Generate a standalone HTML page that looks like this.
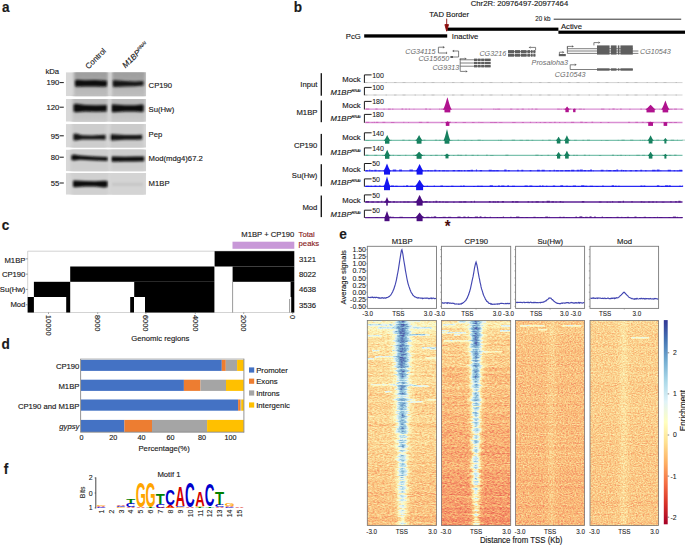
<!DOCTYPE html>
<html><head><meta charset="utf-8"><style>
html,body{margin:0;padding:0;background:#fff;width:685px;height:545px;overflow:hidden}
svg{display:block;font-family:"Liberation Sans",sans-serif;font-size:7.7px;fill:#1a1a1a}
text{stroke:#1a1a1a;stroke-width:0.14px}
text[fill]{stroke:none}
</style></head><body>
<svg width="685" height="545" viewBox="0 0 685 545">
<defs><filter id="bl1" x="-20%" y="-50%" width="140%" height="200%"><feGaussianBlur stdDeviation="1.2"/></filter>
<filter id="bl2" x="-20%" y="-50%" width="140%" height="200%"><feGaussianBlur stdDeviation="1.6"/></filter>
<clipPath id="cpa"><rect x="65.8" y="72.2" width="80.3" height="24"/><rect x="65.8" y="98.9" width="80.3" height="22.8"/><rect x="65.8" y="124.1" width="80.3" height="23.5"/><rect x="65.8" y="149.6" width="80.3" height="21.6"/><rect x="65.8" y="173.1" width="80.3" height="21.6"/></clipPath>
<linearGradient id="lg0" x1="0" y1="0" x2="0" y2="1"><stop offset="0" stop-color="#9c9c9c"/><stop offset="0.35" stop-color="#a2a2a2"/><stop offset="0.6" stop-color="#b6b6b6"/><stop offset="1" stop-color="#c0c0c0"/></linearGradient>
<linearGradient id="lg1" x1="0" y1="0" x2="0" y2="1"><stop offset="0" stop-color="#bcbcbc"/><stop offset="0.4" stop-color="#b4b4b4"/><stop offset="0.65" stop-color="#c4c4c4"/><stop offset="1" stop-color="#cacaca"/></linearGradient>
<linearGradient id="bandg"><stop offset="0" stop-color="#fff" stop-opacity="0"/><stop offset="0.2" stop-color="#fff" stop-opacity="0.15"/><stop offset="0.35" stop-color="#fff" stop-opacity="0.65"/><stop offset="0.5" stop-color="#fff" stop-opacity="1"/><stop offset="0.65" stop-color="#fff" stop-opacity="0.65"/><stop offset="0.8" stop-color="#fff" stop-opacity="0.15"/><stop offset="1" stop-color="#fff" stop-opacity="0"/></linearGradient>
<filter id="hmf0" filterUnits="userSpaceOnUse" x="367.3" y="320.5" width="69.2" height="205.1" color-interpolation-filters="sRGB"><feTurbulence type="fractalNoise" baseFrequency="0.4 1.1" numOctaves="2" seed="11" result="n"/><feColorMatrix in="n" type="matrix" values="1 0 0 0 0  1 0 0 0 0  1 0 0 0 0  0 0 0 0 1" result="ng"/><feComposite in="SourceGraphic" in2="ng" operator="arithmetic" k1="0" k2="1" k3="0.3" k4="-0.15" result="v"/><feComponentTransfer in="v"><feFuncR type="table" tableValues="0.69 0.86 0.95 0.98 0.99 0.99 0.89 0.71 0.53 0.38 0.31"/><feFuncG type="table" tableValues="0.15 0.31 0.51 0.73 0.89 0.99 0.95 0.87 0.72 0.54 0.33"/><feFuncB type="table" tableValues="0.28 0.28 0.38 0.47 0.63 0.78 0.97 0.92 0.84 0.75 0.65"/><feFuncA type="identity"/></feComponentTransfer></filter>
<filter id="hmf1" filterUnits="userSpaceOnUse" x="441.4" y="320.5" width="69.3" height="205.1" color-interpolation-filters="sRGB"><feTurbulence type="fractalNoise" baseFrequency="0.4 1.1" numOctaves="2" seed="12" result="n"/><feColorMatrix in="n" type="matrix" values="1 0 0 0 0  1 0 0 0 0  1 0 0 0 0  0 0 0 0 1" result="ng"/><feComposite in="SourceGraphic" in2="ng" operator="arithmetic" k1="0" k2="1" k3="0.3" k4="-0.15" result="v"/><feComponentTransfer in="v"><feFuncR type="table" tableValues="0.69 0.86 0.95 0.98 0.99 0.99 0.89 0.71 0.53 0.38 0.31"/><feFuncG type="table" tableValues="0.15 0.31 0.51 0.73 0.89 0.99 0.95 0.87 0.72 0.54 0.33"/><feFuncB type="table" tableValues="0.28 0.28 0.38 0.47 0.63 0.78 0.97 0.92 0.84 0.75 0.65"/><feFuncA type="identity"/></feComponentTransfer></filter>
<filter id="hmf2" filterUnits="userSpaceOnUse" x="515.6" y="320.5" width="69" height="205.1" color-interpolation-filters="sRGB"><feTurbulence type="fractalNoise" baseFrequency="0.6 0.9" numOctaves="2" seed="13" result="n"/><feColorMatrix in="n" type="matrix" values="1 0 0 0 0  1 0 0 0 0  1 0 0 0 0  0 0 0 0 1" result="ng"/><feComposite in="SourceGraphic" in2="ng" operator="arithmetic" k1="0" k2="1" k3="0.3" k4="-0.15" result="v"/><feComponentTransfer in="v"><feFuncR type="table" tableValues="0.69 0.86 0.95 0.98 0.99 0.99 0.89 0.71 0.53 0.38 0.31"/><feFuncG type="table" tableValues="0.15 0.31 0.51 0.73 0.89 0.99 0.95 0.87 0.72 0.54 0.33"/><feFuncB type="table" tableValues="0.28 0.28 0.38 0.47 0.63 0.78 0.97 0.92 0.84 0.75 0.65"/><feFuncA type="identity"/></feComponentTransfer></filter>
<filter id="hmf3" filterUnits="userSpaceOnUse" x="590" y="320.5" width="68.6" height="205.1" color-interpolation-filters="sRGB"><feTurbulence type="fractalNoise" baseFrequency="0.6 0.9" numOctaves="2" seed="14" result="n"/><feColorMatrix in="n" type="matrix" values="1 0 0 0 0  1 0 0 0 0  1 0 0 0 0  0 0 0 0 1" result="ng"/><feComposite in="SourceGraphic" in2="ng" operator="arithmetic" k1="0" k2="1" k3="0.3" k4="-0.15" result="v"/><feComponentTransfer in="v"><feFuncR type="table" tableValues="0.69 0.86 0.95 0.98 0.99 0.99 0.89 0.71 0.53 0.38 0.31"/><feFuncG type="table" tableValues="0.15 0.31 0.51 0.73 0.89 0.99 0.95 0.87 0.72 0.54 0.33"/><feFuncB type="table" tableValues="0.28 0.28 0.38 0.47 0.63 0.78 0.97 0.92 0.84 0.75 0.65"/><feFuncA type="identity"/></feComponentTransfer></filter>
<linearGradient id="cbar" x1="0" y1="1" x2="0" y2="0"><stop offset="0" stop-color="#a50026"/><stop offset="0.1" stop-color="#d73027"/><stop offset="0.2" stop-color="#f46d43"/><stop offset="0.3" stop-color="#fdae61"/><stop offset="0.4" stop-color="#fee090"/><stop offset="0.5" stop-color="#ffffbf"/><stop offset="0.6" stop-color="#e0f3f8"/><stop offset="0.7" stop-color="#abd9e9"/><stop offset="0.8" stop-color="#74add1"/><stop offset="0.9" stop-color="#4575b4"/><stop offset="1" stop-color="#313695"/></linearGradient></defs>
<text transform="matrix(1 0 0 1.03 2 11.6)" font-weight="bold" font-size="13.6">a</text>
<text x="88.5" y="69.5" font-size="7.9" transform="rotate(-45 88.5 69.5)">Control</text>
<text x="125.6" y="68.6" font-size="8.1" transform="rotate(-45 125.6 68.6)" font-style="italic">M1BP<tspan font-size="4.6" dy="-3.2">RNAi</tspan></text>
<text transform="matrix(1 0 0 1.05 45.4 74)">kDa</text>
<text transform="matrix(1 0 0 1.05 59.2 85)" text-anchor="end">190</text>
<line x1="59.6" y1="82.6" x2="63.8" y2="82.6" stroke="#1a1a1a" stroke-width="1"/>
<text transform="matrix(1 0 0 1.05 59.2 110)" text-anchor="end">120</text>
<line x1="59.6" y1="107.2" x2="63.8" y2="107.2" stroke="#1a1a1a" stroke-width="1"/>
<text transform="matrix(1 0 0 1.05 59.2 139)" text-anchor="end">95</text>
<line x1="59.6" y1="135.8" x2="63.8" y2="135.8" stroke="#1a1a1a" stroke-width="1"/>
<text transform="matrix(1 0 0 1.05 59.2 160)" text-anchor="end">80</text>
<line x1="59.6" y1="157.2" x2="63.8" y2="157.2" stroke="#1a1a1a" stroke-width="1"/>
<text transform="matrix(1 0 0 1.05 59.2 186)" text-anchor="end">55</text>
<line x1="59.6" y1="183" x2="63.8" y2="183" stroke="#1a1a1a" stroke-width="1"/>
<text transform="matrix(1 0 0 1.05 148.6 88)">CP190</text>
<text transform="matrix(1 0 0 1.05 148.6 112)">Su(Hw)</text>
<text transform="matrix(1 0 0 1.05 148.6 137)">Pep</text>
<text transform="matrix(1 0 0 1.05 148.6 161)">Mod(mdg4)67.2</text>
<text transform="matrix(1 0 0 1.05 148.6 186)">M1BP</text>
<g clip-path="url(#cpa)"><rect x="65.8" y="72.2" width="80.3" height="24" fill="#d8d8d8"/><rect x="65.8" y="98.9" width="80.3" height="22.8" fill="#d8d8d8"/><rect x="65.8" y="124.1" width="80.3" height="23.5" fill="#d8d8d8"/><rect x="65.8" y="149.6" width="80.3" height="21.6" fill="#d8d8d8"/><rect x="65.8" y="173.1" width="80.3" height="21.6" fill="#d8d8d8"/><rect x="74" y="69.2" width="34" height="30" fill="url(#lg0)" filter="url(#bl2)"/><rect x="112" y="69.2" width="33.5" height="30" fill="url(#lg0)" filter="url(#bl2)"/><rect x="72.5" y="95.9" width="35" height="28.8" fill="url(#lg1)" filter="url(#bl2)"/><rect x="111" y="95.9" width="34" height="28.8" fill="url(#lg1)" filter="url(#bl2)"/><rect x="72" y="121.1" width="34.5" height="29.5" fill="#cdcdcd" filter="url(#bl2)"/><rect x="109.5" y="121.1" width="34" height="29.5" fill="#cbcbcb" filter="url(#bl2)"/><rect x="70.5" y="146.6" width="38" height="27.6" fill="#cecece" filter="url(#bl2)"/><rect x="110.5" y="146.6" width="35" height="27.6" fill="#cdcdcd" filter="url(#bl2)"/><rect x="71.5" y="170.1" width="37" height="27.6" fill="#d0d0d0" filter="url(#bl2)"/><rect x="110.5" y="170.1" width="34.5" height="27.6" fill="#d4d4d4" filter="url(#bl2)"/><polygon points="75,80.6 77,79.8 85,80.2 95,80 104,80.4 107,80.8 107,86.2 104,86.8 95,86.4 85,86.6 77,86.8 75,86.2" fill="#0b0b0b" filter="url(#bl1)"/><polygon points="112.8,80.6 115,80.2 125,81 135,81.4 143.5,81 143.5,85.6 135,86.2 125,86.6 115,87 112.8,86.6" fill="#151515" filter="url(#bl1)"/><polygon points="73.6,104.4 76,103.8 85,105 96,105.2 106.8,105 106.8,111.6 96,111.8 85,111.6 76,112.2 73.6,111.6" fill="#0b0b0b" filter="url(#bl1)"/><polygon points="111.6,104.6 114,104.4 125,105.2 135,105.2 142,104.6 143.6,105 143.6,111.4 142,112 135,111.6 125,111.6 114,112.2 111.6,112" fill="#0b0b0b" filter="url(#bl1)"/><polygon points="73.4,134 76,133.6 82,135.2 92,135.6 100,135 105.6,134.8 105.6,139.8 100,139.6 92,139.4 82,139.6 76,140.6 73.4,140.2" fill="#141414" filter="url(#bl1)"/><polygon points="109.8,134.6 112,134.2 125,135 136,135 142.2,134.8 142.2,139.6 136,139.8 125,139.8 112,140.4 109.8,140" fill="#171717" filter="url(#bl1)"/><polygon points="71.4,155.2 74,154.6 80,155.6 95,156.4 107.6,157 107.6,161 95,160.6 80,159.8 74,160.4 71.4,160" fill="#0b0b0b" filter="url(#bl1)"/><polygon points="111.4,156.6 114,156.4 125,156.8 135,156.6 144.2,156.6 144.2,161.2 135,161.4 125,161.6 114,161.8 111.4,161.6" fill="#0b0b0b" filter="url(#bl1)"/><polygon points="73,180.8 75,180.4 85,181 95,181.2 104,180.8 107.6,181 107.6,187 104,187.4 95,186.6 85,186.4 75,187.2 73,186.8" fill="#0b0b0b" filter="url(#bl1)"/><rect x="112" y="182.8" width="31" height="3" fill="#c6c6c6" filter="url(#bl1)"/><rect x="108.6" y="72.2" width="2.4" height="24" fill="#d6d6d6" filter="url(#bl1)" opacity="0.7"/><rect x="108.6" y="98.9" width="2.4" height="22.8" fill="#d6d6d6" filter="url(#bl1)" opacity="0.7"/><rect x="108.6" y="124.1" width="2.4" height="23.5" fill="#d6d6d6" filter="url(#bl1)" opacity="0.7"/><rect x="108.6" y="149.6" width="2.4" height="21.6" fill="#d6d6d6" filter="url(#bl1)" opacity="0.7"/><rect x="108.6" y="173.1" width="2.4" height="21.6" fill="#d6d6d6" filter="url(#bl1)" opacity="0.7"/></g>
<text transform="matrix(1 0 0 1.03 293.8 12)" font-weight="bold" font-size="13.6">b</text>
<text transform="matrix(1 0 0 1.05 470.8 6)">Chr2R: 20976497-20977464</text>
<text transform="matrix(1 0 0 1.05 429.2 17)">TAD Border</text>
<text transform="matrix(1 0 0 1.05 360.8 39)" text-anchor="end">PcG</text>
<text transform="matrix(1 0 0 1.05 451.8 39)">Inactive</text>
<text transform="matrix(1 0 0 1.05 561 29)">Active</text>
<text transform="matrix(1 0 0 1.05 550.6 21)" text-anchor="end" font-size="6.3" style="stroke-width:0.08px">20 kb</text>
<line x1="553.7" y1="19.2" x2="681.2" y2="19.2" stroke="#1a1a1a" stroke-width="0.9"/>
<rect x="364.2" y="34.3" width="83" height="3.3" fill="#000"/>
<rect x="447.2" y="27.6" width="111.2" height="3.2" fill="#000"/>
<rect x="558.4" y="30.6" width="126.6" height="3.2" fill="#000"/>
<path d="M446.7 18.6 L446.7 27 M444.9 24.6 L446.7 31.2 L448.5 24.6 Z" fill="#8b0b0b" stroke="#8b0b0b" stroke-width="0.9"/>
<text transform="matrix(1 0 0 1.05 435.6 54)" text-anchor="end" font-style="italic" fill="#6a6a6a" font-size="7.2">CG34115</text>
<text transform="matrix(1 0 0 1.05 449.2 61)" text-anchor="end" font-style="italic" fill="#6a6a6a" font-size="7.2">CG15650</text>
<text transform="matrix(1 0 0 1.05 459.2 70)" text-anchor="end" font-style="italic" fill="#6a6a6a" font-size="7.2">CG9313</text>
<text transform="matrix(1 0 0 1.05 506.2 56)" text-anchor="end" font-style="italic" fill="#6a6a6a" font-size="7.2">CG3216</text>
<text transform="matrix(1 0 0 1.05 531.6 65)" font-style="italic" fill="#6a6a6a" font-size="7.2">Prosaloha3</text>
<text transform="matrix(1 0 0 1.05 640 54)" font-style="italic" fill="#6a6a6a" font-size="7.2">CG10543</text>
<text transform="matrix(1 0 0 1.05 554.8 77)" font-style="italic" fill="#6a6a6a" font-size="7.2">CG10543</text>
<path d="M438.4 53 V47.2 H442.9" fill="none" stroke="#5e5e5e" stroke-width="0.8"/>
<path d="M442.9 46 L444.9 47.2 L442.9 48.4 Z" fill="#5e5e5e"/>
<line x1="438.4" y1="53" x2="446.6" y2="53" stroke="#5e5e5e" stroke-width="0.8"/>
<line x1="446.6" y1="51.8" x2="446.6" y2="54" stroke="#5e5e5e" stroke-width="0.8"/>
<path d="M458.6 57 V51 H454.1" fill="none" stroke="#5e5e5e" stroke-width="0.8"/>
<path d="M454.1 49.8 L452.1 51 L454.1 52.2 Z" fill="#5e5e5e"/>
<line x1="451.6" y1="57" x2="458.6" y2="57" stroke="#5e5e5e" stroke-width="0.8"/>
<rect x="450.4" y="56" width="2.6" height="2" fill="#5e5e5e"/>
<line x1="460.2" y1="58.6" x2="460.2" y2="71.2" stroke="#5e5e5e" stroke-width="0.8"/>
<path d="M460.2 60 V58.8 H464.7" fill="none" stroke="#5e5e5e" stroke-width="0.8"/>
<path d="M464.7 57.6 L466.7 58.8 L464.7 60 Z" fill="#5e5e5e"/>
<path d="M460.2 71.4 V71.4 H465.7" fill="none" stroke="#5e5e5e" stroke-width="0.8"/>
<path d="M465.7 70.2 L467.7 71.4 L465.7 72.6 Z" fill="#5e5e5e"/>
<line x1="460.2" y1="59.8" x2="490.6" y2="59.8" stroke="#5e5e5e" stroke-width="0.8"/>
<rect x="474" y="58.6" width="3" height="2.4" fill="#5e5e5e"/>
<rect x="477.6" y="58.6" width="3" height="2.4" fill="#5e5e5e"/>
<rect x="481.2" y="58.6" width="2.8" height="2.4" fill="#5e5e5e"/>
<rect x="484.6" y="58.6" width="6" height="2.4" fill="#5e5e5e"/>
<line x1="460.2" y1="63" x2="490.6" y2="63" stroke="#5e5e5e" stroke-width="0.8"/>
<rect x="474" y="61.8" width="3" height="2.4" fill="#5e5e5e"/>
<rect x="477.6" y="61.8" width="3" height="2.4" fill="#5e5e5e"/>
<rect x="481.2" y="61.8" width="2.8" height="2.4" fill="#5e5e5e"/>
<rect x="484.6" y="61.8" width="6" height="2.4" fill="#5e5e5e"/>
<line x1="460.2" y1="66.2" x2="490.6" y2="66.2" stroke="#5e5e5e" stroke-width="0.8"/>
<rect x="474" y="65" width="3" height="2.4" fill="#5e5e5e"/>
<rect x="477.6" y="65" width="3" height="2.4" fill="#5e5e5e"/>
<rect x="481.2" y="65" width="2.8" height="2.4" fill="#5e5e5e"/>
<rect x="484.6" y="65" width="6" height="2.4" fill="#5e5e5e"/>
<line x1="508" y1="51.6" x2="535.4" y2="51.6" stroke="#5e5e5e" stroke-width="0.8"/>
<rect x="508" y="50.1" width="6.2" height="3" fill="#5e5e5e"/>
<rect x="515" y="50.1" width="5.2" height="3" fill="#5e5e5e"/>
<rect x="521" y="50.1" width="5.6" height="3" fill="#5e5e5e"/>
<rect x="527.4" y="50.1" width="2.8" height="3" fill="#5e5e5e"/>
<rect x="531" y="50.1" width="1.6" height="3" fill="#5e5e5e"/>
<rect x="533.4" y="50.1" width="2" height="3" fill="#5e5e5e"/>
<line x1="508" y1="55.2" x2="535.4" y2="55.2" stroke="#5e5e5e" stroke-width="0.8"/>
<rect x="508" y="53.7" width="6.2" height="3" fill="#5e5e5e"/>
<rect x="515" y="53.7" width="5.2" height="3" fill="#5e5e5e"/>
<rect x="521" y="53.7" width="5.6" height="3" fill="#5e5e5e"/>
<rect x="527.4" y="53.7" width="2.8" height="3" fill="#5e5e5e"/>
<rect x="531" y="53.7" width="1.6" height="3" fill="#5e5e5e"/>
<rect x="533.4" y="53.7" width="2" height="3" fill="#5e5e5e"/>
<path d="M535.6 50.2 V47.4 H530.6" fill="none" stroke="#5e5e5e" stroke-width="0.8"/>
<path d="M530.6 46.2 L528.6 47.4 L530.6 48.6 Z" fill="#5e5e5e"/>
<rect x="558.8" y="54" width="7" height="2.2" fill="#5e5e5e"/>
<path d="M559.4 54 V52.2 H562.4" fill="none" stroke="#5e5e5e" stroke-width="0.8"/>
<path d="M562.4 51 L564.4 52.2 L562.4 53.4 Z" fill="#5e5e5e"/>
<line x1="567.4" y1="48.7" x2="632.8" y2="48.7" stroke="#5e5e5e" stroke-width="0.8"/>
<line x1="567.4" y1="51" x2="638.4" y2="51" stroke="#5e5e5e" stroke-width="0.8"/>
<line x1="567.4" y1="53.4" x2="638.4" y2="53.4" stroke="#5e5e5e" stroke-width="0.8"/>
<line x1="567.4" y1="46.4" x2="567.4" y2="53.4" stroke="#5e5e5e" stroke-width="0.8"/>
<path d="M567.4 48.7 V46.4 H571.9" fill="none" stroke="#5e5e5e" stroke-width="0.8"/>
<path d="M571.9 45.2 L573.9 46.4 L571.9 47.6 Z" fill="#5e5e5e"/>
<path d="M593.9 45.4 V42.6 H598.4" fill="none" stroke="#5e5e5e" stroke-width="0.8"/>
<path d="M598.4 41.4 L600.4 42.6 L598.4 43.8 Z" fill="#5e5e5e"/>
<rect x="597" y="45.4" width="12.6" height="9.2" fill="#5e5e5e"/>
<rect x="610.8" y="45.4" width="5.8" height="9.2" fill="#5e5e5e"/>
<rect x="617.8" y="45.4" width="1.6" height="9.2" fill="#5e5e5e"/>
<rect x="620.4" y="45.4" width="12.4" height="9.2" fill="#5e5e5e"/>
<path d="M570.2 69.5 V64.8 H574.7" fill="none" stroke="#5e5e5e" stroke-width="0.8"/>
<path d="M574.7 63.6 L576.7 64.8 L574.7 66 Z" fill="#5e5e5e"/>
<line x1="570.2" y1="69.5" x2="632.8" y2="69.5" stroke="#5e5e5e" stroke-width="0.8"/>
<rect x="597" y="68.3" width="12.6" height="2.4" fill="#5e5e5e"/>
<rect x="610.8" y="68.3" width="5.8" height="2.4" fill="#5e5e5e"/>
<rect x="617.8" y="68.3" width="1.6" height="2.4" fill="#5e5e5e"/>
<rect x="620.4" y="68.3" width="12.4" height="2.4" fill="#5e5e5e"/>
<text transform="matrix(1 0 0 1.05 317.4 87)" text-anchor="end">Input</text>
<rect x="320.6" y="73.2" width="1.4" height="22.5" fill="#1a1a1a"/>
<text transform="matrix(1 0 0 1.05 317.4 115)" text-anchor="end">M1BP</text>
<rect x="320.6" y="100.4" width="1.4" height="21.8" fill="#1a1a1a"/>
<text transform="matrix(1 0 0 1.05 317.4 148)" text-anchor="end">CP190</text>
<rect x="320.6" y="133.9" width="1.4" height="21.5" fill="#1a1a1a"/>
<text transform="matrix(1 0 0 1.05 317.4 178)" text-anchor="end">Su(Hw)</text>
<rect x="320.6" y="164.2" width="1.4" height="22.1" fill="#1a1a1a"/>
<text transform="matrix(1 0 0 1.05 317.4 210)" text-anchor="end">Mod</text>
<rect x="320.6" y="195.5" width="1.4" height="21.6" fill="#1a1a1a"/>
<text transform="matrix(1 0 0 1.05 360.6 82)" text-anchor="end">Mock</text>
<path d="M364.4 82.9 V74.9 H371.6" fill="none" stroke="#1a1a1a" stroke-width="1"/>
<text transform="matrix(1 0 0 1.05 372.2 78)" font-size="7" style="stroke-width:0.08px">100</text>
<line x1="365" y1="82.6" x2="682.5" y2="82.6" stroke="#d2d2d2" stroke-width="1"/>
<line x1="365" y1="82.6" x2="682.5" y2="82.6" stroke="#a0a0a0" stroke-width="0.8" stroke-dasharray="2.5 6 3 9 1.5 7" opacity="0.6"/>
<text transform="matrix(1 0 0 1.05 360.6 95)" text-anchor="end" font-style="italic">M1BP<tspan font-size="3.9" dy="-2.9">RNAi</tspan></text>
<path d="M364.4 95.3 V87.4 H371.6" fill="none" stroke="#1a1a1a" stroke-width="1"/>
<text transform="matrix(1 0 0 1.05 372.2 90)" font-size="7" style="stroke-width:0.08px">100</text>
<line x1="365" y1="95" x2="682.5" y2="95" stroke="#d2d2d2" stroke-width="1"/>
<line x1="365" y1="95" x2="682.5" y2="95" stroke="#a0a0a0" stroke-width="0.8" stroke-dasharray="2.5 6 3 9 1.5 7" opacity="0.6"/>
<text transform="matrix(1 0 0 1.05 360.6 108)" text-anchor="end">Mock</text>
<path d="M364.4 109.5 V101.4 H371.6" fill="none" stroke="#1a1a1a" stroke-width="1"/>
<text transform="matrix(1 0 0 1.05 372.2 104)" font-size="7" style="stroke-width:0.08px">180</text>
<line x1="365" y1="109.2" x2="682.5" y2="109.2" stroke="#d98fd3" stroke-width="1.3"/>
<path d="M366 109.7 h3.31 v-1.38 h-3.31 ZM375.35 109.7 h2.17 v-1.38 h-2.17 ZM383.43 109.7 h1.26 v-1.08 h-1.26 ZM387.95 109.7 h2.89 v-1.15 h-2.89 ZM392.06 109.7 h1.37 v-1.13 h-1.37 ZM401.46 109.7 h1.73 v-1.37 h-1.73 ZM405.23 109.7 h1.58 v-1.21 h-1.58 ZM408.71 109.7 h1.27 v-1.15 h-1.27 ZM413.58 109.7 h0.84 v-0.86 h-0.84 ZM425.17 109.7 h1.8 v-1.34 h-1.8 ZM429.22 109.7 h1.88 v-1.01 h-1.88 ZM439.13 109.7 h1.06 v-1.19 h-1.06 ZM441.16 109.7 h2.61 v-1.12 h-2.61 ZM446.02 109.7 h2.57 v-1.05 h-2.57 ZM480.64 109.7 h1.5 v-0.94 h-1.5 ZM493.23 109.7 h1.17 v-1.21 h-1.17 ZM495.13 109.7 h1.56 v-0.99 h-1.56 ZM497.2 109.7 h2.95 v-1.17 h-2.95 ZM510.11 109.7 h2.21 v-1.32 h-2.21 ZM516.51 109.7 h2.23 v-1 h-2.23 ZM521.67 109.7 h2.18 v-1.23 h-2.18 ZM528.45 109.7 h0.88 v-1.23 h-0.88 ZM531.6 109.7 h1.18 v-1.39 h-1.18 ZM535.09 109.7 h2.4 v-1.13 h-2.4 ZM557.09 109.7 h2.8 v-1.26 h-2.8 ZM560.52 109.7 h1.26 v-1.05 h-1.26 ZM563.39 109.7 h2.54 v-1.25 h-2.54 ZM568.05 109.7 h3.27 v-1.38 h-3.27 ZM573.49 109.7 h2.91 v-1.1 h-2.91 ZM578.74 109.7 h3.13 v-1.14 h-3.13 ZM582.81 109.7 h2.21 v-0.86 h-2.21 ZM600.95 109.7 h3.48 v-1.08 h-3.48 ZM608.68 109.7 h1.49 v-1 h-1.49 ZM612.41 109.7 h2.26 v-1.33 h-2.26 ZM616.38 109.7 h1.45 v-0.8 h-1.45 ZM620 109.7 h1.74 v-1.11 h-1.74 ZM629.26 109.7 h1.34 v-0.84 h-1.34 ZM640.25 109.7 h1.79 v-1.23 h-1.79 ZM646.1 109.7 h2.55 v-1.4 h-2.55 ZM652.24 109.7 h1.56 v-1.26 h-1.56 ZM659.37 109.7 h0.9 v-0.83 h-0.9 ZM664.26 109.7 h2.43 v-0.91 h-2.43 ZM669.36 109.7 h3.17 v-0.92 h-3.17 ZM674.05 109.7 h2.96 v-1.22 h-2.96 ZM680.8 109.7 h3.01 v-0.98 h-3.01 Z" fill="#b0128e" opacity="0.3"/>
<path d="M442.9 109.7 C445 106.8 446.35 100.2 447.4 97.2 C448.45 100.2 449.8 106.8 451.9 109.7 Z" fill="#b0128e"/>
<rect x="444.5" y="109.2" width="5.8" height="3.2" fill="#b0128e"/>
<path d="M564.4 109.7 C565.66 108.68 566.47 107.25 567.1 106.6 C567.73 107.25 568.54 108.68 569.8 109.7 Z" fill="#b0128e"/>
<rect x="565.4" y="109.2" width="3.4" height="3" fill="#b0128e"/>
<path d="M572.8 109.7 C573.5 109.08 573.95 108.75 574.3 108.6 C574.65 108.75 575.1 109.08 575.8 109.7 Z" fill="#b0128e"/>
<rect x="573.1" y="109.2" width="2.4" height="3" fill="#b0128e"/>
<path d="M645.2 109.7 C647.72 108.32 649.34 105.9 650.6 104.8 C651.86 105.9 653.48 108.32 656 109.7 Z" fill="#b0128e"/>
<rect x="646.5" y="109.2" width="8.2" height="3.2" fill="#b0128e"/>
<path d="M661.2 109.7 C663.16 107.48 664.42 102.75 665.4 100.6 C666.38 102.75 667.64 107.48 669.6 109.7 Z" fill="#b0128e"/>
<rect x="662.6" y="109.2" width="5.6" height="3.2" fill="#b0128e"/>
<text transform="matrix(1 0 0 1.05 360.6 121)" text-anchor="end" font-style="italic">M1BP<tspan font-size="3.9" dy="-2.9">RNAi</tspan></text>
<path d="M364.4 122.8 V114.4 H371.6" fill="none" stroke="#1a1a1a" stroke-width="1"/>
<text transform="matrix(1 0 0 1.05 372.2 117)" font-size="7" style="stroke-width:0.08px">180</text>
<line x1="365" y1="122.5" x2="682.5" y2="122.5" stroke="#d98fd3" stroke-width="1.3"/>
<path d="M366 123 h3.26 v-1.14 h-3.26 ZM371.58 123 h1.11 v-0.9 h-1.11 ZM373.68 123 h1.23 v-1.13 h-1.23 ZM375.89 123 h2.48 v-1.34 h-2.48 ZM382.41 123 h2.88 v-1.25 h-2.88 ZM390.96 123 h3.49 v-0.98 h-3.49 ZM403.34 123 h0.97 v-1.35 h-0.97 ZM408.14 123 h0.84 v-0.91 h-0.84 ZM418.84 123 h3.4 v-1.36 h-3.4 ZM426.46 123 h2.28 v-1.19 h-2.28 ZM440.86 123 h2.45 v-0.98 h-2.45 ZM449.09 123 h1.94 v-1.39 h-1.94 ZM454.85 123 h2.01 v-1.05 h-2.01 ZM462.59 123 h3.35 v-0.98 h-3.35 ZM471.88 123 h2.69 v-0.88 h-2.69 ZM478.46 123 h0.91 v-1.23 h-0.91 ZM480.11 123 h3.48 v-0.83 h-3.48 ZM490.14 123 h1.71 v-0.97 h-1.71 ZM492.23 123 h0.9 v-1.12 h-0.9 ZM493.47 123 h3.48 v-1.09 h-3.48 ZM499.12 123 h3.38 v-0.8 h-3.38 ZM512.17 123 h3.46 v-0.97 h-3.46 ZM521.84 123 h2.12 v-0.91 h-2.12 ZM529.88 123 h1.19 v-1.24 h-1.19 ZM535.82 123 h1.19 v-1.09 h-1.19 ZM539.7 123 h1.29 v-1.09 h-1.29 ZM543.55 123 h2.67 v-1.09 h-2.67 ZM548.85 123 h2.88 v-0.8 h-2.88 ZM553.98 123 h1.74 v-1.16 h-1.74 ZM559.01 123 h1.35 v-0.91 h-1.35 ZM564.37 123 h1.4 v-0.95 h-1.4 ZM570.97 123 h3.23 v-1.36 h-3.23 ZM580.22 123 h2.58 v-1.39 h-2.58 ZM584.67 123 h2.6 v-0.95 h-2.6 ZM591.48 123 h1.65 v-1.39 h-1.65 ZM600.02 123 h1.74 v-1.02 h-1.74 ZM607.59 123 h1.75 v-0.94 h-1.75 ZM628.05 123 h2.08 v-1.24 h-2.08 ZM635.29 123 h2.79 v-1.32 h-2.79 ZM641.8 123 h1.96 v-1.18 h-1.96 ZM646.22 123 h1.73 v-0.81 h-1.73 ZM648.52 123 h2.4 v-1.15 h-2.4 ZM660.93 123 h1.41 v-0.85 h-1.41 ZM666.3 123 h1.5 v-0.84 h-1.5 ZM668.82 123 h3.5 v-1.03 h-3.5 ZM673.8 123 h3.18 v-1.01 h-3.18 Z" fill="#b0128e" opacity="0.3"/>
<path d="M444.6 123 C446 122.26 446.9 121.6 447.6 121.3 C448.3 121.6 449.2 122.26 450.6 123 Z" fill="#b0128e"/>
<rect x="445.8" y="122.5" width="3.6" height="3.4" fill="#b0128e"/>
<path d="M646.85 123 C648.6 122.34 649.73 121.9 650.6 121.7 C651.48 121.9 652.6 122.34 654.35 123 Z" fill="#b0128e"/>
<rect x="648.2" y="122.5" width="4.8" height="3.4" fill="#b0128e"/>
<path d="M662.4 123 C663.8 122.38 664.7 122.05 665.4 121.9 C666.1 122.05 667 122.38 668.4 123 Z" fill="#b0128e"/>
<rect x="663.6" y="122.5" width="3.6" height="3.4" fill="#b0128e"/>
<text transform="matrix(1 0 0 1.05 360.6 140)" text-anchor="end">Mock</text>
<path d="M364.4 140.6 V132.8 H371.6" fill="none" stroke="#1a1a1a" stroke-width="1"/>
<text transform="matrix(1 0 0 1.05 372.2 136)" font-size="7" style="stroke-width:0.08px">140</text>
<line x1="365" y1="140.3" x2="682.5" y2="140.3" stroke="#7cc2ae" stroke-width="1.3"/>
<path d="M366 140.8 h3.39 v-0.91 h-3.39 ZM383.8 140.8 h0.86 v-1.06 h-0.86 ZM386.26 140.8 h1.07 v-0.89 h-1.07 ZM388.73 140.8 h3.13 v-0.98 h-3.13 ZM402.27 140.8 h2.33 v-1.26 h-2.33 ZM408.36 140.8 h2 v-1.12 h-2 ZM415.17 140.8 h3.36 v-1.11 h-3.36 ZM423.4 140.8 h2.01 v-1.24 h-2.01 ZM434.9 140.8 h2.23 v-1.36 h-2.23 ZM438.78 140.8 h2.22 v-1.08 h-2.22 ZM443.99 140.8 h2.08 v-1.18 h-2.08 ZM450.51 140.8 h2.07 v-0.9 h-2.07 ZM457.63 140.8 h1.22 v-1.24 h-1.22 ZM463.87 140.8 h1.79 v-0.83 h-1.79 ZM470.74 140.8 h1.86 v-0.92 h-1.86 ZM477.54 140.8 h3.2 v-1.38 h-3.2 ZM482.32 140.8 h0.99 v-0.9 h-0.99 ZM498.19 140.8 h0.94 v-1.01 h-0.94 ZM499.96 140.8 h2.24 v-1.02 h-2.24 ZM511.68 140.8 h3.44 v-1.18 h-3.44 ZM519.64 140.8 h3.31 v-0.94 h-3.31 ZM525.76 140.8 h3.36 v-1.11 h-3.36 ZM531.52 140.8 h1.68 v-1.07 h-1.68 ZM541.89 140.8 h1.58 v-1.11 h-1.58 ZM548.24 140.8 h2.57 v-1.37 h-2.57 ZM556.54 140.8 h3.24 v-1.22 h-3.24 ZM560.33 140.8 h2.5 v-1.11 h-2.5 ZM568.81 140.8 h1.59 v-1.2 h-1.59 ZM573.95 140.8 h2.89 v-1.05 h-2.89 ZM582.3 140.8 h1.94 v-1.15 h-1.94 ZM586.96 140.8 h2.95 v-1.27 h-2.95 ZM601.05 140.8 h1.06 v-0.85 h-1.06 ZM605.29 140.8 h3.36 v-0.86 h-3.36 ZM617.71 140.8 h1.01 v-1.08 h-1.01 ZM621.48 140.8 h3.21 v-1.31 h-3.21 ZM630.07 140.8 h3.19 v-1.2 h-3.19 ZM639.78 140.8 h1.11 v-1.12 h-1.11 ZM642.03 140.8 h0.88 v-0.98 h-0.88 ZM643.7 140.8 h1.94 v-1.03 h-1.94 ZM649.48 140.8 h1.78 v-1.08 h-1.78 ZM656.24 140.8 h2.9 v-1.27 h-2.9 ZM665.03 140.8 h1.39 v-1.09 h-1.39 ZM670.76 140.8 h3.39 v-1.38 h-3.39 ZM676.93 140.8 h0.83 v-1.18 h-0.83 ZM681.92 140.8 h3.48 v-1.26 h-3.48 Z" fill="#16805f" opacity="0.3"/>
<path d="M383.9 140.8 C385.44 139.26 386.43 136.4 387.2 135.1 C387.97 136.4 388.96 139.26 390.5 140.8 Z" fill="#16805f"/>
<rect x="385" y="140.3" width="4.4" height="3.4" fill="#16805f"/>
<path d="M415.5 140.8 C417.18 139.26 418.26 136.4 419.1 135.1 C419.94 136.4 421.02 139.26 422.7 140.8 Z" fill="#16805f"/>
<rect x="416.7" y="140.3" width="4.8" height="3.4" fill="#16805f"/>
<path d="M443.4 140.8 C445.08 138.06 446.16 131.9 447 129.1 C447.84 131.9 448.92 138.06 450.6 140.8 Z" fill="#16805f"/>
<rect x="444.6" y="140.3" width="4.8" height="3.4" fill="#16805f"/>
<path d="M555.6 140.8 C557 139.58 557.9 137.6 558.6 136.7 C559.3 137.6 560.2 139.58 561.6 140.8 Z" fill="#16805f"/>
<rect x="556.8" y="140.3" width="3.6" height="3.2" fill="#16805f"/>
<path d="M563.9 140.8 C565.3 139.3 566.2 136.55 566.9 135.3 C567.6 136.55 568.5 139.3 569.9 140.8 Z" fill="#16805f"/>
<rect x="565.1" y="140.3" width="3.6" height="3.2" fill="#16805f"/>
<path d="M647.3 140.8 C648.84 139.3 649.83 136.55 650.6 135.3 C651.37 136.55 652.36 139.3 653.9 140.8 Z" fill="#16805f"/>
<rect x="648.7" y="140.3" width="3.8" height="3.2" fill="#16805f"/>
<path d="M663 140.8 C664.12 139.82 664.84 138.5 665.4 137.9 C665.96 138.5 666.68 139.82 667.8 140.8 Z" fill="#16805f"/>
<rect x="664.4" y="140.3" width="2" height="3.2" fill="#16805f"/>
<text transform="matrix(1 0 0 1.05 360.6 155)" text-anchor="end" font-style="italic">M1BP<tspan font-size="3.9" dy="-2.9">RNAi</tspan></text>
<path d="M364.4 155.7 V147.9 H371.6" fill="none" stroke="#1a1a1a" stroke-width="1"/>
<text transform="matrix(1 0 0 1.05 372.2 151)" font-size="7" style="stroke-width:0.08px">140</text>
<line x1="365" y1="155.4" x2="682.5" y2="155.4" stroke="#7cc2ae" stroke-width="1.3"/>
<path d="M366 155.9 h2.37 v-1.34 h-2.37 ZM374.27 155.9 h2.89 v-1.12 h-2.89 ZM382.08 155.9 h2.36 v-0.92 h-2.36 ZM390.25 155.9 h0.97 v-1.12 h-0.97 ZM392.54 155.9 h1.44 v-1.26 h-1.44 ZM397.26 155.9 h3.4 v-1 h-3.4 ZM405.08 155.9 h1.36 v-1.18 h-1.36 ZM412.98 155.9 h3.28 v-1.18 h-3.28 ZM419.09 155.9 h0.94 v-1.09 h-0.94 ZM420.51 155.9 h1.18 v-1.34 h-1.18 ZM423.28 155.9 h1.69 v-1.03 h-1.69 ZM430.16 155.9 h2.04 v-0.92 h-2.04 ZM434.94 155.9 h2.71 v-1.18 h-2.71 ZM441.36 155.9 h0.97 v-1.2 h-0.97 ZM443.96 155.9 h0.86 v-0.84 h-0.86 ZM447.37 155.9 h2.41 v-0.81 h-2.41 ZM452.91 155.9 h1.5 v-0.93 h-1.5 ZM457.26 155.9 h2.02 v-1.33 h-2.02 ZM459.59 155.9 h2.58 v-1.23 h-2.58 ZM465.11 155.9 h1.62 v-1.37 h-1.62 ZM471.53 155.9 h2.24 v-1.26 h-2.24 ZM477.13 155.9 h1.35 v-1.1 h-1.35 ZM486.03 155.9 h1.65 v-1.38 h-1.65 ZM490.16 155.9 h3.35 v-0.9 h-3.35 ZM505.41 155.9 h3.04 v-1.3 h-3.04 ZM535.35 155.9 h3.23 v-1.3 h-3.23 ZM540.55 155.9 h2.11 v-0.98 h-2.11 ZM547.38 155.9 h1.79 v-1.17 h-1.79 ZM558.8 155.9 h2.74 v-1.36 h-2.74 ZM565.89 155.9 h1.45 v-0.81 h-1.45 ZM567.73 155.9 h2.39 v-1.29 h-2.39 ZM572.95 155.9 h2.35 v-1.23 h-2.35 ZM576.07 155.9 h1.84 v-1.04 h-1.84 ZM583.82 155.9 h1.91 v-1.37 h-1.91 ZM588.71 155.9 h1.07 v-1.21 h-1.07 ZM598.88 155.9 h2.41 v-0.8 h-2.41 ZM611.93 155.9 h2.07 v-1.32 h-2.07 ZM616.88 155.9 h1.67 v-0.99 h-1.67 ZM619.78 155.9 h2.32 v-1.13 h-2.32 ZM625.02 155.9 h0.87 v-0.99 h-0.87 ZM629.26 155.9 h0.8 v-0.96 h-0.8 ZM636.32 155.9 h3.47 v-1.21 h-3.47 ZM642.03 155.9 h3.03 v-1.04 h-3.03 ZM650.29 155.9 h1.05 v-1.29 h-1.05 ZM662.43 155.9 h0.95 v-1.18 h-0.95 ZM668.7 155.9 h2.66 v-1.24 h-2.66 ZM674.09 155.9 h2.44 v-1.36 h-2.44 Z" fill="#16805f" opacity="0.3"/>
<path d="M383.9 155.9 C385.44 154.28 386.43 151.2 387.2 149.8 C387.97 151.2 388.96 154.28 390.5 155.9 Z" fill="#16805f"/>
<rect x="385" y="155.4" width="4.4" height="3.4" fill="#16805f"/>
<path d="M414.6 155.9 C416.7 154.68 418.05 152.7 419.1 151.8 C420.15 152.7 421.5 154.68 423.6 155.9 Z" fill="#16805f"/>
<rect x="416.6" y="155.4" width="5" height="3.4" fill="#16805f"/>
<path d="M444 155.9 C445.4 155 446.3 153.9 447 153.4 C447.7 153.9 448.6 155 450 155.9 Z" fill="#16805f"/>
<rect x="445.5" y="155.4" width="3" height="3" fill="#16805f"/>
<path d="M555.6 155.9 C557 154.72 557.9 152.85 558.6 152 C559.3 152.85 560.2 154.72 561.6 155.9 Z" fill="#16805f"/>
<rect x="557" y="155.4" width="3.2" height="3.2" fill="#16805f"/>
<path d="M563.9 155.9 C565.3 154.48 566.2 151.95 566.9 150.8 C567.6 151.95 568.5 154.48 569.9 155.9 Z" fill="#16805f"/>
<rect x="565.1" y="155.4" width="3.6" height="3.2" fill="#16805f"/>
<path d="M647.6 155.9 C649 154.68 649.9 152.7 650.6 151.8 C651.3 152.7 652.2 154.68 653.6 155.9 Z" fill="#16805f"/>
<rect x="648.8" y="155.4" width="3.6" height="3.2" fill="#16805f"/>
<path d="M663 155.9 C664.12 155.08 664.84 154.2 665.4 153.8 C665.96 154.2 666.68 155.08 667.8 155.9 Z" fill="#16805f"/>
<rect x="664.4" y="155.4" width="2" height="3.2" fill="#16805f"/>
<text transform="matrix(1 0 0 1.05 360.6 172)" text-anchor="end">Mock</text>
<path d="M364.4 171.1 V163.5 H371.6" fill="none" stroke="#1a1a1a" stroke-width="1"/>
<text transform="matrix(1 0 0 1.05 372.2 166)" font-size="7" style="stroke-width:0.08px">50</text>
<line x1="365" y1="170.8" x2="682.5" y2="170.8" stroke="#2a2af4" stroke-width="1.3"/>
<path d="M366 171.3 h1.72 v-1.35 h-1.72 ZM369.24 171.3 h1.09 v-1.77 h-1.09 ZM371.16 171.3 h1.71 v-1.15 h-1.71 ZM374.4 171.3 h2.07 v-1.57 h-2.07 ZM378.32 171.3 h2.19 v-0.88 h-2.19 ZM387.82 171.3 h2.53 v-0.84 h-2.53 ZM392.74 171.3 h3.47 v-1.77 h-3.47 ZM399.13 171.3 h2.85 v-1.78 h-2.85 ZM409.42 171.3 h3.47 v-1.8 h-3.47 ZM419.12 171.3 h2.89 v-1.35 h-2.89 ZM424.63 171.3 h1.67 v-0.91 h-1.67 ZM427.35 171.3 h1.58 v-1.32 h-1.58 ZM429.71 171.3 h3.09 v-0.91 h-3.09 ZM434.23 171.3 h2.08 v-1.45 h-2.08 ZM438.71 171.3 h1.58 v-1.29 h-1.58 ZM442.1 171.3 h3.14 v-0.94 h-3.14 ZM446.03 171.3 h2.91 v-0.82 h-2.91 ZM452.63 171.3 h2.47 v-1.2 h-2.47 ZM457.47 171.3 h2.9 v-1.32 h-2.9 ZM460.92 171.3 h1.42 v-1.06 h-1.42 ZM464.05 171.3 h1.29 v-1.19 h-1.29 ZM467.18 171.3 h3.03 v-1.25 h-3.03 ZM470.62 171.3 h2.35 v-1.56 h-2.35 ZM475.92 171.3 h1.15 v-1.68 h-1.15 ZM479.74 171.3 h2.36 v-1.19 h-2.36 ZM488.74 171.3 h3.09 v-1.5 h-3.09 ZM492.15 171.3 h3.46 v-1.06 h-3.46 ZM496.19 171.3 h2.49 v-1.27 h-2.49 ZM504.23 171.3 h2.3 v-1.79 h-2.3 ZM508.15 171.3 h1.42 v-1.4 h-1.42 ZM517.16 171.3 h1.58 v-1.47 h-1.58 ZM521.32 171.3 h1.96 v-1.6 h-1.96 ZM529.7 171.3 h1.71 v-1.37 h-1.71 ZM536.97 171.3 h2.8 v-1.47 h-2.8 ZM541.65 171.3 h3.08 v-1.66 h-3.08 ZM549.17 171.3 h1.68 v-1.03 h-1.68 ZM553.61 171.3 h1.25 v-1.45 h-1.25 ZM555.92 171.3 h2.99 v-0.97 h-2.99 ZM560.16 171.3 h2.9 v-0.97 h-2.9 ZM564.98 171.3 h1.93 v-1.22 h-1.93 ZM567.22 171.3 h2.66 v-1.3 h-2.66 ZM571.12 171.3 h3.18 v-1.56 h-3.18 ZM576.73 171.3 h2.42 v-1.65 h-2.42 ZM579.76 171.3 h3.03 v-1.75 h-3.03 ZM583.62 171.3 h2.54 v-1.29 h-2.54 ZM587.72 171.3 h2.04 v-1.04 h-2.04 ZM590.08 171.3 h1.96 v-1.69 h-1.96 ZM592.89 171.3 h0.9 v-0.91 h-0.9 ZM600.75 171.3 h2.75 v-1.54 h-2.75 ZM606.55 171.3 h0.84 v-1.62 h-0.84 ZM608.19 171.3 h3.1 v-1.42 h-3.1 ZM613.22 171.3 h2.75 v-1.18 h-2.75 ZM616.31 171.3 h1.86 v-1.74 h-1.86 ZM620.8 171.3 h1.6 v-1.64 h-1.6 ZM623.02 171.3 h1.1 v-1.18 h-1.1 ZM624.76 171.3 h1.93 v-1.01 h-1.93 ZM629.67 171.3 h2.4 v-1.03 h-2.4 ZM634.99 171.3 h2.39 v-1.33 h-2.39 ZM640.3 171.3 h1.84 v-1.5 h-1.84 ZM645 171.3 h1.64 v-1.14 h-1.64 ZM652.11 171.3 h3.4 v-1.51 h-3.4 ZM656.75 171.3 h2.84 v-1.68 h-2.84 ZM660.43 171.3 h0.82 v-1.07 h-0.82 ZM667.71 171.3 h3.24 v-1.44 h-3.24 ZM673.6 171.3 h1.67 v-0.98 h-1.67 ZM676.79 171.3 h1.96 v-0.91 h-1.96 ZM679.13 171.3 h3.07 v-1.63 h-3.07 Z" fill="#1414f0" opacity="0.75"/>
<path d="M383.1 171.3 C384.92 169.32 386.09 165.25 387 163.4 C387.91 165.25 389.08 169.32 390.9 171.3 Z" fill="#1414f0"/>
<rect x="384" y="170.8" width="6" height="3.8" fill="#1414f0"/>
<path d="M415.4 171.3 C417.36 169.44 418.62 165.7 419.6 164 C420.58 165.7 421.84 169.44 423.8 171.3 Z" fill="#1414f0"/>
<rect x="416.6" y="170.8" width="6" height="3.8" fill="#1414f0"/>
<text transform="matrix(1 0 0 1.05 360.6 185)" text-anchor="end" font-style="italic">M1BP<tspan font-size="3.9" dy="-2.9">RNAi</tspan></text>
<path d="M364.4 186.7 V178.9 H371.6" fill="none" stroke="#1a1a1a" stroke-width="1"/>
<text transform="matrix(1 0 0 1.05 372.2 182)" font-size="7" style="stroke-width:0.08px">50</text>
<line x1="365" y1="186.4" x2="682.5" y2="186.4" stroke="#2a2af4" stroke-width="1.3"/>
<path d="M366 186.9 h3.39 v-1.05 h-3.39 ZM370.37 186.9 h1.72 v-1.12 h-1.72 ZM374.47 186.9 h1.94 v-1.51 h-1.94 ZM379.38 186.9 h1.02 v-1.66 h-1.02 ZM383.03 186.9 h0.99 v-1.09 h-0.99 ZM386.68 186.9 h1.24 v-1.35 h-1.24 ZM390.83 186.9 h3.1 v-1.47 h-3.1 ZM395.28 186.9 h2.36 v-1.21 h-2.36 ZM403.34 186.9 h1.17 v-1.12 h-1.17 ZM406.09 186.9 h2.1 v-1.55 h-2.1 ZM410.14 186.9 h3.18 v-1.08 h-3.18 ZM419.58 186.9 h2.43 v-0.93 h-2.43 ZM426.7 186.9 h1.37 v-1.16 h-1.37 ZM433.74 186.9 h1.05 v-1.43 h-1.05 ZM440.41 186.9 h2.6 v-1.4 h-2.6 ZM445.91 186.9 h3.3 v-0.97 h-3.3 ZM451.05 186.9 h2.39 v-1.09 h-2.39 ZM460.13 186.9 h1.93 v-1.21 h-1.93 ZM462.92 186.9 h1.81 v-1.46 h-1.81 ZM473.02 186.9 h2.02 v-1.02 h-2.02 ZM476.99 186.9 h2.64 v-1.24 h-2.64 ZM480.26 186.9 h2.58 v-1.17 h-2.58 ZM489.65 186.9 h3.25 v-1.6 h-3.25 ZM494.95 186.9 h1.01 v-0.83 h-1.01 ZM497.99 186.9 h1.9 v-1.4 h-1.9 ZM501.2 186.9 h3.22 v-1.42 h-3.22 ZM507.36 186.9 h1.54 v-1.55 h-1.54 ZM511.88 186.9 h3.09 v-1.08 h-3.09 ZM524.55 186.9 h3.22 v-1.29 h-3.22 ZM529.35 186.9 h3.04 v-1.41 h-3.04 ZM535.57 186.9 h2.8 v-0.89 h-2.8 ZM539.29 186.9 h1.55 v-1.37 h-1.55 ZM542.26 186.9 h1.12 v-1.63 h-1.12 ZM545.92 186.9 h1.47 v-1.04 h-1.47 ZM552.79 186.9 h2.39 v-1.35 h-2.39 ZM560.33 186.9 h2.81 v-1.73 h-2.81 ZM565.73 186.9 h2.27 v-1.04 h-2.27 ZM568.49 186.9 h2.46 v-0.91 h-2.46 ZM572.8 186.9 h3.24 v-1.47 h-3.24 ZM577.79 186.9 h1.75 v-0.97 h-1.75 ZM581.14 186.9 h3.32 v-1.71 h-3.32 ZM585.1 186.9 h2.15 v-1.11 h-2.15 ZM589.62 186.9 h3.45 v-1.2 h-3.45 ZM595.6 186.9 h2.96 v-0.86 h-2.96 ZM602.18 186.9 h1.5 v-1.37 h-1.5 ZM611.65 186.9 h2.34 v-1.62 h-2.34 ZM614.85 186.9 h1.82 v-1.15 h-1.82 ZM618.23 186.9 h1.42 v-1.1 h-1.42 ZM640.44 186.9 h2.05 v-1.37 h-2.05 ZM643.51 186.9 h1.8 v-1.42 h-1.8 ZM656.85 186.9 h2.44 v-1.62 h-2.44 ZM661 186.9 h2.45 v-0.98 h-2.45 ZM665.06 186.9 h3.04 v-1.58 h-3.04 ZM668.6 186.9 h2.13 v-1.54 h-2.13 ZM679.5 186.9 h1.03 v-1.41 h-1.03 ZM681.99 186.9 h1.15 v-1.35 h-1.15 Z" fill="#1414f0" opacity="0.75"/>
<path d="M383.4 186.9 C385.08 184.36 386.16 178.75 387 176.2 C387.84 178.75 388.92 184.36 390.6 186.9 Z" fill="#1414f0"/>
<rect x="384" y="186.4" width="6" height="3.8" fill="#1414f0"/>
<path d="M414.2 186.9 C416.72 185.08 418.34 181.45 419.6 179.8 C420.86 181.45 422.48 185.08 425 186.9 Z" fill="#1414f0"/>
<rect x="416.1" y="186.4" width="7" height="3.8" fill="#1414f0"/>
<text transform="matrix(1 0 0 1.05 360.6 203)" text-anchor="end">Mock</text>
<path d="M364.4 202.3 V194.9 H371.6" fill="none" stroke="#1a1a1a" stroke-width="1"/>
<text transform="matrix(1 0 0 1.05 372.2 198)" font-size="7" style="stroke-width:0.08px">50</text>
<line x1="365" y1="202" x2="682.5" y2="202" stroke="#5b1f95" stroke-width="1.3"/>
<path d="M366 202.5 h3.06 v-1.6 h-3.06 ZM371.3 202.5 h2.69 v-1.12 h-2.69 ZM376.57 202.5 h2.66 v-0.89 h-2.66 ZM381.19 202.5 h1.09 v-1.75 h-1.09 ZM384.13 202.5 h3.43 v-1.05 h-3.43 ZM388.62 202.5 h2.36 v-1.35 h-2.36 ZM392.94 202.5 h2.04 v-1.37 h-2.04 ZM396.38 202.5 h1.11 v-0.85 h-1.11 ZM400.27 202.5 h0.89 v-0.94 h-0.89 ZM403.16 202.5 h2.53 v-0.88 h-2.53 ZM406.61 202.5 h2.99 v-0.98 h-2.99 ZM413.51 202.5 h3.06 v-0.93 h-3.06 ZM419.29 202.5 h2.28 v-1.16 h-2.28 ZM424.4 202.5 h3.12 v-1.52 h-3.12 ZM429.08 202.5 h1.45 v-1.07 h-1.45 ZM433.34 202.5 h0.9 v-1.51 h-0.9 ZM435.47 202.5 h1.77 v-1.63 h-1.77 ZM439.27 202.5 h1.11 v-1.51 h-1.11 ZM442.47 202.5 h1.1 v-1.25 h-1.1 ZM445.07 202.5 h3.4 v-0.8 h-3.4 ZM453.06 202.5 h1.67 v-0.83 h-1.67 ZM458.81 202.5 h3.32 v-0.97 h-3.32 ZM463.2 202.5 h3.14 v-1.34 h-3.14 ZM470.72 202.5 h1 v-1.39 h-1 ZM473.95 202.5 h0.94 v-1.69 h-0.94 ZM488.86 202.5 h1.78 v-1.58 h-1.78 ZM492.63 202.5 h1.79 v-1.24 h-1.79 ZM494.79 202.5 h1.44 v-1.11 h-1.44 ZM497.06 202.5 h1.85 v-1.29 h-1.85 ZM501.83 202.5 h2.12 v-1.54 h-2.12 ZM511.91 202.5 h1.86 v-1.45 h-1.86 ZM515.15 202.5 h3.29 v-1.13 h-3.29 ZM527.54 202.5 h1.54 v-1.32 h-1.54 ZM531.56 202.5 h1.66 v-0.88 h-1.66 ZM535.59 202.5 h3.21 v-1.28 h-3.21 ZM542.05 202.5 h2.05 v-1.06 h-2.05 ZM546.63 202.5 h3.26 v-1.63 h-3.26 ZM551.55 202.5 h2.39 v-1.23 h-2.39 ZM555.47 202.5 h1.2 v-0.89 h-1.2 ZM559.65 202.5 h1.65 v-1.39 h-1.65 ZM561.77 202.5 h2.27 v-0.8 h-2.27 ZM581.78 202.5 h2.52 v-1.5 h-2.52 ZM598.86 202.5 h2.69 v-1.11 h-2.69 ZM606.52 202.5 h1.72 v-0.86 h-1.72 ZM609.6 202.5 h1.12 v-0.85 h-1.12 ZM612.2 202.5 h0.97 v-1.57 h-0.97 ZM617.88 202.5 h3.18 v-0.89 h-3.18 ZM622.79 202.5 h1.15 v-1.65 h-1.15 ZM631.41 202.5 h1.22 v-1.58 h-1.22 ZM640.69 202.5 h1.78 v-1.13 h-1.78 ZM643.16 202.5 h2 v-0.8 h-2 ZM647.99 202.5 h2.33 v-0.91 h-2.33 ZM651.78 202.5 h2.25 v-1.03 h-2.25 ZM656.06 202.5 h1.17 v-0.97 h-1.17 ZM661.75 202.5 h2.71 v-0.86 h-2.71 ZM670.36 202.5 h1.14 v-1.43 h-1.14 ZM675.26 202.5 h1.44 v-1.4 h-1.44 ZM678.34 202.5 h2.23 v-1.65 h-2.23 Z" fill="#4a0d80" opacity="0.75"/>
<path d="M384.3 202.5 C385.56 201 386.37 198.25 387 197 C387.63 198.25 388.44 201 389.7 202.5 Z" fill="#4a0d80"/>
<rect x="386.2" y="202" width="1.6" height="3.6" fill="#4a0d80"/>
<path d="M415.1 202.5 C417.2 200.62 418.55 196.82 419.6 195.1 C420.65 196.82 422 200.62 424.1 202.5 Z" fill="#4a0d80"/>
<rect x="416.6" y="202" width="6" height="3.6" fill="#4a0d80"/>
<text transform="matrix(1 0 0 1.05 360.6 217)" text-anchor="end" font-style="italic">M1BP<tspan font-size="3.9" dy="-2.9">RNAi</tspan></text>
<path d="M364.4 217.9 V210.2 H371.6" fill="none" stroke="#1a1a1a" stroke-width="1"/>
<text transform="matrix(1 0 0 1.05 372.2 213)" font-size="7" style="stroke-width:0.08px">50</text>
<line x1="365" y1="217.6" x2="682.5" y2="217.6" stroke="#5b1f95" stroke-width="1.3"/>
<path d="M368.35 218.1 h1.31 v-0.89 h-1.31 ZM375.39 218.1 h2.73 v-0.81 h-2.73 ZM384.89 218.1 h2.08 v-1.22 h-2.08 ZM389.2 218.1 h2.24 v-1.5 h-2.24 ZM392.52 218.1 h0.95 v-1.51 h-0.95 ZM399.4 218.1 h3.48 v-1.44 h-3.48 ZM411.18 218.1 h2.51 v-1.22 h-2.51 ZM420.41 218.1 h3.39 v-1.71 h-3.39 ZM426.34 218.1 h3.02 v-1.32 h-3.02 ZM431.34 218.1 h1.07 v-1.57 h-1.07 ZM433.62 218.1 h2.59 v-1.78 h-2.59 ZM439.17 218.1 h2.87 v-0.83 h-2.87 ZM442.56 218.1 h3.19 v-1.47 h-3.19 ZM448.08 218.1 h3.09 v-1.34 h-3.09 ZM457.42 218.1 h3.2 v-1.55 h-3.2 ZM463.33 218.1 h2.21 v-1.57 h-2.21 ZM467.6 218.1 h1.47 v-1.55 h-1.47 ZM469.38 218.1 h2.91 v-1.14 h-2.91 ZM474.82 218.1 h3.21 v-1.49 h-3.21 ZM479.63 218.1 h1.85 v-1.79 h-1.85 ZM484.16 218.1 h1.87 v-1.29 h-1.87 ZM486.38 218.1 h1.07 v-1.08 h-1.07 ZM489.7 218.1 h1.33 v-1.35 h-1.33 ZM496.85 218.1 h1.1 v-1.01 h-1.1 ZM499.8 218.1 h2.56 v-1.01 h-2.56 ZM502.78 218.1 h1.2 v-1.51 h-1.2 ZM510.03 218.1 h1.61 v-1.32 h-1.61 ZM512.82 218.1 h2.66 v-0.92 h-2.66 ZM516.04 218.1 h3.32 v-1.54 h-3.32 ZM520.31 218.1 h2.95 v-0.96 h-2.95 ZM525.46 218.1 h2.48 v-0.93 h-2.48 ZM533.4 218.1 h2.23 v-1.38 h-2.23 ZM537.34 218.1 h1.03 v-0.86 h-1.03 ZM540.19 218.1 h2.64 v-1.16 h-2.64 ZM545.28 218.1 h2.66 v-1.67 h-2.66 ZM548.71 218.1 h1.09 v-1.23 h-1.09 ZM559.22 218.1 h2 v-1.34 h-2 ZM562.67 218.1 h2.05 v-1.32 h-2.05 ZM566.13 218.1 h1.34 v-1.11 h-1.34 ZM568.5 218.1 h1.13 v-0.95 h-1.13 ZM575.47 218.1 h1.46 v-1.69 h-1.46 ZM579.44 218.1 h2.93 v-1.74 h-2.93 ZM582.7 218.1 h1.36 v-0.99 h-1.36 ZM585.04 218.1 h2.61 v-1.26 h-2.61 ZM589.52 218.1 h2.04 v-1.79 h-2.04 ZM594.12 218.1 h1.67 v-1.48 h-1.67 ZM601.71 218.1 h1.25 v-1.67 h-1.25 ZM605.73 218.1 h2.96 v-1.04 h-2.96 ZM609.44 218.1 h2.26 v-1.17 h-2.26 ZM616.58 218.1 h2.03 v-1.4 h-2.03 ZM621.41 218.1 h0.87 v-1.39 h-0.87 ZM624.71 218.1 h1.18 v-1.16 h-1.18 ZM626.84 218.1 h2.19 v-1.27 h-2.19 ZM634.47 218.1 h2.07 v-1.59 h-2.07 ZM639.09 218.1 h1.66 v-0.93 h-1.66 ZM643.73 218.1 h2.32 v-1.45 h-2.32 ZM648.57 218.1 h2.43 v-0.81 h-2.43 ZM653.51 218.1 h1.85 v-1.07 h-1.85 ZM657.12 218.1 h0.99 v-1.28 h-0.99 ZM658.96 218.1 h3.48 v-1.01 h-3.48 ZM668.4 218.1 h2.24 v-1.06 h-2.24 ZM672.88 218.1 h3.28 v-1.53 h-3.28 ZM677.2 218.1 h0.91 v-1.45 h-0.91 ZM680.54 218.1 h2.26 v-1.17 h-2.26 Z" fill="#4a0d80" opacity="0.75"/>
<path d="M384 218.1 C385.4 216.26 386.3 212.57 387 210.9 C387.7 212.57 388.6 216.26 390 218.1 Z" fill="#4a0d80"/>
<rect x="384.5" y="217.6" width="5" height="3.6" fill="#4a0d80"/>
<path d="M414.5 218.1 C416.88 216.6 418.41 213.85 419.6 212.6 C420.79 213.85 422.32 216.6 424.7 218.1 Z" fill="#4a0d80"/>
<rect x="416.6" y="217.6" width="6" height="3.6" fill="#4a0d80"/>
<text transform="matrix(1 0 0 1.05 447.6 232)" text-anchor="middle" font-weight="bold" fill="#4a0c0c" font-size="15">*</text>
<text transform="matrix(1 0 0 1.03 1.8 230.4)" font-weight="bold" font-size="13.6">c</text>
<line x1="27.7" y1="251.2" x2="294.3" y2="251.2" stroke="#c8c8c8" stroke-width="0.8"/>
<line x1="27.7" y1="312.5" x2="294.3" y2="312.5" stroke="#c8c8c8" stroke-width="0.8"/>
<line x1="27.7" y1="251.2" x2="27.7" y2="312.5" stroke="#c8c8c8" stroke-width="0.8"/>
<rect x="214.6" y="251.2" width="79.7" height="15.3" fill="#000"/>
<rect x="70.2" y="266.5" width="144.2" height="15.3" fill="#000"/>
<rect x="232.6" y="266.5" width="61.7" height="15.3" fill="#000"/>
<rect x="33.9" y="281.8" width="36.3" height="15.2" fill="#000"/>
<rect x="134.2" y="281.8" width="80.2" height="15.2" fill="#000"/>
<rect x="290.6" y="281.8" width="3.7" height="15.2" fill="#000"/>
<rect x="27.7" y="297" width="6.2" height="15.5" fill="#000"/>
<rect x="66.2" y="297" width="4" height="15.5" fill="#000"/>
<rect x="130.2" y="297" width="3.8" height="15.5" fill="#000"/>
<rect x="145" y="297" width="69.4" height="15.5" fill="#000"/>
<rect x="291.2" y="297" width="3.1" height="15.5" fill="#000"/>
<line x1="232.6" y1="281.8" x2="232.6" y2="312.5" stroke="#555" stroke-width="0.6"/>
<line x1="289.6" y1="299" x2="289.6" y2="312.5" stroke="#555" stroke-width="0.6"/>
<text transform="matrix(1 0 0 1.05 25.4 263)" text-anchor="end">M1BP</text>
<line x1="25.8" y1="258.85" x2="27.7" y2="258.85" stroke="#555" stroke-width="0.6"/>
<text transform="matrix(1 0 0 1.05 25.4 277)" text-anchor="end">CP190</text>
<line x1="25.8" y1="274.15" x2="27.7" y2="274.15" stroke="#555" stroke-width="0.6"/>
<text transform="matrix(1 0 0 1.05 25.4 292)" text-anchor="end">Su(Hw)</text>
<line x1="25.8" y1="289.4" x2="27.7" y2="289.4" stroke="#555" stroke-width="0.6"/>
<text transform="matrix(1 0 0 1.05 25.4 307)" text-anchor="end">Mod</text>
<line x1="25.8" y1="304.75" x2="27.7" y2="304.75" stroke="#555" stroke-width="0.6"/>
<text transform="matrix(1 0 0 1.05 298.9 262)">3121</text>
<text transform="matrix(1 0 0 1.05 298.9 277)">8022</text>
<text transform="matrix(1 0 0 1.05 298.9 292)">4638</text>
<text transform="matrix(1 0 0 1.05 298.9 308)">3536</text>
<text transform="matrix(1 0 0 1.05 294.3 237)" text-anchor="end">M1BP + CP190</text>
<text transform="matrix(1 0 0 1.05 298.6 237)" fill="#8b1c1c" style="stroke:#8b1c1c;stroke-width:0.14px">Total</text>
<text transform="matrix(1 0 0 1.05 298.6 246)" fill="#8b1c1c" style="stroke:#8b1c1c;stroke-width:0.14px">peaks</text>
<rect x="232.5" y="241.7" width="61.8" height="7.1" fill="#c898d8"/>
<line x1="48.5" y1="312.5" x2="48.5" y2="313.8" stroke="#555" stroke-width="0.6"/>
<text x="48.5" y="317.66" font-size="7.4" transform="rotate(90 48.5 315)">10000</text>
<line x1="97.7" y1="312.5" x2="97.7" y2="313.8" stroke="#555" stroke-width="0.6"/>
<text x="97.7" y="317.66" font-size="7.4" transform="rotate(90 97.7 315)">8000</text>
<line x1="145.9" y1="312.5" x2="145.9" y2="313.8" stroke="#555" stroke-width="0.6"/>
<text x="145.9" y="317.66" font-size="7.4" transform="rotate(90 145.9 315)">6000</text>
<line x1="195.3" y1="312.5" x2="195.3" y2="313.8" stroke="#555" stroke-width="0.6"/>
<text x="195.3" y="317.66" font-size="7.4" transform="rotate(90 195.3 315)">4000</text>
<line x1="243.7" y1="312.5" x2="243.7" y2="313.8" stroke="#555" stroke-width="0.6"/>
<text x="243.7" y="317.66" font-size="7.4" transform="rotate(90 243.7 315)">2000</text>
<line x1="292.7" y1="312.5" x2="292.7" y2="313.8" stroke="#555" stroke-width="0.6"/>
<text x="292.7" y="317.66" font-size="7.4" transform="rotate(90 292.7 315)">0</text>
<text transform="matrix(1 0 0 1.05 160.3 341)" text-anchor="middle">Genomic regions</text>
<text transform="matrix(1 0 0 1.03 1.6 348.8)" font-weight="bold" font-size="13.6">d</text>
<rect x="81" y="359.8" width="140.8" height="11.1" fill="#4472c4"/>
<rect x="221.8" y="359.8" width="4" height="11.1" fill="#ed7d31"/>
<rect x="225.8" y="359.8" width="11.3" height="11.1" fill="#a5a5a5"/>
<rect x="237.1" y="359.8" width="6.7" height="11.1" fill="#ffc000"/>
<rect x="81" y="379.7" width="102.9" height="11.2" fill="#4472c4"/>
<rect x="183.9" y="379.7" width="16.6" height="11.2" fill="#ed7d31"/>
<rect x="200.5" y="379.7" width="25.5" height="11.2" fill="#a5a5a5"/>
<rect x="226" y="379.7" width="17.8" height="11.2" fill="#ffc000"/>
<rect x="81" y="399.5" width="157.1" height="11.2" fill="#4472c4"/>
<rect x="238.1" y="399.5" width="2.3" height="11.2" fill="#ed7d31"/>
<rect x="240.4" y="399.5" width="0.8" height="11.2" fill="#a5a5a5"/>
<rect x="241.2" y="399.5" width="2.6" height="11.2" fill="#ffc000"/>
<rect x="81" y="419.9" width="43.4" height="12.1" fill="#4472c4"/>
<rect x="124.4" y="419.9" width="27.6" height="12.1" fill="#ed7d31"/>
<rect x="152" y="419.9" width="55.1" height="12.1" fill="#a5a5a5"/>
<rect x="207.1" y="419.9" width="36.7" height="12.1" fill="#ffc000"/>
<line x1="80.6" y1="358.8" x2="80.6" y2="432.4" stroke="#888" stroke-width="0.9"/>
<line x1="80.6" y1="432.2" x2="244.2" y2="432.2" stroke="#888" stroke-width="0.9"/>
<line x1="243.9" y1="358.8" x2="243.9" y2="432.4" stroke="#888" stroke-width="0.9"/>
<line x1="80.6" y1="359" x2="244.2" y2="359" stroke="#888" stroke-width="0.6"/>
<text transform="matrix(1 0 0 1.05 81.4 440)" text-anchor="middle" font-size="7.2">0</text>
<text transform="matrix(1 0 0 1.05 113.2 440)" text-anchor="middle" font-size="7.2">20</text>
<text transform="matrix(1 0 0 1.05 141.4 440)" text-anchor="middle" font-size="7.2">40</text>
<text transform="matrix(1 0 0 1.05 170.4 440)" text-anchor="middle" font-size="7.2">60</text>
<text transform="matrix(1 0 0 1.05 201.9 440)" text-anchor="middle" font-size="7.2">80</text>
<text transform="matrix(1 0 0 1.05 230.6 440)" text-anchor="middle" font-size="7.2">100</text>
<text transform="matrix(1 0 0 1.05 164.1 451)" text-anchor="middle">Percentage(%)</text>
<text transform="matrix(1 0 0 1.05 79.4 369)" text-anchor="end">CP190</text>
<text transform="matrix(1 0 0 1.05 79.4 389)" text-anchor="end">M1BP</text>
<text transform="matrix(1 0 0 1.05 79.4 409)" text-anchor="end">CP190 and M1BP</text>
<text transform="matrix(1 0 0 1.05 79.4 429)" text-anchor="end" font-style="italic">gypsy</text>
<rect x="249" y="367.4" width="5.2" height="5.2" fill="#4472c4"/>
<text transform="matrix(1 0 0 1.05 256.2 373)">Promoter</text>
<rect x="249" y="378.6" width="5.2" height="5.2" fill="#ed7d31"/>
<text transform="matrix(1 0 0 1.05 256.2 384)">Exons</text>
<rect x="249" y="390.4" width="5.2" height="5.2" fill="#a5a5a5"/>
<text transform="matrix(1 0 0 1.05 256.2 396)">Introns</text>
<rect x="249" y="402.4" width="5.2" height="5.2" fill="#ffc000"/>
<text transform="matrix(1 0 0 1.05 256.2 408)">Intergenic</text>
<text transform="matrix(1 0 0 1.03 339.3 238.6)" font-weight="bold" font-size="13.6">e</text>
<rect x="367.3" y="246.3" width="69.2" height="62.1" fill="none" stroke="#7a7a7a" stroke-width="0.9"/>
<text transform="matrix(1 0 0 1.05 402.1 244)" text-anchor="middle">M1BP</text>
<line x1="366.1" y1="249.6" x2="367.3" y2="249.6" stroke="#7a7a7a" stroke-width="0.6"/>
<line x1="366.1" y1="256.7" x2="367.3" y2="256.7" stroke="#7a7a7a" stroke-width="0.6"/>
<line x1="366.1" y1="263.8" x2="367.3" y2="263.8" stroke="#7a7a7a" stroke-width="0.6"/>
<line x1="366.1" y1="270.9" x2="367.3" y2="270.9" stroke="#7a7a7a" stroke-width="0.6"/>
<line x1="366.1" y1="278" x2="367.3" y2="278" stroke="#7a7a7a" stroke-width="0.6"/>
<line x1="366.1" y1="285.1" x2="367.3" y2="285.1" stroke="#7a7a7a" stroke-width="0.6"/>
<line x1="366.1" y1="292.2" x2="367.3" y2="292.2" stroke="#7a7a7a" stroke-width="0.6"/>
<line x1="366.1" y1="299.3" x2="367.3" y2="299.3" stroke="#7a7a7a" stroke-width="0.6"/>
<line x1="366.1" y1="306.4" x2="367.3" y2="306.4" stroke="#7a7a7a" stroke-width="0.6"/>
<line x1="401.9" y1="308.4" x2="401.9" y2="309.6" stroke="#7a7a7a" stroke-width="0.6"/>
<polyline points="367.8,297.06 368.3,297.29 368.8,297.52 369.3,297.48 369.81,297.51 370.31,297.31 370.81,297.58 371.31,297.4 371.81,297.1 372.31,297.38 372.81,297.1 373.32,297.74 373.82,297.77 374.32,297.36 374.82,297.36 375.32,297.71 375.82,297.34 376.32,297.35 376.83,297.39 377.33,297.54 377.83,297.77 378.33,298.04 378.83,297.56 379.33,298.12 379.84,297.88 380.34,298.17 380.84,298.15 381.34,297.73 381.84,298.11 382.34,297.77 382.84,297.71 383.35,297.99 383.85,298.26 384.35,298.09 384.85,297.8 385.35,298.19 385.85,298.16 386.35,297.58 386.86,297.59 387.36,297.54 387.86,297.5 388.36,296.69 388.86,296.67 389.36,296.58 389.86,295.89 390.37,295.44 390.87,294.88 391.37,294.01 391.87,293.06 392.37,292.37 392.87,291.31 393.38,290.02 393.88,289.08 394.38,287.28 394.88,285.74 395.38,284.13 395.88,282.17 396.38,280.04 396.89,277.48 397.39,274.62 397.89,272.26 398.39,269.35 398.89,266.12 399.39,262.96 399.89,259.53 400.4,256.32 400.9,253.37 401.4,250.48 401.9,249.72 402.4,251.94 402.9,254.25 403.4,257.77 403.91,260.98 404.41,263.81 404.91,266.94 405.41,270.37 405.91,273 406.41,275.77 406.91,278.5 407.42,280.84 407.92,283.03 408.42,284.82 408.92,286.39 409.42,287.72 409.92,289.19 410.43,290.48 410.93,291.81 411.43,292.91 411.93,293.4 412.43,294.26 412.93,295.29 413.43,295.47 413.94,296.16 414.44,296.51 414.94,296.89 415.44,297.05 415.94,297.35 416.44,297.66 416.94,297.46 417.45,298.04 417.95,298.21 418.45,297.72 418.95,297.89 419.45,297.98 419.95,297.92 420.45,297.98 420.96,298.35 421.46,298 421.96,297.97 422.46,298.59 422.96,298.22 423.46,298.31 423.96,298.27 424.47,298.17 424.97,298.25 425.47,298.07 425.97,298.34 426.47,298.11 426.97,298.03 427.48,298.08 427.98,298.23 428.48,298.59 428.98,298.36 429.48,298.64 429.98,298.24 430.48,298.14 430.99,298.47 431.49,298.11 431.99,298.68 432.49,298.26 432.99,298.19 433.49,298.19 433.99,298.22 434.5,298.67 435,298.72 435.5,298.43 436,298.2" fill="none" stroke="#4347b2" stroke-width="1.15"/>
<rect x="441.4" y="246.3" width="69.3" height="62.1" fill="none" stroke="#7a7a7a" stroke-width="0.9"/>
<text transform="matrix(1 0 0 1.05 476.25 244)" text-anchor="middle">CP190</text>
<line x1="440.2" y1="249.6" x2="441.4" y2="249.6" stroke="#7a7a7a" stroke-width="0.6"/>
<line x1="440.2" y1="256.7" x2="441.4" y2="256.7" stroke="#7a7a7a" stroke-width="0.6"/>
<line x1="440.2" y1="263.8" x2="441.4" y2="263.8" stroke="#7a7a7a" stroke-width="0.6"/>
<line x1="440.2" y1="270.9" x2="441.4" y2="270.9" stroke="#7a7a7a" stroke-width="0.6"/>
<line x1="440.2" y1="278" x2="441.4" y2="278" stroke="#7a7a7a" stroke-width="0.6"/>
<line x1="440.2" y1="285.1" x2="441.4" y2="285.1" stroke="#7a7a7a" stroke-width="0.6"/>
<line x1="440.2" y1="292.2" x2="441.4" y2="292.2" stroke="#7a7a7a" stroke-width="0.6"/>
<line x1="440.2" y1="299.3" x2="441.4" y2="299.3" stroke="#7a7a7a" stroke-width="0.6"/>
<line x1="440.2" y1="306.4" x2="441.4" y2="306.4" stroke="#7a7a7a" stroke-width="0.6"/>
<line x1="476.05" y1="308.4" x2="476.05" y2="309.6" stroke="#7a7a7a" stroke-width="0.6"/>
<polyline points="441.9,302.97 442.4,302.7 442.9,303.25 443.41,303.23 443.91,302.91 444.41,303.06 444.91,302.75 445.42,302.77 445.92,302.83 446.42,303.13 446.92,302.8 447.42,303.35 447.93,302.74 448.43,302.85 448.93,302.81 449.43,303.32 449.94,303.07 450.44,303.18 450.94,303.13 451.44,303.4 451.94,303.29 452.45,303.21 452.95,303.43 453.45,303.41 453.95,303.35 454.46,303.92 454.96,303.9 455.46,303.96 455.96,304.19 456.46,303.92 456.97,303.97 457.47,304.05 457.97,304.08 458.47,304.29 458.97,303.84 459.48,304.14 459.98,304.15 460.48,303.95 460.98,303.62 461.49,303.95 461.99,303.28 462.49,303.44 462.99,302.87 463.49,302.45 464,302.15 464.5,301.59 465,301.11 465.5,300.86 466.01,300.17 466.51,299.11 467.01,298.39 467.51,297.24 468.01,296.11 468.52,295.09 469.02,293.27 469.52,292.08 470.02,290.22 470.53,288.32 471.03,285.78 471.53,283.61 472.03,281.19 472.53,278.87 473.04,276.63 473.54,273.83 474.04,271.01 474.54,267.75 475.05,265.55 475.55,263.33 476.05,262.08 476.55,263.75 477.05,265.66 477.56,268.34 478.06,271.54 478.56,274.3 479.06,277.15 479.57,279.48 480.07,282.31 480.57,284.14 481.07,286.92 481.57,288.9 482.08,290.39 482.58,291.9 483.08,293.78 483.58,295.28 484.09,296.3 484.59,297.22 485.09,298.37 485.59,299.64 486.09,299.92 486.6,301.2 487.1,301.32 487.6,301.81 488.1,302.2 488.61,303.19 489.11,303.46 489.61,303.32 490.11,303.38 490.61,303.95 491.12,304.25 491.62,303.74 492.12,304.25 492.62,304.46 493.12,304.2 493.63,304.29 494.13,304.44 494.63,304.02 495.13,304.01 495.64,304.24 496.14,304.12 496.64,304.06 497.14,303.87 497.64,304.25 498.15,303.75 498.65,303.97 499.15,304.08 499.65,303.7 500.16,303.42 500.66,303.51 501.16,303.37 501.66,303.41 502.16,303.37 502.67,303.51 503.17,303.51 503.67,303.56 504.17,303.7 504.68,303.7 505.18,303.71 505.68,303.48 506.18,303.69 506.68,303.61 507.19,303.32 507.69,303.61 508.19,303.45 508.69,303.71 509.2,303.75 509.7,303.41 510.2,303.55" fill="none" stroke="#4347b2" stroke-width="1.15"/>
<rect x="515.6" y="246.3" width="69" height="62.1" fill="none" stroke="#7a7a7a" stroke-width="0.9"/>
<text transform="matrix(1 0 0 1.05 550.3 244)" text-anchor="middle">Su(Hw)</text>
<line x1="514.4" y1="249.6" x2="515.6" y2="249.6" stroke="#7a7a7a" stroke-width="0.6"/>
<line x1="514.4" y1="256.7" x2="515.6" y2="256.7" stroke="#7a7a7a" stroke-width="0.6"/>
<line x1="514.4" y1="263.8" x2="515.6" y2="263.8" stroke="#7a7a7a" stroke-width="0.6"/>
<line x1="514.4" y1="270.9" x2="515.6" y2="270.9" stroke="#7a7a7a" stroke-width="0.6"/>
<line x1="514.4" y1="278" x2="515.6" y2="278" stroke="#7a7a7a" stroke-width="0.6"/>
<line x1="514.4" y1="285.1" x2="515.6" y2="285.1" stroke="#7a7a7a" stroke-width="0.6"/>
<line x1="514.4" y1="292.2" x2="515.6" y2="292.2" stroke="#7a7a7a" stroke-width="0.6"/>
<line x1="514.4" y1="299.3" x2="515.6" y2="299.3" stroke="#7a7a7a" stroke-width="0.6"/>
<line x1="514.4" y1="306.4" x2="515.6" y2="306.4" stroke="#7a7a7a" stroke-width="0.6"/>
<line x1="550.1" y1="308.4" x2="550.1" y2="309.6" stroke="#7a7a7a" stroke-width="0.6"/>
<polyline points="516.1,302.16 516.6,302.49 517.1,302.18 517.6,302.56 518.1,302.49 518.6,302.34 519.1,302.5 519.6,302.47 520.1,302.11 520.6,302.45 521.1,302.52 521.6,302.45 522.1,302.7 522.6,302.61 523.1,302.36 523.6,302.26 524.1,302.19 524.6,302.67 525.1,302.59 525.6,302.53 526.1,302.42 526.6,302.46 527.1,302.27 527.6,302.49 528.1,302.22 528.6,302.56 529.1,302.57 529.6,302.6 530.1,302.31 530.6,302.2 531.1,302.37 531.6,302.62 532.1,302.5 532.6,302.67 533.1,302.45 533.6,302.43 534.1,302.79 534.6,302.28 535.1,302.31 535.6,302.57 536.1,302.61 536.6,302.47 537.1,302.55 537.6,302.47 538.1,302.62 538.6,302.77 539.1,302.71 539.6,302.57 540.1,302.42 540.6,302.72 541.1,302.33 541.6,302.4 542.1,302.49 542.6,302.26 543.1,301.94 543.6,302.03 544.1,301.74 544.6,301.74 545.1,301.28 545.6,300.91 546.1,300.87 546.6,300.18 547.1,299.68 547.6,299.63 548.1,299.21 548.6,298.26 549.1,297.83 549.6,298.12 550.1,298.11 550.6,297.99 551.1,298.26 551.6,299 552.1,299.66 552.6,299.65 553.1,300.32 553.6,300.97 554.1,301.14 554.6,301.73 555.1,301.95 555.6,302.56 556.1,302.71 556.6,302.88 557.1,303.31 557.6,303.31 558.1,303.4 558.6,303.48 559.1,303.68 559.6,303.59 560.1,303.83 560.6,303.53 561.1,303.32 561.6,303.19 562.1,303.16 562.6,303.38 563.1,302.91 563.6,303.01 564.1,303.17 564.6,303.13 565.1,302.82 565.6,303.05 566.1,302.88 566.6,302.57 567.1,302.46 567.6,302.5 568.1,302.93 568.6,302.64 569.1,302.95 569.6,303.05 570.1,303.01 570.6,302.7 571.1,302.38 571.6,302.57 572.1,302.53 572.6,302.83 573.1,302.87 573.6,303.03 574.1,302.88 574.6,303.06 575.1,302.84 575.6,302.73 576.1,302.99 576.6,302.6 577.1,302.95 577.6,302.92 578.1,303.02 578.6,302.46 579.1,302.55 579.6,303.09 580.1,302.52 580.6,302.74 581.1,302.85 581.6,302.77 582.1,303.05 582.6,303.11 583.1,302.68 583.6,302.54 584.1,303.09" fill="none" stroke="#4347b2" stroke-width="1.15"/>
<rect x="590" y="246.3" width="68.6" height="62.1" fill="none" stroke="#7a7a7a" stroke-width="0.9"/>
<text transform="matrix(1 0 0 1.05 624.5 244)" text-anchor="middle">Mod</text>
<line x1="588.8" y1="249.6" x2="590" y2="249.6" stroke="#7a7a7a" stroke-width="0.6"/>
<line x1="588.8" y1="256.7" x2="590" y2="256.7" stroke="#7a7a7a" stroke-width="0.6"/>
<line x1="588.8" y1="263.8" x2="590" y2="263.8" stroke="#7a7a7a" stroke-width="0.6"/>
<line x1="588.8" y1="270.9" x2="590" y2="270.9" stroke="#7a7a7a" stroke-width="0.6"/>
<line x1="588.8" y1="278" x2="590" y2="278" stroke="#7a7a7a" stroke-width="0.6"/>
<line x1="588.8" y1="285.1" x2="590" y2="285.1" stroke="#7a7a7a" stroke-width="0.6"/>
<line x1="588.8" y1="292.2" x2="590" y2="292.2" stroke="#7a7a7a" stroke-width="0.6"/>
<line x1="588.8" y1="299.3" x2="590" y2="299.3" stroke="#7a7a7a" stroke-width="0.6"/>
<line x1="588.8" y1="306.4" x2="590" y2="306.4" stroke="#7a7a7a" stroke-width="0.6"/>
<line x1="624.3" y1="308.4" x2="624.3" y2="309.6" stroke="#7a7a7a" stroke-width="0.6"/>
<polyline points="590.5,298.54 591,298.18 591.5,298.37 592,298.38 592.5,298.02 593,297.93 593.5,298.3 594.01,297.97 594.51,298.16 595.01,298.52 595.51,298.51 596.01,297.99 596.51,297.96 597.01,298.07 597.51,298.5 598.01,297.94 598.51,298.08 599.01,298 599.51,298.02 600.01,298.3 600.51,298.07 601.02,298.23 601.52,298.46 602.02,298.46 602.52,298.25 603.02,298.51 603.52,298.37 604.02,298.55 604.52,298.15 605.02,298.24 605.52,298.39 606.02,298.65 606.52,298.43 607.02,298.33 607.53,298.18 608.03,298.2 608.53,298.16 609.03,298.7 609.53,298.64 610.03,298.64 610.53,298.39 611.03,298.52 611.53,298.23 612.03,298.35 612.53,298.11 613.03,298.29 613.53,298.15 614.03,298.02 614.54,298.55 615.04,297.93 615.54,298.36 616.04,298.19 616.54,297.65 617.04,297.79 617.54,297.96 618.04,297.74 618.54,297.17 619.04,297 619.54,296.59 620.04,295.87 620.54,295.59 621.05,295.11 621.55,294.42 622.05,294.17 622.55,293.38 623.05,293.12 623.55,292.27 624.05,292.37 624.55,292.31 625.05,293.14 625.55,293.8 626.05,294.13 626.55,294.72 627.05,295.33 627.55,295.6 628.06,296.22 628.56,296.82 629.06,297.29 629.56,297.46 630.06,297.84 630.56,297.99 631.06,298.36 631.56,298.61 632.06,298.49 632.56,298.83 633.06,299.01 633.56,298.83 634.06,299.16 634.57,298.69 635.07,299.11 635.57,298.58 636.07,298.68 636.57,298.98 637.07,298.41 637.57,298.8 638.07,298.96 638.57,299 639.07,298.8 639.57,298.56 640.07,298.55 640.57,298.75 641.07,298.36 641.58,298.33 642.08,298.93 642.58,298.75 643.08,298.43 643.58,298.62 644.08,298.53 644.58,298.94 645.08,298.53 645.58,298.84 646.08,298.86 646.58,298.57 647.08,298.53 647.58,298.72 648.09,298.64 648.59,298.78 649.09,298.6 649.59,298.93 650.09,298.67 650.59,298.48 651.09,298.93 651.59,299.02 652.09,298.87 652.59,298.78 653.09,299.01 653.59,299.06 654.09,298.42 654.59,298.76 655.1,298.43 655.6,298.66 656.1,298.6 656.6,298.76 657.1,298.91 657.6,299.04 658.1,298.63" fill="none" stroke="#4347b2" stroke-width="1.15"/>
<text transform="matrix(1 0 0 1.05 366 252)" text-anchor="end" font-size="7" style="stroke-width:0.08px">1.50</text>
<text transform="matrix(1 0 0 1.05 366 259)" text-anchor="end" font-size="7" style="stroke-width:0.08px">1.25</text>
<text transform="matrix(1 0 0 1.05 366 266)" text-anchor="end" font-size="7" style="stroke-width:0.08px">1.00</text>
<text transform="matrix(1 0 0 1.05 366 273)" text-anchor="end" font-size="7" style="stroke-width:0.08px">0.75</text>
<text transform="matrix(1 0 0 1.05 366 281)" text-anchor="end" font-size="7" style="stroke-width:0.08px">0.50</text>
<text transform="matrix(1 0 0 1.05 366 288)" text-anchor="end" font-size="7" style="stroke-width:0.08px">0.25</text>
<text transform="matrix(1 0 0 1.05 366 295)" text-anchor="end" font-size="7" style="stroke-width:0.08px">0.00</text>
<text transform="matrix(1 0 0 1.05 366 302)" text-anchor="end" font-size="7" style="stroke-width:0.08px">-0.25</text>
<text transform="matrix(1 0 0 1.05 366 309)" text-anchor="end" font-size="7" style="stroke-width:0.08px">-0.50</text>
<text x="342.9" y="280.07" text-anchor="middle" transform="rotate(-90 342.9 277.3)">Average signals</text>
<text transform="matrix(1 0 0 1.05 367.7 316)" text-anchor="middle" font-size="6.3" style="stroke-width:0.08px">-3.0</text>
<text transform="matrix(1 0 0 1.05 398.4 316)" text-anchor="middle" font-size="6.3" style="stroke-width:0.08px">TSS</text>
<text transform="matrix(1 0 0 1.05 434.4 316)" text-anchor="middle" font-size="6.3" style="stroke-width:0.08px">3.0 -3.0</text>
<text transform="matrix(1 0 0 1.05 467.4 316)" text-anchor="middle" font-size="6.3" style="stroke-width:0.08px">TSS</text>
<text transform="matrix(1 0 0 1.05 503.3 316)" text-anchor="middle" font-size="6.3" style="stroke-width:0.08px">3.0 -3.0</text>
<text transform="matrix(1 0 0 1.05 536.2 316)" text-anchor="middle" font-size="6.3" style="stroke-width:0.08px">TSS</text>
<text transform="matrix(1 0 0 1.05 570.7 316)" text-anchor="middle" font-size="6.3" style="stroke-width:0.08px">3.0 -3.0</text>
<text transform="matrix(1 0 0 1.05 605 316)" text-anchor="middle" font-size="6.3" style="stroke-width:0.08px">TSS</text>
<text transform="matrix(1 0 0 1.05 636.8 316)" text-anchor="middle" font-size="6.3" style="stroke-width:0.08px">3.0</text>
<g filter="url(#hmf0)"><rect x="367.3" y="320.5" width="69.2" height="1.3" fill="#8f8f8f"/><rect x="373.09" y="320.5" width="8.59" height="1" fill="#ffffff" fill-opacity="0.85"/><rect x="412.06" y="320.5" width="8.19" height="1" fill="#f2f2f2" fill-opacity="0.85"/><rect x="367.3" y="321.5" width="69.2" height="1.3" fill="#757575"/><rect x="367.3" y="322.5" width="69.2" height="1.3" fill="#8a8a8a"/><rect x="367.3" y="323.5" width="69.2" height="1.3" fill="#858585"/><rect x="367.3" y="324.5" width="69.2" height="1.3" fill="#878787"/><rect x="382.21" y="324.5" width="10.38" height="1" fill="#e6e6e6" fill-opacity="0.85"/><rect x="367.3" y="324.5" width="14.98" height="1" fill="#ffffff" fill-opacity="0.85"/><rect x="367.3" y="325.5" width="69.2" height="1.3" fill="#8b8b8b"/><rect x="367.3" y="326.5" width="69.2" height="1.3" fill="#868686"/><rect x="367.3" y="327.5" width="69.2" height="1.3" fill="#7d7d7d"/><rect x="413.25" y="327.5" width="18.64" height="1" fill="#f4f4f4" fill-opacity="0.85"/><rect x="377.86" y="327.5" width="22.25" height="1" fill="#f0f0f0" fill-opacity="0.85"/><rect x="367.3" y="328.5" width="69.2" height="1.3" fill="#939393"/><rect x="367.3" y="329.5" width="69.2" height="1.3" fill="#7e7e7e"/><rect x="367.3" y="330.5" width="69.2" height="1.3" fill="#868686"/><rect x="367.3" y="331.51" width="69.2" height="1.3" fill="#787878"/><rect x="367.3" y="332.51" width="69.2" height="1.3" fill="#7c7c7c"/><rect x="367.3" y="333.51" width="69.2" height="1.3" fill="#828282"/><rect x="367.3" y="334.51" width="69.2" height="1.3" fill="#6e6e6e"/><rect x="402.24" y="334.51" width="22.82" height="1" fill="#d3d3d3" fill-opacity="0.85"/><rect x="409.25" y="334.51" width="20.64" height="1" fill="#ebebeb" fill-opacity="0.85"/><rect x="367.3" y="335.51" width="69.2" height="1.3" fill="#797979"/><rect x="398.31" y="335.51" width="6.1" height="1" fill="#dadada" fill-opacity="0.85"/><rect x="367.3" y="335.51" width="14.11" height="1" fill="#e6e6e6" fill-opacity="0.85"/><rect x="367.3" y="336.51" width="69.2" height="1.3" fill="#6c6c6c"/><rect x="367.3" y="337.51" width="69.2" height="1.3" fill="#7c7c7c"/><rect x="367.3" y="338.51" width="69.2" height="1.3" fill="#636363"/><rect x="367.3" y="339.51" width="69.2" height="1.3" fill="#757575"/><rect x="367.3" y="340.51" width="69.2" height="1.3" fill="#717171"/><rect x="367.3" y="341.51" width="69.2" height="1.3" fill="#737373"/><rect x="367.3" y="342.51" width="69.2" height="1.3" fill="#7d7d7d"/><rect x="367.3" y="343.51" width="69.2" height="1.3" fill="#717171"/><rect x="367.3" y="344.51" width="69.2" height="1.3" fill="#6a6a6a"/><rect x="367.3" y="345.51" width="69.2" height="1.3" fill="#717171"/><rect x="367.3" y="346.51" width="69.2" height="1.3" fill="#696969"/><rect x="367.3" y="347.51" width="69.2" height="1.3" fill="#7a7a7a"/><rect x="422" y="347.51" width="14.5" height="1" fill="#fafafa" fill-opacity="0.85"/><rect x="367.3" y="348.51" width="69.2" height="1.3" fill="#737373"/><rect x="430.27" y="348.51" width="6.23" height="1" fill="#e3e3e3" fill-opacity="0.85"/><rect x="367.3" y="349.51" width="69.2" height="1.3" fill="#787878"/><rect x="367.3" y="350.51" width="69.2" height="1.3" fill="#686868"/><rect x="391.87" y="350.51" width="15.04" height="1" fill="#e3e3e3" fill-opacity="0.85"/><rect x="372.36" y="350.51" width="7.03" height="1" fill="#e4e4e4" fill-opacity="0.85"/><rect x="367.3" y="351.52" width="69.2" height="1.3" fill="#6a6a6a"/><rect x="367.3" y="352.52" width="69.2" height="1.3" fill="#767676"/><rect x="367.3" y="353.52" width="69.2" height="1.3" fill="#7a7a7a"/><rect x="367.3" y="354.52" width="69.2" height="1.3" fill="#616161"/><rect x="367.3" y="355.52" width="69.2" height="1.3" fill="#656565"/><rect x="367.3" y="356.52" width="69.2" height="1.3" fill="#6d6d6d"/><rect x="375.02" y="356.52" width="24.63" height="1" fill="#ebebeb" fill-opacity="0.85"/><rect x="367.3" y="357.52" width="69.2" height="1.3" fill="#656565"/><rect x="393.58" y="357.52" width="15.95" height="1" fill="#cacaca" fill-opacity="0.85"/><rect x="425.34" y="357.52" width="11.16" height="1" fill="#cbcbcb" fill-opacity="0.85"/><rect x="367.3" y="358.52" width="69.2" height="1.3" fill="#7e7e7e"/><rect x="367.3" y="358.52" width="6.59" height="1" fill="#dcdcdc" fill-opacity="0.85"/><rect x="367.3" y="359.52" width="69.2" height="1.3" fill="#787878"/><rect x="367.3" y="360.52" width="69.2" height="1.3" fill="#666666"/><rect x="367.3" y="361.52" width="69.2" height="1.3" fill="#646464"/><rect x="367.3" y="362.52" width="69.2" height="1.3" fill="#717171"/><rect x="367.3" y="363.52" width="69.2" height="1.3" fill="#666666"/><rect x="367.3" y="364.52" width="69.2" height="1.3" fill="#696969"/><rect x="367.3" y="365.52" width="69.2" height="1.3" fill="#6c6c6c"/><rect x="367.3" y="366.52" width="69.2" height="1.3" fill="#686868"/><rect x="367.3" y="367.52" width="69.2" height="1.3" fill="#757575"/><rect x="367.3" y="368.52" width="69.2" height="1.3" fill="#656565"/><rect x="367.3" y="369.52" width="69.2" height="1.3" fill="#707070"/><rect x="367.3" y="370.52" width="69.2" height="1.3" fill="#717171"/><rect x="367.3" y="371.52" width="69.2" height="1.3" fill="#676767"/><rect x="367.3" y="372.53" width="69.2" height="1.3" fill="#676767"/><rect x="367.3" y="373.53" width="69.2" height="1.3" fill="#707070"/><rect x="367.3" y="374.53" width="69.2" height="1.3" fill="#727272"/><rect x="367.3" y="375.53" width="69.2" height="1.3" fill="#5f5f5f"/><rect x="367.3" y="376.53" width="69.2" height="1.3" fill="#696969"/><rect x="367.3" y="377.53" width="69.2" height="1.3" fill="#7c7c7c"/><rect x="367.3" y="378.53" width="69.2" height="1.3" fill="#6a6a6a"/><rect x="367.3" y="379.53" width="69.2" height="1.3" fill="#737373"/><rect x="367.3" y="380.53" width="69.2" height="1.3" fill="#696969"/><rect x="367.3" y="381.53" width="69.2" height="1.3" fill="#727272"/><rect x="367.3" y="382.53" width="69.2" height="1.3" fill="#707070"/><rect x="367.3" y="383.53" width="69.2" height="1.3" fill="#717171"/><rect x="367.3" y="384.53" width="69.2" height="1.3" fill="#606060"/><rect x="370.71" y="384.53" width="24.85" height="1" fill="#d4d4d4" fill-opacity="0.85"/><rect x="408.26" y="384.53" width="8.53" height="1" fill="#d6d6d6" fill-opacity="0.85"/><rect x="367.3" y="385.53" width="69.2" height="1.3" fill="#6d6d6d"/><rect x="411.92" y="385.53" width="16.49" height="1" fill="#eaeaea" fill-opacity="0.85"/><rect x="367.3" y="386.53" width="69.2" height="1.3" fill="#717171"/><rect x="367.3" y="387.53" width="69.2" height="1.3" fill="#666666"/><rect x="367.3" y="388.53" width="69.2" height="1.3" fill="#666666"/><rect x="367.3" y="389.53" width="69.2" height="1.3" fill="#6a6a6a"/><rect x="367.3" y="390.53" width="69.2" height="1.3" fill="#646464"/><rect x="367.3" y="391.53" width="69.2" height="1.3" fill="#6c6c6c"/><rect x="384.52" y="391.53" width="7.11" height="1" fill="#e1e1e1" fill-opacity="0.85"/><rect x="367.3" y="392.54" width="69.2" height="1.3" fill="#686868"/><rect x="367.3" y="393.54" width="69.2" height="1.3" fill="#616161"/><rect x="367.3" y="394.54" width="69.2" height="1.3" fill="#656565"/><rect x="367.3" y="395.54" width="69.2" height="1.3" fill="#626262"/><rect x="367.3" y="396.54" width="69.2" height="1.3" fill="#646464"/><rect x="367.3" y="397.54" width="69.2" height="1.3" fill="#656565"/><rect x="367.3" y="398.54" width="69.2" height="1.3" fill="#6d6d6d"/><rect x="367.3" y="399.54" width="69.2" height="1.3" fill="#676767"/><rect x="427.29" y="399.54" width="9.2" height="1" fill="#cacaca" fill-opacity="0.85"/><rect x="393.23" y="399.54" width="21.94" height="1" fill="#cacaca" fill-opacity="0.85"/><rect x="367.3" y="400.54" width="69.2" height="1.3" fill="#6f6f6f"/><rect x="367.3" y="401.54" width="69.2" height="1.3" fill="#686868"/><rect x="410.48" y="401.54" width="12.42" height="1" fill="#d7d7d7" fill-opacity="0.85"/><rect x="367.3" y="402.54" width="69.2" height="1.3" fill="#696969"/><rect x="367.3" y="403.54" width="69.2" height="1.3" fill="#666666"/><rect x="367.3" y="404.54" width="69.2" height="1.3" fill="#606060"/><rect x="367.3" y="405.54" width="69.2" height="1.3" fill="#666666"/><rect x="367.3" y="406.54" width="69.2" height="1.3" fill="#626262"/><rect x="367.3" y="407.54" width="69.2" height="1.3" fill="#686868"/><rect x="367.3" y="408.54" width="69.2" height="1.3" fill="#5f5f5f"/><rect x="367.3" y="409.54" width="69.2" height="1.3" fill="#6f6f6f"/><rect x="367.3" y="410.54" width="69.2" height="1.3" fill="#5f5f5f"/><rect x="367.3" y="411.54" width="69.2" height="1.3" fill="#686868"/><rect x="367.3" y="412.54" width="69.2" height="1.3" fill="#646464"/><rect x="367.3" y="413.55" width="69.2" height="1.3" fill="#626262"/><rect x="367.3" y="414.55" width="69.2" height="1.3" fill="#696969"/><rect x="367.3" y="415.55" width="69.2" height="1.3" fill="#6f6f6f"/><rect x="367.3" y="416.55" width="69.2" height="1.3" fill="#727272"/><rect x="367.3" y="417.55" width="69.2" height="1.3" fill="#666666"/><rect x="367.3" y="418.55" width="69.2" height="1.3" fill="#686868"/><rect x="367.3" y="419.55" width="69.2" height="1.3" fill="#666666"/><rect x="367.3" y="420.55" width="69.2" height="1.3" fill="#707070"/><rect x="367.3" y="421.55" width="69.2" height="1.3" fill="#636363"/><rect x="367.3" y="422.55" width="69.2" height="1.3" fill="#6a6a6a"/><rect x="367.3" y="423.55" width="69.2" height="1.3" fill="#626262"/><rect x="367.3" y="424.55" width="69.2" height="1.3" fill="#5b5b5b"/><rect x="367.3" y="425.55" width="69.2" height="1.3" fill="#5c5c5c"/><rect x="367.3" y="426.55" width="69.2" height="1.3" fill="#626262"/><rect x="367.3" y="427.55" width="69.2" height="1.3" fill="#6d6d6d"/><rect x="367.3" y="428.55" width="69.2" height="1.3" fill="#646464"/><rect x="367.3" y="429.55" width="69.2" height="1.3" fill="#666666"/><rect x="367.3" y="430.55" width="69.2" height="1.3" fill="#686868"/><rect x="367.3" y="431.55" width="69.2" height="1.3" fill="#626262"/><rect x="367.3" y="432.55" width="69.2" height="1.3" fill="#686868"/><rect x="367.3" y="433.56" width="69.2" height="1.3" fill="#6e6e6e"/><rect x="367.3" y="434.56" width="69.2" height="1.3" fill="#616161"/><rect x="367.3" y="435.56" width="69.2" height="1.3" fill="#666666"/><rect x="367.3" y="436.56" width="69.2" height="1.3" fill="#6a6a6a"/><rect x="367.3" y="437.56" width="69.2" height="1.3" fill="#656565"/><rect x="367.3" y="438.56" width="69.2" height="1.3" fill="#5f5f5f"/><rect x="367.3" y="439.56" width="69.2" height="1.3" fill="#646464"/><rect x="367.3" y="440.56" width="69.2" height="1.3" fill="#6d6d6d"/><rect x="367.3" y="441.56" width="69.2" height="1.3" fill="#676767"/><rect x="367.3" y="442.56" width="69.2" height="1.3" fill="#636363"/><rect x="367.3" y="443.56" width="69.2" height="1.3" fill="#6b6b6b"/><rect x="367.3" y="444.56" width="69.2" height="1.3" fill="#606060"/><rect x="367.3" y="445.56" width="69.2" height="1.3" fill="#646464"/><rect x="367.3" y="446.56" width="69.2" height="1.3" fill="#696969"/><rect x="367.3" y="447.56" width="69.2" height="1.3" fill="#676767"/><rect x="367.3" y="448.56" width="69.2" height="1.3" fill="#636363"/><rect x="367.3" y="449.56" width="69.2" height="1.3" fill="#5d5d5d"/><rect x="367.3" y="450.56" width="69.2" height="1.3" fill="#6e6e6e"/><rect x="367.3" y="451.56" width="69.2" height="1.3" fill="#5f5f5f"/><rect x="367.3" y="452.56" width="69.2" height="1.3" fill="#646464"/><rect x="367.3" y="453.56" width="69.2" height="1.3" fill="#606060"/><rect x="367.3" y="454.57" width="69.2" height="1.3" fill="#646464"/><rect x="367.3" y="455.57" width="69.2" height="1.3" fill="#606060"/><rect x="367.3" y="456.57" width="69.2" height="1.3" fill="#646464"/><rect x="367.3" y="457.57" width="69.2" height="1.3" fill="#646464"/><rect x="367.3" y="458.57" width="69.2" height="1.3" fill="#646464"/><rect x="367.3" y="459.57" width="69.2" height="1.3" fill="#656565"/><rect x="367.3" y="460.57" width="69.2" height="1.3" fill="#616161"/><rect x="367.3" y="461.57" width="69.2" height="1.3" fill="#5f5f5f"/><rect x="367.3" y="462.57" width="69.2" height="1.3" fill="#585858"/><rect x="367.3" y="463.57" width="69.2" height="1.3" fill="#646464"/><rect x="367.3" y="464.57" width="69.2" height="1.3" fill="#636363"/><rect x="367.3" y="465.57" width="69.2" height="1.3" fill="#656565"/><rect x="367.3" y="466.57" width="69.2" height="1.3" fill="#5e5e5e"/><rect x="367.3" y="467.57" width="69.2" height="1.3" fill="#616161"/><rect x="367.3" y="468.57" width="69.2" height="1.3" fill="#656565"/><rect x="367.3" y="469.57" width="69.2" height="1.3" fill="#595959"/><rect x="367.3" y="470.57" width="69.2" height="1.3" fill="#595959"/><rect x="367.3" y="471.57" width="69.2" height="1.3" fill="#5b5b5b"/><rect x="367.3" y="472.57" width="69.2" height="1.3" fill="#5c5c5c"/><rect x="367.3" y="473.57" width="69.2" height="1.3" fill="#626262"/><rect x="367.3" y="474.58" width="69.2" height="1.3" fill="#5c5c5c"/><rect x="367.3" y="475.58" width="69.2" height="1.3" fill="#5f5f5f"/><rect x="367.3" y="476.58" width="69.2" height="1.3" fill="#636363"/><rect x="367.3" y="477.58" width="69.2" height="1.3" fill="#5e5e5e"/><rect x="367.3" y="478.58" width="69.2" height="1.3" fill="#656565"/><rect x="367.3" y="479.58" width="69.2" height="1.3" fill="#5b5b5b"/><rect x="367.3" y="480.58" width="69.2" height="1.3" fill="#5e5e5e"/><rect x="367.3" y="481.58" width="69.2" height="1.3" fill="#595959"/><rect x="367.3" y="482.58" width="69.2" height="1.3" fill="#595959"/><rect x="367.3" y="483.58" width="69.2" height="1.3" fill="#5d5d5d"/><rect x="367.3" y="484.58" width="69.2" height="1.3" fill="#626262"/><rect x="367.3" y="485.58" width="69.2" height="1.3" fill="#5b5b5b"/><rect x="367.3" y="486.58" width="69.2" height="1.3" fill="#636363"/><rect x="367.3" y="487.58" width="69.2" height="1.3" fill="#5a5a5a"/><rect x="367.3" y="488.58" width="69.2" height="1.3" fill="#595959"/><rect x="367.3" y="489.58" width="69.2" height="1.3" fill="#5d5d5d"/><rect x="367.3" y="490.58" width="69.2" height="1.3" fill="#636363"/><rect x="367.3" y="491.58" width="69.2" height="1.3" fill="#565656"/><rect x="367.3" y="492.58" width="69.2" height="1.3" fill="#575757"/><rect x="367.3" y="493.58" width="69.2" height="1.3" fill="#595959"/><rect x="367.3" y="494.58" width="69.2" height="1.3" fill="#575757"/><rect x="367.3" y="495.59" width="69.2" height="1.3" fill="#5b5b5b"/><rect x="367.3" y="496.59" width="69.2" height="1.3" fill="#595959"/><rect x="367.3" y="497.59" width="69.2" height="1.3" fill="#5f5f5f"/><rect x="367.3" y="498.59" width="69.2" height="1.3" fill="#5d5d5d"/><rect x="367.3" y="499.59" width="69.2" height="1.3" fill="#5a5a5a"/><rect x="367.3" y="500.59" width="69.2" height="1.3" fill="#565656"/><rect x="367.3" y="501.59" width="69.2" height="1.3" fill="#565656"/><rect x="367.3" y="502.59" width="69.2" height="1.3" fill="#5f5f5f"/><rect x="367.3" y="503.59" width="69.2" height="1.3" fill="#595959"/><rect x="367.3" y="504.59" width="69.2" height="1.3" fill="#5c5c5c"/><rect x="367.3" y="505.59" width="69.2" height="1.3" fill="#5d5d5d"/><rect x="367.3" y="506.59" width="69.2" height="1.3" fill="#595959"/><rect x="367.3" y="507.59" width="69.2" height="1.3" fill="#5b5b5b"/><rect x="367.3" y="508.59" width="69.2" height="1.3" fill="#565656"/><rect x="367.3" y="509.59" width="69.2" height="1.3" fill="#5d5d5d"/><rect x="367.3" y="510.59" width="69.2" height="1.3" fill="#555555"/><rect x="367.3" y="511.59" width="69.2" height="1.3" fill="#5e5e5e"/><rect x="367.3" y="512.59" width="69.2" height="1.3" fill="#575757"/><rect x="367.3" y="513.59" width="69.2" height="1.3" fill="#5e5e5e"/><rect x="367.3" y="514.59" width="69.2" height="1.3" fill="#5f5f5f"/><rect x="367.3" y="515.6" width="69.2" height="1.3" fill="#585858"/><rect x="367.3" y="516.6" width="69.2" height="1.3" fill="#525252"/><rect x="367.3" y="517.6" width="69.2" height="1.3" fill="#545454"/><rect x="367.3" y="518.6" width="69.2" height="1.3" fill="#595959"/><rect x="367.3" y="519.6" width="69.2" height="1.3" fill="#535353"/><rect x="367.3" y="520.6" width="69.2" height="1.3" fill="#505050"/><rect x="367.3" y="521.6" width="69.2" height="1.3" fill="#595959"/><rect x="367.3" y="522.6" width="69.2" height="1.3" fill="#606060"/><rect x="367.3" y="523.6" width="69.2" height="1.3" fill="#585858"/><rect x="367.3" y="524.6" width="69.2" height="1.3" fill="#5c5c5c"/><rect x="391.46" y="320.5" width="21.25" height="1.3" fill="url(#bandg)" fill-opacity="0.98"/><rect x="390.78" y="321.5" width="23.24" height="1.3" fill="url(#bandg)" fill-opacity="1"/><rect x="385.43" y="322.5" width="33.45" height="1.3" fill="url(#bandg)" fill-opacity="0.27"/><rect x="389.61" y="323.5" width="25.48" height="1.3" fill="url(#bandg)" fill-opacity="1"/><rect x="392.08" y="324.5" width="21.43" height="1.3" fill="url(#bandg)" fill-opacity="1"/><rect x="386.27" y="325.5" width="32.61" height="1.3" fill="url(#bandg)" fill-opacity="1"/><rect x="385.81" y="326.5" width="34.07" height="1.3" fill="url(#bandg)" fill-opacity="0.58"/><rect x="389.09" y="327.5" width="27.15" height="1.3" fill="url(#bandg)" fill-opacity="1"/><rect x="391.84" y="328.5" width="20.79" height="1.3" fill="url(#bandg)" fill-opacity="1"/><rect x="392.63" y="329.5" width="19.36" height="1.3" fill="url(#bandg)" fill-opacity="1"/><rect x="385.53" y="330.5" width="33.1" height="1.3" fill="url(#bandg)" fill-opacity="1"/><rect x="385.07" y="331.51" width="33.87" height="1.3" fill="url(#bandg)" fill-opacity="0.84"/><rect x="387.49" y="332.51" width="30.22" height="1.3" fill="url(#bandg)" fill-opacity="1"/><rect x="392.08" y="333.51" width="21.28" height="1.3" fill="url(#bandg)" fill-opacity="0.81"/><rect x="387.82" y="334.51" width="29.31" height="1.3" fill="url(#bandg)" fill-opacity="0.91"/><rect x="391.22" y="335.51" width="22.36" height="1.3" fill="url(#bandg)" fill-opacity="1"/><rect x="390.38" y="336.51" width="23.34" height="1.3" fill="url(#bandg)" fill-opacity="0.79"/><rect x="388.04" y="337.51" width="28.68" height="1.3" fill="url(#bandg)" fill-opacity="1"/><rect x="389.25" y="338.51" width="26.55" height="1.3" fill="url(#bandg)" fill-opacity="0.9"/><rect x="385.58" y="339.51" width="33.33" height="1.3" fill="url(#bandg)" fill-opacity="0.95"/><rect x="386.36" y="340.51" width="32.68" height="1.3" fill="url(#bandg)" fill-opacity="1"/><rect x="390.84" y="341.51" width="22.72" height="1.3" fill="url(#bandg)" fill-opacity="0.78"/><rect x="391.28" y="342.51" width="21.72" height="1.3" fill="url(#bandg)" fill-opacity="0.88"/><rect x="390.25" y="343.51" width="24.23" height="1.3" fill="url(#bandg)" fill-opacity="0.74"/><rect x="385.48" y="344.51" width="32.93" height="1.3" fill="url(#bandg)" fill-opacity="1"/><rect x="387.4" y="345.51" width="29.39" height="1.3" fill="url(#bandg)" fill-opacity="0.92"/><rect x="388.83" y="346.51" width="27.69" height="1.3" fill="url(#bandg)" fill-opacity="0.73"/><rect x="390.22" y="347.51" width="25.03" height="1.3" fill="url(#bandg)" fill-opacity="1"/><rect x="387.89" y="348.51" width="28.52" height="1.3" fill="url(#bandg)" fill-opacity="0.93"/><rect x="391.19" y="349.51" width="23.23" height="1.3" fill="url(#bandg)" fill-opacity="0.92"/><rect x="391.98" y="350.51" width="20.3" height="1.3" fill="url(#bandg)" fill-opacity="1"/><rect x="391.7" y="351.52" width="20.7" height="1.3" fill="url(#bandg)" fill-opacity="0.83"/><rect x="388.3" y="352.52" width="28.72" height="1.3" fill="url(#bandg)" fill-opacity="0.84"/><rect x="389.71" y="353.52" width="26.2" height="1.3" fill="url(#bandg)" fill-opacity="1"/><rect x="388.01" y="354.52" width="29.45" height="1.3" fill="url(#bandg)" fill-opacity="0.8"/><rect x="385.73" y="355.52" width="33.63" height="1.3" fill="url(#bandg)" fill-opacity="0.74"/><rect x="390.74" y="356.52" width="22.46" height="1.3" fill="url(#bandg)" fill-opacity="0.98"/><rect x="392.01" y="357.52" width="20.95" height="1.3" fill="url(#bandg)" fill-opacity="1"/><rect x="387.67" y="358.52" width="28.72" height="1.3" fill="url(#bandg)" fill-opacity="0.95"/><rect x="389.87" y="359.52" width="25.2" height="1.3" fill="url(#bandg)" fill-opacity="1"/><rect x="386.39" y="360.52" width="31.99" height="1.3" fill="url(#bandg)" fill-opacity="1"/><rect x="391.42" y="361.52" width="21.89" height="1.3" fill="url(#bandg)" fill-opacity="0.97"/><rect x="390.99" y="362.52" width="22.21" height="1.3" fill="url(#bandg)" fill-opacity="0.98"/><rect x="389.73" y="363.52" width="25.9" height="1.3" fill="url(#bandg)" fill-opacity="1"/><rect x="392.08" y="364.52" width="19.69" height="1.3" fill="url(#bandg)" fill-opacity="0.83"/><rect x="386.27" y="365.52" width="32.81" height="1.3" fill="url(#bandg)" fill-opacity="1"/><rect x="388.34" y="366.52" width="27.23" height="1.3" fill="url(#bandg)" fill-opacity="0.97"/><rect x="391" y="367.52" width="22.36" height="1.3" fill="url(#bandg)" fill-opacity="0.46"/><rect x="392.85" y="368.52" width="19.63" height="1.3" fill="url(#bandg)" fill-opacity="0.78"/><rect x="387.09" y="369.52" width="30.89" height="1.3" fill="url(#bandg)" fill-opacity="0.74"/><rect x="388.41" y="370.52" width="28.77" height="1.3" fill="url(#bandg)" fill-opacity="1"/><rect x="392.74" y="371.52" width="19.03" height="1.3" fill="url(#bandg)" fill-opacity="0.87"/><rect x="393.25" y="372.53" width="17.74" height="1.3" fill="url(#bandg)" fill-opacity="0.8"/><rect x="386.62" y="373.53" width="31.75" height="1.3" fill="url(#bandg)" fill-opacity="0.9"/><rect x="392.47" y="374.53" width="19.64" height="1.3" fill="url(#bandg)" fill-opacity="0.87"/><rect x="390.79" y="375.53" width="23.84" height="1.3" fill="url(#bandg)" fill-opacity="0.92"/><rect x="391.91" y="376.53" width="21.52" height="1.3" fill="url(#bandg)" fill-opacity="0.69"/><rect x="391.37" y="377.53" width="21.95" height="1.3" fill="url(#bandg)" fill-opacity="0.74"/><rect x="391.95" y="378.53" width="21.09" height="1.3" fill="url(#bandg)" fill-opacity="0.3"/><rect x="388.44" y="379.53" width="27.98" height="1.3" fill="url(#bandg)" fill-opacity="0.78"/><rect x="386.57" y="380.53" width="30.8" height="1.3" fill="url(#bandg)" fill-opacity="0.27"/><rect x="393.94" y="381.53" width="17.68" height="1.3" fill="url(#bandg)" fill-opacity="0.82"/><rect x="387.84" y="382.53" width="29.31" height="1.3" fill="url(#bandg)" fill-opacity="0.79"/><rect x="393.24" y="383.53" width="19.28" height="1.3" fill="url(#bandg)" fill-opacity="0.24"/><rect x="387.78" y="384.53" width="29.87" height="1.3" fill="url(#bandg)" fill-opacity="0.87"/><rect x="390.58" y="385.53" width="23.95" height="1.3" fill="url(#bandg)" fill-opacity="0.92"/><rect x="393" y="386.53" width="18.69" height="1.3" fill="url(#bandg)" fill-opacity="0.96"/><rect x="392.69" y="387.53" width="18.85" height="1.3" fill="url(#bandg)" fill-opacity="0.79"/><rect x="388.92" y="388.53" width="26.7" height="1.3" fill="url(#bandg)" fill-opacity="0.96"/><rect x="392.21" y="389.53" width="20.04" height="1.3" fill="url(#bandg)" fill-opacity="0.62"/><rect x="391.11" y="390.53" width="22.99" height="1.3" fill="url(#bandg)" fill-opacity="0.63"/><rect x="393.27" y="391.53" width="18.4" height="1.3" fill="url(#bandg)" fill-opacity="0.75"/><rect x="392.49" y="392.54" width="19.59" height="1.3" fill="url(#bandg)" fill-opacity="0.83"/><rect x="388.11" y="393.54" width="28.07" height="1.3" fill="url(#bandg)" fill-opacity="0.96"/><rect x="393.58" y="394.54" width="18.2" height="1.3" fill="url(#bandg)" fill-opacity="0.3"/><rect x="387.5" y="395.54" width="29.66" height="1.3" fill="url(#bandg)" fill-opacity="0.61"/><rect x="393.44" y="396.54" width="18.81" height="1.3" fill="url(#bandg)" fill-opacity="0.31"/><rect x="388.66" y="397.54" width="27.63" height="1.3" fill="url(#bandg)" fill-opacity="0.67"/><rect x="388.46" y="398.54" width="27.51" height="1.3" fill="url(#bandg)" fill-opacity="0.6"/><rect x="391.08" y="399.54" width="23.33" height="1.3" fill="url(#bandg)" fill-opacity="0.8"/><rect x="393.49" y="400.54" width="17.89" height="1.3" fill="url(#bandg)" fill-opacity="0.38"/><rect x="390.12" y="401.54" width="25" height="1.3" fill="url(#bandg)" fill-opacity="0.65"/><rect x="388.62" y="402.54" width="27.59" height="1.3" fill="url(#bandg)" fill-opacity="0.78"/><rect x="393.53" y="403.54" width="18.52" height="1.3" fill="url(#bandg)" fill-opacity="0.86"/><rect x="391.23" y="404.54" width="22.34" height="1.3" fill="url(#bandg)" fill-opacity="0.79"/><rect x="390.06" y="405.54" width="25.14" height="1.3" fill="url(#bandg)" fill-opacity="0.74"/><rect x="392.34" y="406.54" width="20.59" height="1.3" fill="url(#bandg)" fill-opacity="0.67"/><rect x="390.89" y="407.54" width="22.04" height="1.3" fill="url(#bandg)" fill-opacity="0.72"/><rect x="389.1" y="408.54" width="26.29" height="1.3" fill="url(#bandg)" fill-opacity="0.86"/><rect x="393.58" y="409.54" width="18.29" height="1.3" fill="url(#bandg)" fill-opacity="0.3"/><rect x="387.61" y="410.54" width="29.2" height="1.3" fill="url(#bandg)" fill-opacity="0.67"/><rect x="390.84" y="411.54" width="23.99" height="1.3" fill="url(#bandg)" fill-opacity="0.62"/><rect x="387.7" y="412.54" width="29.6" height="1.3" fill="url(#bandg)" fill-opacity="0.66"/><rect x="392.61" y="413.55" width="20.09" height="1.3" fill="url(#bandg)" fill-opacity="0.79"/><rect x="394.05" y="414.55" width="16.4" height="1.3" fill="url(#bandg)" fill-opacity="0.88"/><rect x="388.48" y="415.55" width="28.08" height="1.3" fill="url(#bandg)" fill-opacity="0.67"/><rect x="392.45" y="416.55" width="19.59" height="1.3" fill="url(#bandg)" fill-opacity="0.84"/><rect x="388" y="417.55" width="28.48" height="1.3" fill="url(#bandg)" fill-opacity="0.56"/><rect x="388.77" y="418.55" width="26.65" height="1.3" fill="url(#bandg)" fill-opacity="0.55"/><rect x="394.31" y="419.55" width="16.14" height="1.3" fill="url(#bandg)" fill-opacity="0.78"/><rect x="388.08" y="420.55" width="28.47" height="1.3" fill="url(#bandg)" fill-opacity="0.64"/><rect x="392.14" y="421.55" width="21.43" height="1.3" fill="url(#bandg)" fill-opacity="0.78"/><rect x="394" y="422.55" width="16.75" height="1.3" fill="url(#bandg)" fill-opacity="0.72"/><rect x="393.55" y="423.55" width="17.72" height="1.3" fill="url(#bandg)" fill-opacity="0.77"/><rect x="392.64" y="424.55" width="20.27" height="1.3" fill="url(#bandg)" fill-opacity="0.63"/><rect x="388.93" y="425.55" width="27.28" height="1.3" fill="url(#bandg)" fill-opacity="0.7"/><rect x="393.42" y="426.55" width="18.44" height="1.3" fill="url(#bandg)" fill-opacity="0.74"/><rect x="390.76" y="427.55" width="23.7" height="1.3" fill="url(#bandg)" fill-opacity="0.84"/><rect x="389.3" y="428.55" width="25.27" height="1.3" fill="url(#bandg)" fill-opacity="0.68"/><rect x="390.49" y="429.55" width="23.49" height="1.3" fill="url(#bandg)" fill-opacity="0.63"/><rect x="390.51" y="430.55" width="23.93" height="1.3" fill="url(#bandg)" fill-opacity="0.77"/><rect x="391.14" y="431.55" width="23.2" height="1.3" fill="url(#bandg)" fill-opacity="0.75"/><rect x="389.77" y="432.55" width="25.85" height="1.3" fill="url(#bandg)" fill-opacity="0.57"/><rect x="390.9" y="433.56" width="22.16" height="1.3" fill="url(#bandg)" fill-opacity="0.19"/><rect x="394.1" y="434.56" width="17.1" height="1.3" fill="url(#bandg)" fill-opacity="0.51"/><rect x="391.66" y="435.56" width="22.22" height="1.3" fill="url(#bandg)" fill-opacity="0.51"/><rect x="389.67" y="436.56" width="26.43" height="1.3" fill="url(#bandg)" fill-opacity="0.53"/><rect x="394.13" y="437.56" width="16.6" height="1.3" fill="url(#bandg)" fill-opacity="0.37"/><rect x="391.97" y="438.56" width="19.97" height="1.3" fill="url(#bandg)" fill-opacity="0.19"/><rect x="388.65" y="439.56" width="26.61" height="1.3" fill="url(#bandg)" fill-opacity="0.76"/><rect x="393.26" y="440.56" width="19.14" height="1.3" fill="url(#bandg)" fill-opacity="0.26"/><rect x="392.16" y="441.56" width="19.83" height="1.3" fill="url(#bandg)" fill-opacity="0.79"/><rect x="393.98" y="442.56" width="16.31" height="1.3" fill="url(#bandg)" fill-opacity="0.27"/><rect x="392.96" y="443.56" width="18.54" height="1.3" fill="url(#bandg)" fill-opacity="0.66"/><rect x="395.28" y="444.56" width="15.07" height="1.3" fill="url(#bandg)" fill-opacity="0.75"/><rect x="389.18" y="445.56" width="25.99" height="1.3" fill="url(#bandg)" fill-opacity="0.72"/><rect x="391.82" y="446.56" width="22.12" height="1.3" fill="url(#bandg)" fill-opacity="0.49"/><rect x="393.64" y="447.56" width="17.52" height="1.3" fill="url(#bandg)" fill-opacity="0.5"/><rect x="391.73" y="448.56" width="21.99" height="1.3" fill="url(#bandg)" fill-opacity="0.16"/><rect x="392.43" y="449.56" width="20.35" height="1.3" fill="url(#bandg)" fill-opacity="0.63"/><rect x="392.73" y="450.56" width="18.93" height="1.3" fill="url(#bandg)" fill-opacity="0.49"/><rect x="392.18" y="451.56" width="21.23" height="1.3" fill="url(#bandg)" fill-opacity="0.27"/><rect x="393.58" y="452.56" width="17.23" height="1.3" fill="url(#bandg)" fill-opacity="0.27"/><rect x="393.78" y="453.56" width="16.46" height="1.3" fill="url(#bandg)" fill-opacity="0.25"/><rect x="394.12" y="454.57" width="17.22" height="1.3" fill="url(#bandg)" fill-opacity="0.67"/><rect x="391.82" y="455.57" width="20.54" height="1.3" fill="url(#bandg)" fill-opacity="0.62"/><rect x="393.89" y="456.57" width="17.87" height="1.3" fill="url(#bandg)" fill-opacity="0.51"/><rect x="393.84" y="457.57" width="16.58" height="1.3" fill="url(#bandg)" fill-opacity="0.5"/><rect x="389.32" y="458.57" width="25.45" height="1.3" fill="url(#bandg)" fill-opacity="0.53"/><rect x="391.34" y="459.57" width="21.67" height="1.3" fill="url(#bandg)" fill-opacity="0.61"/><rect x="395.09" y="460.57" width="14.52" height="1.3" fill="url(#bandg)" fill-opacity="0.6"/><rect x="390.51" y="461.57" width="24.62" height="1.3" fill="url(#bandg)" fill-opacity="0.18"/><rect x="394.61" y="462.57" width="15.22" height="1.3" fill="url(#bandg)" fill-opacity="0.69"/><rect x="394.13" y="463.57" width="17.18" height="1.3" fill="url(#bandg)" fill-opacity="0.49"/><rect x="394.8" y="464.57" width="15.53" height="1.3" fill="url(#bandg)" fill-opacity="0.68"/><rect x="392.29" y="465.57" width="20.91" height="1.3" fill="url(#bandg)" fill-opacity="0.61"/><rect x="393.18" y="466.57" width="17.78" height="1.3" fill="url(#bandg)" fill-opacity="0.14"/><rect x="392.99" y="467.57" width="19.27" height="1.3" fill="url(#bandg)" fill-opacity="0.67"/><rect x="393.44" y="468.57" width="17.71" height="1.3" fill="url(#bandg)" fill-opacity="0.47"/><rect x="391.6" y="469.57" width="22.38" height="1.3" fill="url(#bandg)" fill-opacity="0.63"/><rect x="392.43" y="470.57" width="20.51" height="1.3" fill="url(#bandg)" fill-opacity="0.68"/><rect x="390.73" y="471.57" width="24.2" height="1.3" fill="url(#bandg)" fill-opacity="0.58"/><rect x="394.04" y="472.57" width="16.94" height="1.3" fill="url(#bandg)" fill-opacity="0.62"/><rect x="392.27" y="473.57" width="20.85" height="1.3" fill="url(#bandg)" fill-opacity="0.5"/><rect x="390.27" y="474.58" width="24.36" height="1.3" fill="url(#bandg)" fill-opacity="0.65"/><rect x="394.3" y="475.58" width="15.96" height="1.3" fill="url(#bandg)" fill-opacity="0.28"/><rect x="395.43" y="476.58" width="13.8" height="1.3" fill="url(#bandg)" fill-opacity="0.67"/><rect x="394.91" y="477.58" width="15.67" height="1.3" fill="url(#bandg)" fill-opacity="0.24"/><rect x="391.06" y="478.58" width="21.85" height="1.3" fill="url(#bandg)" fill-opacity="0.53"/><rect x="390.85" y="479.58" width="24.08" height="1.3" fill="url(#bandg)" fill-opacity="0.16"/><rect x="390.46" y="480.58" width="24.43" height="1.3" fill="url(#bandg)" fill-opacity="0.51"/><rect x="395.7" y="481.58" width="14" height="1.3" fill="url(#bandg)" fill-opacity="0.51"/><rect x="391.16" y="482.58" width="21.69" height="1.3" fill="url(#bandg)" fill-opacity="0.48"/><rect x="392.82" y="483.58" width="19.5" height="1.3" fill="url(#bandg)" fill-opacity="0.51"/><rect x="395.22" y="484.58" width="13.38" height="1.3" fill="url(#bandg)" fill-opacity="0.25"/><rect x="392.33" y="485.58" width="19.4" height="1.3" fill="url(#bandg)" fill-opacity="0.5"/><rect x="393.8" y="486.58" width="17.02" height="1.3" fill="url(#bandg)" fill-opacity="0.45"/><rect x="391.04" y="487.58" width="23.34" height="1.3" fill="url(#bandg)" fill-opacity="0.53"/><rect x="391.9" y="488.58" width="20.48" height="1.3" fill="url(#bandg)" fill-opacity="0.58"/><rect x="391.21" y="489.58" width="21.97" height="1.3" fill="url(#bandg)" fill-opacity="0.28"/><rect x="393.97" y="490.58" width="16.72" height="1.3" fill="url(#bandg)" fill-opacity="0.42"/><rect x="393.48" y="491.58" width="18.28" height="1.3" fill="url(#bandg)" fill-opacity="0.61"/><rect x="392.41" y="492.58" width="19.24" height="1.3" fill="url(#bandg)" fill-opacity="0.25"/><rect x="395.06" y="493.58" width="14.19" height="1.3" fill="url(#bandg)" fill-opacity="0.25"/><rect x="391.52" y="494.58" width="21.83" height="1.3" fill="url(#bandg)" fill-opacity="0.4"/><rect x="392.87" y="495.59" width="18.85" height="1.3" fill="url(#bandg)" fill-opacity="0.54"/><rect x="395.34" y="496.59" width="15.04" height="1.3" fill="url(#bandg)" fill-opacity="0.56"/><rect x="393.06" y="497.59" width="19.18" height="1.3" fill="url(#bandg)" fill-opacity="0.22"/><rect x="391.55" y="498.59" width="21.87" height="1.3" fill="url(#bandg)" fill-opacity="0.38"/><rect x="391.32" y="499.59" width="22.25" height="1.3" fill="url(#bandg)" fill-opacity="0.59"/><rect x="391.54" y="500.59" width="22.61" height="1.3" fill="url(#bandg)" fill-opacity="0.2"/><rect x="393.66" y="501.59" width="16.78" height="1.3" fill="url(#bandg)" fill-opacity="0.46"/><rect x="392.6" y="502.59" width="19.09" height="1.3" fill="url(#bandg)" fill-opacity="0.18"/><rect x="393.74" y="503.59" width="16.79" height="1.3" fill="url(#bandg)" fill-opacity="0.12"/><rect x="392.09" y="504.59" width="20.39" height="1.3" fill="url(#bandg)" fill-opacity="0.45"/><rect x="395.16" y="505.59" width="13.96" height="1.3" fill="url(#bandg)" fill-opacity="0.39"/><rect x="392.31" y="506.59" width="20.58" height="1.3" fill="url(#bandg)" fill-opacity="0.48"/><rect x="395.58" y="507.59" width="14.17" height="1.3" fill="url(#bandg)" fill-opacity="0.18"/><rect x="392.5" y="508.59" width="20.06" height="1.3" fill="url(#bandg)" fill-opacity="0.17"/><rect x="392.4" y="509.59" width="19.4" height="1.3" fill="url(#bandg)" fill-opacity="0.47"/><rect x="394.65" y="510.59" width="14.88" height="1.3" fill="url(#bandg)" fill-opacity="0.37"/><rect x="392.52" y="511.59" width="19.26" height="1.3" fill="url(#bandg)" fill-opacity="0.4"/><rect x="392.34" y="512.59" width="19.83" height="1.3" fill="url(#bandg)" fill-opacity="0.13"/><rect x="393.61" y="513.59" width="16.87" height="1.3" fill="url(#bandg)" fill-opacity="0.47"/><rect x="394.89" y="514.59" width="14.8" height="1.3" fill="url(#bandg)" fill-opacity="0.13"/><rect x="392.63" y="515.6" width="18.96" height="1.3" fill="url(#bandg)" fill-opacity="0.39"/><rect x="394.24" y="516.6" width="15.75" height="1.3" fill="url(#bandg)" fill-opacity="0.25"/><rect x="394.89" y="517.6" width="15.8" height="1.3" fill="url(#bandg)" fill-opacity="0.16"/><rect x="396.65" y="518.6" width="12.14" height="1.3" fill="url(#bandg)" fill-opacity="0.2"/><rect x="396.22" y="519.6" width="12.14" height="1.3" fill="url(#bandg)" fill-opacity="0.17"/><rect x="395.3" y="520.6" width="13.49" height="1.3" fill="url(#bandg)" fill-opacity="0.37"/><rect x="393.16" y="521.6" width="17.53" height="1.3" fill="url(#bandg)" fill-opacity="0.19"/><rect x="391.78" y="522.6" width="20.76" height="1.3" fill="url(#bandg)" fill-opacity="0.49"/><rect x="391.46" y="523.6" width="21.58" height="1.3" fill="url(#bandg)" fill-opacity="0.24"/><rect x="393.01" y="524.6" width="18.03" height="1.3" fill="url(#bandg)" fill-opacity="0.22"/></g>
<rect x="367.3" y="320.5" width="69.2" height="205.1" fill="none" stroke="#7a7a7a" stroke-width="0.8"/>
<g filter="url(#hmf1)"><rect x="441.4" y="320.5" width="69.3" height="1.3" fill="#727272"/><rect x="441.4" y="321.5" width="69.3" height="1.3" fill="#727272"/><rect x="457.54" y="321.5" width="28.73" height="1" fill="#dfdfdf" fill-opacity="0.85"/><rect x="459.11" y="321.5" width="6.48" height="1" fill="#eaeaea" fill-opacity="0.85"/><rect x="441.4" y="322.5" width="69.3" height="1.3" fill="#808080"/><rect x="441.4" y="323.5" width="69.3" height="1.3" fill="#8a8a8a"/><rect x="441.4" y="324.5" width="69.3" height="1.3" fill="#6b6b6b"/><rect x="442.72" y="324.5" width="12.68" height="1" fill="#dcdcdc" fill-opacity="0.85"/><rect x="441.4" y="325.5" width="69.3" height="1.3" fill="#7e7e7e"/><rect x="500.85" y="325.5" width="9.85" height="1" fill="#ebebeb" fill-opacity="0.85"/><rect x="441.4" y="326.5" width="69.3" height="1.3" fill="#818181"/><rect x="441.4" y="327.5" width="69.3" height="1.3" fill="#767676"/><rect x="441.4" y="328.5" width="69.3" height="1.3" fill="#666666"/><rect x="469.3" y="328.5" width="11.62" height="1" fill="#d1d1d1" fill-opacity="0.85"/><rect x="441.4" y="329.5" width="69.3" height="1.3" fill="#656565"/><rect x="441.4" y="330.5" width="69.3" height="1.3" fill="#7a7a7a"/><rect x="500.11" y="330.5" width="10.59" height="1" fill="#f9f9f9" fill-opacity="0.85"/><rect x="441.4" y="330.5" width="7.28" height="1" fill="#e6e6e6" fill-opacity="0.85"/><rect x="441.4" y="331.51" width="69.3" height="1.3" fill="#656565"/><rect x="441.4" y="332.51" width="69.3" height="1.3" fill="#767676"/><rect x="447.23" y="332.51" width="19.14" height="1" fill="#ededed" fill-opacity="0.85"/><rect x="441.4" y="332.51" width="5.5" height="1" fill="#d9d9d9" fill-opacity="0.85"/><rect x="441.4" y="333.51" width="69.3" height="1.3" fill="#666666"/><rect x="441.4" y="334.51" width="69.3" height="1.3" fill="#707070"/><rect x="453.93" y="334.51" width="6.33" height="1" fill="#e9e9e9" fill-opacity="0.85"/><rect x="441.4" y="335.51" width="69.3" height="1.3" fill="#666666"/><rect x="441.4" y="336.51" width="69.3" height="1.3" fill="#6a6a6a"/><rect x="441.4" y="337.51" width="69.3" height="1.3" fill="#636363"/><rect x="441.4" y="338.51" width="69.3" height="1.3" fill="#717171"/><rect x="441.4" y="339.51" width="69.3" height="1.3" fill="#5a5a5a"/><rect x="441.4" y="340.51" width="69.3" height="1.3" fill="#5d5d5d"/><rect x="450.12" y="340.51" width="24.7" height="1" fill="#c9c9c9" fill-opacity="0.85"/><rect x="443.92" y="340.51" width="8.81" height="1" fill="#d6d6d6" fill-opacity="0.85"/><rect x="441.4" y="341.51" width="69.3" height="1.3" fill="#6f6f6f"/><rect x="441.4" y="342.51" width="69.3" height="1.3" fill="#6a6a6a"/><rect x="441.4" y="343.51" width="69.3" height="1.3" fill="#666666"/><rect x="441.4" y="344.51" width="69.3" height="1.3" fill="#5c5c5c"/><rect x="441.4" y="345.51" width="69.3" height="1.3" fill="#626262"/><rect x="441.4" y="346.51" width="69.3" height="1.3" fill="#686868"/><rect x="441.4" y="347.51" width="69.3" height="1.3" fill="#636363"/><rect x="441.4" y="348.51" width="69.3" height="1.3" fill="#717171"/><rect x="441.4" y="349.51" width="69.3" height="1.3" fill="#676767"/><rect x="441.4" y="350.51" width="69.3" height="1.3" fill="#676767"/><rect x="441.4" y="351.52" width="69.3" height="1.3" fill="#5c5c5c"/><rect x="481.12" y="351.52" width="21.33" height="1" fill="#b9b9b9" fill-opacity="0.85"/><rect x="441.4" y="352.52" width="69.3" height="1.3" fill="#616161"/><rect x="441.4" y="353.52" width="69.3" height="1.3" fill="#636363"/><rect x="441.4" y="354.52" width="69.3" height="1.3" fill="#6c6c6c"/><rect x="441.4" y="355.52" width="69.3" height="1.3" fill="#666666"/><rect x="441.4" y="356.52" width="69.3" height="1.3" fill="#585858"/><rect x="441.4" y="357.52" width="69.3" height="1.3" fill="#6b6b6b"/><rect x="441.4" y="358.52" width="69.3" height="1.3" fill="#5f5f5f"/><rect x="441.4" y="359.52" width="69.3" height="1.3" fill="#616161"/><rect x="441.4" y="360.52" width="69.3" height="1.3" fill="#5f5f5f"/><rect x="441.4" y="361.52" width="69.3" height="1.3" fill="#6a6a6a"/><rect x="441.4" y="362.52" width="69.3" height="1.3" fill="#656565"/><rect x="441.4" y="363.52" width="69.3" height="1.3" fill="#666666"/><rect x="441.4" y="364.52" width="69.3" height="1.3" fill="#626262"/><rect x="441.4" y="365.52" width="69.3" height="1.3" fill="#696969"/><rect x="441.4" y="366.52" width="69.3" height="1.3" fill="#646464"/><rect x="441.4" y="367.52" width="69.3" height="1.3" fill="#555555"/><rect x="441.4" y="368.52" width="69.3" height="1.3" fill="#4e4e4e"/><rect x="441.4" y="369.52" width="69.3" height="1.3" fill="#5e5e5e"/><rect x="441.4" y="370.52" width="69.3" height="1.3" fill="#525252"/><rect x="441.4" y="371.52" width="69.3" height="1.3" fill="#6a6a6a"/><rect x="441.4" y="372.53" width="69.3" height="1.3" fill="#5d5d5d"/><rect x="441.4" y="373.53" width="69.3" height="1.3" fill="#585858"/><rect x="441.4" y="374.53" width="69.3" height="1.3" fill="#565656"/><rect x="441.4" y="375.53" width="69.3" height="1.3" fill="#555555"/><rect x="441.4" y="376.53" width="69.3" height="1.3" fill="#515151"/><rect x="441.4" y="377.53" width="69.3" height="1.3" fill="#5b5b5b"/><rect x="441.4" y="378.53" width="69.3" height="1.3" fill="#5f5f5f"/><rect x="441.4" y="379.53" width="69.3" height="1.3" fill="#595959"/><rect x="441.4" y="380.53" width="69.3" height="1.3" fill="#555555"/><rect x="441.4" y="381.53" width="69.3" height="1.3" fill="#565656"/><rect x="441.4" y="382.53" width="69.3" height="1.3" fill="#646464"/><rect x="441.4" y="383.53" width="69.3" height="1.3" fill="#535353"/><rect x="441.4" y="384.53" width="69.3" height="1.3" fill="#595959"/><rect x="441.4" y="385.53" width="69.3" height="1.3" fill="#666666"/><rect x="441.4" y="386.53" width="69.3" height="1.3" fill="#616161"/><rect x="441.4" y="387.53" width="69.3" height="1.3" fill="#606060"/><rect x="441.4" y="388.53" width="69.3" height="1.3" fill="#626262"/><rect x="441.4" y="389.53" width="69.3" height="1.3" fill="#545454"/><rect x="441.4" y="390.53" width="69.3" height="1.3" fill="#585858"/><rect x="441.4" y="391.53" width="69.3" height="1.3" fill="#575757"/><rect x="441.4" y="392.54" width="69.3" height="1.3" fill="#5e5e5e"/><rect x="441.4" y="393.54" width="69.3" height="1.3" fill="#5c5c5c"/><rect x="441.4" y="394.54" width="69.3" height="1.3" fill="#5e5e5e"/><rect x="441.4" y="395.54" width="69.3" height="1.3" fill="#5b5b5b"/><rect x="441.4" y="396.54" width="69.3" height="1.3" fill="#575757"/><rect x="441.4" y="397.54" width="69.3" height="1.3" fill="#4d4d4d"/><rect x="441.4" y="398.54" width="69.3" height="1.3" fill="#535353"/><rect x="441.4" y="399.54" width="69.3" height="1.3" fill="#5b5b5b"/><rect x="441.4" y="400.54" width="69.3" height="1.3" fill="#5f5f5f"/><rect x="441.4" y="401.54" width="69.3" height="1.3" fill="#555555"/><rect x="441.4" y="402.54" width="69.3" height="1.3" fill="#585858"/><rect x="441.4" y="403.54" width="69.3" height="1.3" fill="#515151"/><rect x="441.4" y="404.54" width="69.3" height="1.3" fill="#555555"/><rect x="441.4" y="405.54" width="69.3" height="1.3" fill="#515151"/><rect x="441.4" y="406.54" width="69.3" height="1.3" fill="#595959"/><rect x="441.4" y="407.54" width="69.3" height="1.3" fill="#575757"/><rect x="441.4" y="408.54" width="69.3" height="1.3" fill="#565656"/><rect x="441.4" y="409.54" width="69.3" height="1.3" fill="#616161"/><rect x="441.4" y="410.54" width="69.3" height="1.3" fill="#5b5b5b"/><rect x="441.4" y="411.54" width="69.3" height="1.3" fill="#565656"/><rect x="441.4" y="412.54" width="69.3" height="1.3" fill="#575757"/><rect x="441.4" y="413.55" width="69.3" height="1.3" fill="#585858"/><rect x="441.4" y="414.55" width="69.3" height="1.3" fill="#525252"/><rect x="441.4" y="415.55" width="69.3" height="1.3" fill="#525252"/><rect x="441.4" y="416.55" width="69.3" height="1.3" fill="#505050"/><rect x="441.4" y="417.55" width="69.3" height="1.3" fill="#555555"/><rect x="441.4" y="418.55" width="69.3" height="1.3" fill="#4f4f4f"/><rect x="441.4" y="419.55" width="69.3" height="1.3" fill="#535353"/><rect x="441.4" y="420.55" width="69.3" height="1.3" fill="#545454"/><rect x="441.4" y="421.55" width="69.3" height="1.3" fill="#5d5d5d"/><rect x="441.4" y="422.55" width="69.3" height="1.3" fill="#555555"/><rect x="441.4" y="423.55" width="69.3" height="1.3" fill="#4c4c4c"/><rect x="441.4" y="424.55" width="69.3" height="1.3" fill="#505050"/><rect x="441.4" y="425.55" width="69.3" height="1.3" fill="#555555"/><rect x="441.4" y="426.55" width="69.3" height="1.3" fill="#515151"/><rect x="441.4" y="427.55" width="69.3" height="1.3" fill="#4f4f4f"/><rect x="441.4" y="428.55" width="69.3" height="1.3" fill="#595959"/><rect x="441.4" y="429.55" width="69.3" height="1.3" fill="#4d4d4d"/><rect x="441.4" y="430.55" width="69.3" height="1.3" fill="#4d4d4d"/><rect x="441.4" y="431.55" width="69.3" height="1.3" fill="#4d4d4d"/><rect x="441.4" y="432.55" width="69.3" height="1.3" fill="#4f4f4f"/><rect x="441.4" y="433.56" width="69.3" height="1.3" fill="#535353"/><rect x="441.4" y="434.56" width="69.3" height="1.3" fill="#4b4b4b"/><rect x="441.4" y="435.56" width="69.3" height="1.3" fill="#4f4f4f"/><rect x="441.4" y="436.56" width="69.3" height="1.3" fill="#4e4e4e"/><rect x="441.4" y="437.56" width="69.3" height="1.3" fill="#4e4e4e"/><rect x="441.4" y="438.56" width="69.3" height="1.3" fill="#545454"/><rect x="441.4" y="439.56" width="69.3" height="1.3" fill="#4f4f4f"/><rect x="441.4" y="440.56" width="69.3" height="1.3" fill="#535353"/><rect x="441.4" y="441.56" width="69.3" height="1.3" fill="#4d4d4d"/><rect x="441.4" y="442.56" width="69.3" height="1.3" fill="#505050"/><rect x="441.4" y="443.56" width="69.3" height="1.3" fill="#505050"/><rect x="441.4" y="444.56" width="69.3" height="1.3" fill="#4d4d4d"/><rect x="441.4" y="445.56" width="69.3" height="1.3" fill="#555555"/><rect x="441.4" y="446.56" width="69.3" height="1.3" fill="#484848"/><rect x="441.4" y="447.56" width="69.3" height="1.3" fill="#444444"/><rect x="441.4" y="448.56" width="69.3" height="1.3" fill="#4b4b4b"/><rect x="441.4" y="449.56" width="69.3" height="1.3" fill="#515151"/><rect x="441.4" y="450.56" width="69.3" height="1.3" fill="#4f4f4f"/><rect x="441.4" y="451.56" width="69.3" height="1.3" fill="#4a4a4a"/><rect x="441.4" y="452.56" width="69.3" height="1.3" fill="#464646"/><rect x="441.4" y="453.56" width="69.3" height="1.3" fill="#444444"/><rect x="441.4" y="454.57" width="69.3" height="1.3" fill="#4e4e4e"/><rect x="441.4" y="455.57" width="69.3" height="1.3" fill="#545454"/><rect x="441.4" y="456.57" width="69.3" height="1.3" fill="#464646"/><rect x="441.4" y="457.57" width="69.3" height="1.3" fill="#4b4b4b"/><rect x="441.4" y="458.57" width="69.3" height="1.3" fill="#535353"/><rect x="441.4" y="459.57" width="69.3" height="1.3" fill="#4a4a4a"/><rect x="441.4" y="460.57" width="69.3" height="1.3" fill="#4c4c4c"/><rect x="441.4" y="461.57" width="69.3" height="1.3" fill="#4d4d4d"/><rect x="441.4" y="462.57" width="69.3" height="1.3" fill="#494949"/><rect x="441.4" y="463.57" width="69.3" height="1.3" fill="#595959"/><rect x="441.4" y="464.57" width="69.3" height="1.3" fill="#4b4b4b"/><rect x="441.4" y="465.57" width="69.3" height="1.3" fill="#515151"/><rect x="441.4" y="466.57" width="69.3" height="1.3" fill="#4e4e4e"/><rect x="441.4" y="467.57" width="69.3" height="1.3" fill="#4f4f4f"/><rect x="441.4" y="468.57" width="69.3" height="1.3" fill="#555555"/><rect x="441.4" y="469.57" width="69.3" height="1.3" fill="#494949"/><rect x="441.4" y="470.57" width="69.3" height="1.3" fill="#494949"/><rect x="441.4" y="471.57" width="69.3" height="1.3" fill="#4c4c4c"/><rect x="441.4" y="472.57" width="69.3" height="1.3" fill="#434343"/><rect x="441.4" y="473.57" width="69.3" height="1.3" fill="#535353"/><rect x="441.4" y="474.58" width="69.3" height="1.3" fill="#414141"/><rect x="441.4" y="475.58" width="69.3" height="1.3" fill="#4b4b4b"/><rect x="441.4" y="476.58" width="69.3" height="1.3" fill="#424242"/><rect x="441.4" y="477.58" width="69.3" height="1.3" fill="#454545"/><rect x="441.4" y="478.58" width="69.3" height="1.3" fill="#4a4a4a"/><rect x="441.4" y="479.58" width="69.3" height="1.3" fill="#4b4b4b"/><rect x="441.4" y="480.58" width="69.3" height="1.3" fill="#505050"/><rect x="441.4" y="481.58" width="69.3" height="1.3" fill="#434343"/><rect x="441.4" y="482.58" width="69.3" height="1.3" fill="#404040"/><rect x="441.4" y="483.58" width="69.3" height="1.3" fill="#4c4c4c"/><rect x="441.4" y="484.58" width="69.3" height="1.3" fill="#424242"/><rect x="441.4" y="485.58" width="69.3" height="1.3" fill="#424242"/><rect x="441.4" y="486.58" width="69.3" height="1.3" fill="#494949"/><rect x="441.4" y="487.58" width="69.3" height="1.3" fill="#4d4d4d"/><rect x="441.4" y="488.58" width="69.3" height="1.3" fill="#424242"/><rect x="441.4" y="489.58" width="69.3" height="1.3" fill="#464646"/><rect x="441.4" y="490.58" width="69.3" height="1.3" fill="#464646"/><rect x="441.4" y="491.58" width="69.3" height="1.3" fill="#474747"/><rect x="441.4" y="492.58" width="69.3" height="1.3" fill="#3b3b3b"/><rect x="441.4" y="493.58" width="69.3" height="1.3" fill="#484848"/><rect x="441.4" y="494.58" width="69.3" height="1.3" fill="#3f3f3f"/><rect x="441.4" y="495.59" width="69.3" height="1.3" fill="#4d4d4d"/><rect x="441.4" y="496.59" width="69.3" height="1.3" fill="#515151"/><rect x="441.4" y="497.59" width="69.3" height="1.3" fill="#414141"/><rect x="441.4" y="498.59" width="69.3" height="1.3" fill="#444444"/><rect x="441.4" y="499.59" width="69.3" height="1.3" fill="#474747"/><rect x="441.4" y="500.59" width="69.3" height="1.3" fill="#454545"/><rect x="441.4" y="501.59" width="69.3" height="1.3" fill="#4a4a4a"/><rect x="441.4" y="502.59" width="69.3" height="1.3" fill="#424242"/><rect x="441.4" y="503.59" width="69.3" height="1.3" fill="#3e3e3e"/><rect x="441.4" y="504.59" width="69.3" height="1.3" fill="#4a4a4a"/><rect x="441.4" y="505.59" width="69.3" height="1.3" fill="#4e4e4e"/><rect x="441.4" y="506.59" width="69.3" height="1.3" fill="#474747"/><rect x="441.4" y="507.59" width="69.3" height="1.3" fill="#3d3d3d"/><rect x="441.4" y="508.59" width="69.3" height="1.3" fill="#383838"/><rect x="441.4" y="509.59" width="69.3" height="1.3" fill="#494949"/><rect x="441.4" y="510.59" width="69.3" height="1.3" fill="#454545"/><rect x="441.4" y="511.59" width="69.3" height="1.3" fill="#3f3f3f"/><rect x="441.4" y="512.59" width="69.3" height="1.3" fill="#414141"/><rect x="441.4" y="513.59" width="69.3" height="1.3" fill="#444444"/><rect x="441.4" y="514.59" width="69.3" height="1.3" fill="#414141"/><rect x="441.4" y="515.6" width="69.3" height="1.3" fill="#4b4b4b"/><rect x="441.4" y="516.6" width="69.3" height="1.3" fill="#424242"/><rect x="441.4" y="517.6" width="69.3" height="1.3" fill="#3f3f3f"/><rect x="441.4" y="518.6" width="69.3" height="1.3" fill="#414141"/><rect x="441.4" y="519.6" width="69.3" height="1.3" fill="#3a3a3a"/><rect x="441.4" y="520.6" width="69.3" height="1.3" fill="#3a3a3a"/><rect x="441.4" y="521.6" width="69.3" height="1.3" fill="#454545"/><rect x="441.4" y="522.6" width="69.3" height="1.3" fill="#474747"/><rect x="441.4" y="523.6" width="69.3" height="1.3" fill="#3b3b3b"/><rect x="441.4" y="524.6" width="69.3" height="1.3" fill="#444444"/><rect x="467.61" y="320.5" width="15.8" height="1.3" fill="url(#bandg)" fill-opacity="1"/><rect x="465.81" y="321.5" width="20.53" height="1.3" fill="url(#bandg)" fill-opacity="0.5"/><rect x="465.21" y="322.5" width="21.18" height="1.3" fill="url(#bandg)" fill-opacity="1"/><rect x="463.94" y="323.5" width="24.65" height="1.3" fill="url(#bandg)" fill-opacity="0.28"/><rect x="462.54" y="324.5" width="26.65" height="1.3" fill="url(#bandg)" fill-opacity="1"/><rect x="467.81" y="325.5" width="17.28" height="1.3" fill="url(#bandg)" fill-opacity="0.36"/><rect x="465.75" y="326.5" width="20.35" height="1.3" fill="url(#bandg)" fill-opacity="1"/><rect x="466.04" y="327.5" width="20.37" height="1.3" fill="url(#bandg)" fill-opacity="1"/><rect x="461.95" y="328.5" width="28.04" height="1.3" fill="url(#bandg)" fill-opacity="0.99"/><rect x="465.98" y="329.5" width="19.67" height="1.3" fill="url(#bandg)" fill-opacity="0.51"/><rect x="463.66" y="330.5" width="24.15" height="1.3" fill="url(#bandg)" fill-opacity="1"/><rect x="466.66" y="331.51" width="18.43" height="1.3" fill="url(#bandg)" fill-opacity="0.79"/><rect x="465.24" y="332.51" width="20.73" height="1.3" fill="url(#bandg)" fill-opacity="0.97"/><rect x="464.49" y="333.51" width="23.96" height="1.3" fill="url(#bandg)" fill-opacity="0.77"/><rect x="463.84" y="334.51" width="23.9" height="1.3" fill="url(#bandg)" fill-opacity="1"/><rect x="463.51" y="335.51" width="25.93" height="1.3" fill="url(#bandg)" fill-opacity="0.85"/><rect x="466.73" y="336.51" width="18.63" height="1.3" fill="url(#bandg)" fill-opacity="1"/><rect x="466.19" y="337.51" width="18.75" height="1.3" fill="url(#bandg)" fill-opacity="0.91"/><rect x="467.59" y="338.51" width="15.97" height="1.3" fill="url(#bandg)" fill-opacity="1"/><rect x="463.17" y="339.51" width="26.17" height="1.3" fill="url(#bandg)" fill-opacity="0.97"/><rect x="465.83" y="340.51" width="20.86" height="1.3" fill="url(#bandg)" fill-opacity="0.79"/><rect x="468.68" y="341.51" width="15.24" height="1.3" fill="url(#bandg)" fill-opacity="1"/><rect x="466.58" y="342.51" width="18.89" height="1.3" fill="url(#bandg)" fill-opacity="1"/><rect x="463.44" y="343.51" width="25.64" height="1.3" fill="url(#bandg)" fill-opacity="0.88"/><rect x="464.94" y="344.51" width="21.4" height="1.3" fill="url(#bandg)" fill-opacity="1"/><rect x="465.51" y="345.51" width="20.03" height="1.3" fill="url(#bandg)" fill-opacity="0.82"/><rect x="462.4" y="346.51" width="26.42" height="1.3" fill="url(#bandg)" fill-opacity="0.85"/><rect x="463.84" y="347.51" width="23.4" height="1.3" fill="url(#bandg)" fill-opacity="0.27"/><rect x="465.44" y="348.51" width="21.18" height="1.3" fill="url(#bandg)" fill-opacity="0.84"/><rect x="466.9" y="349.51" width="18.18" height="1.3" fill="url(#bandg)" fill-opacity="0.46"/><rect x="462.86" y="350.51" width="26.42" height="1.3" fill="url(#bandg)" fill-opacity="0.92"/><rect x="463.36" y="351.52" width="25.03" height="1.3" fill="url(#bandg)" fill-opacity="0.73"/><rect x="466.26" y="352.52" width="19.97" height="1.3" fill="url(#bandg)" fill-opacity="0.85"/><rect x="468.17" y="353.52" width="14.75" height="1.3" fill="url(#bandg)" fill-opacity="1"/><rect x="465.39" y="354.52" width="21.85" height="1.3" fill="url(#bandg)" fill-opacity="0.72"/><rect x="467.24" y="355.52" width="18.01" height="1.3" fill="url(#bandg)" fill-opacity="0.76"/><rect x="466.72" y="356.52" width="19.44" height="1.3" fill="url(#bandg)" fill-opacity="0.9"/><rect x="468.34" y="357.52" width="15.15" height="1.3" fill="url(#bandg)" fill-opacity="0.98"/><rect x="464.78" y="358.52" width="22.12" height="1.3" fill="url(#bandg)" fill-opacity="0.32"/><rect x="465.07" y="359.52" width="21.16" height="1.3" fill="url(#bandg)" fill-opacity="0.9"/><rect x="467.55" y="360.52" width="16.61" height="1.3" fill="url(#bandg)" fill-opacity="0.9"/><rect x="467.03" y="361.52" width="18.57" height="1.3" fill="url(#bandg)" fill-opacity="0.3"/><rect x="467.61" y="362.52" width="16.69" height="1.3" fill="url(#bandg)" fill-opacity="0.71"/><rect x="465.86" y="363.52" width="20.61" height="1.3" fill="url(#bandg)" fill-opacity="0.75"/><rect x="463.84" y="364.52" width="23.6" height="1.3" fill="url(#bandg)" fill-opacity="0.9"/><rect x="464.94" y="365.52" width="21.99" height="1.3" fill="url(#bandg)" fill-opacity="0.77"/><rect x="464.08" y="366.52" width="24.64" height="1.3" fill="url(#bandg)" fill-opacity="0.67"/><rect x="464.94" y="367.52" width="22.43" height="1.3" fill="url(#bandg)" fill-opacity="0.7"/><rect x="467.24" y="368.52" width="16.99" height="1.3" fill="url(#bandg)" fill-opacity="0.82"/><rect x="467.96" y="369.52" width="16.42" height="1.3" fill="url(#bandg)" fill-opacity="0.92"/><rect x="463.84" y="370.52" width="23.77" height="1.3" fill="url(#bandg)" fill-opacity="0.86"/><rect x="467.91" y="371.52" width="15.65" height="1.3" fill="url(#bandg)" fill-opacity="0.81"/><rect x="468.35" y="372.53" width="15.31" height="1.3" fill="url(#bandg)" fill-opacity="0.75"/><rect x="466.1" y="373.53" width="20.01" height="1.3" fill="url(#bandg)" fill-opacity="0.81"/><rect x="466.58" y="374.53" width="17.83" height="1.3" fill="url(#bandg)" fill-opacity="0.74"/><rect x="464.92" y="375.53" width="22.09" height="1.3" fill="url(#bandg)" fill-opacity="0.91"/><rect x="463.97" y="376.53" width="23.25" height="1.3" fill="url(#bandg)" fill-opacity="0.88"/><rect x="466.49" y="377.53" width="18.79" height="1.3" fill="url(#bandg)" fill-opacity="0.65"/><rect x="465.3" y="378.53" width="20.95" height="1.3" fill="url(#bandg)" fill-opacity="0.71"/><rect x="467.75" y="379.53" width="16.14" height="1.3" fill="url(#bandg)" fill-opacity="0.62"/><rect x="467.55" y="380.53" width="16.2" height="1.3" fill="url(#bandg)" fill-opacity="0.76"/><rect x="464.79" y="381.53" width="21.52" height="1.3" fill="url(#bandg)" fill-opacity="0.7"/><rect x="467.11" y="382.53" width="17.86" height="1.3" fill="url(#bandg)" fill-opacity="0.23"/><rect x="468.06" y="383.53" width="16.46" height="1.3" fill="url(#bandg)" fill-opacity="0.72"/><rect x="464.19" y="384.53" width="23.44" height="1.3" fill="url(#bandg)" fill-opacity="0.81"/><rect x="466.79" y="385.53" width="19.04" height="1.3" fill="url(#bandg)" fill-opacity="0.57"/><rect x="465.92" y="386.53" width="19.83" height="1.3" fill="url(#bandg)" fill-opacity="0.74"/><rect x="465.73" y="387.53" width="19.7" height="1.3" fill="url(#bandg)" fill-opacity="0.36"/><rect x="468.88" y="388.53" width="14.99" height="1.3" fill="url(#bandg)" fill-opacity="0.57"/><rect x="469.21" y="389.53" width="14.37" height="1.3" fill="url(#bandg)" fill-opacity="0.79"/><rect x="465.31" y="390.53" width="20.42" height="1.3" fill="url(#bandg)" fill-opacity="0.2"/><rect x="468.31" y="391.53" width="15.96" height="1.3" fill="url(#bandg)" fill-opacity="0.6"/><rect x="467.83" y="392.54" width="15.5" height="1.3" fill="url(#bandg)" fill-opacity="0.77"/><rect x="467.91" y="393.54" width="16.84" height="1.3" fill="url(#bandg)" fill-opacity="0.6"/><rect x="468.85" y="394.54" width="14.76" height="1.3" fill="url(#bandg)" fill-opacity="0.71"/><rect x="467.25" y="395.54" width="17.46" height="1.3" fill="url(#bandg)" fill-opacity="0.57"/><rect x="468" y="396.54" width="16.02" height="1.3" fill="url(#bandg)" fill-opacity="0.78"/><rect x="465.71" y="397.54" width="20.38" height="1.3" fill="url(#bandg)" fill-opacity="0.64"/><rect x="464.19" y="398.54" width="23.51" height="1.3" fill="url(#bandg)" fill-opacity="0.7"/><rect x="464.44" y="399.54" width="22.3" height="1.3" fill="url(#bandg)" fill-opacity="0.85"/><rect x="464.21" y="400.54" width="24.05" height="1.3" fill="url(#bandg)" fill-opacity="0.6"/><rect x="467.9" y="401.54" width="16.39" height="1.3" fill="url(#bandg)" fill-opacity="0.32"/><rect x="466.54" y="402.54" width="19.2" height="1.3" fill="url(#bandg)" fill-opacity="0.76"/><rect x="467.47" y="403.54" width="17.93" height="1.3" fill="url(#bandg)" fill-opacity="0.57"/><rect x="466.24" y="404.54" width="19.83" height="1.3" fill="url(#bandg)" fill-opacity="0.82"/><rect x="468.48" y="405.54" width="14.11" height="1.3" fill="url(#bandg)" fill-opacity="0.22"/><rect x="466.28" y="406.54" width="20.19" height="1.3" fill="url(#bandg)" fill-opacity="0.61"/><rect x="466.26" y="407.54" width="19.73" height="1.3" fill="url(#bandg)" fill-opacity="0.72"/><rect x="468.91" y="408.54" width="14.16" height="1.3" fill="url(#bandg)" fill-opacity="0.56"/><rect x="467.06" y="409.54" width="17.67" height="1.3" fill="url(#bandg)" fill-opacity="0.55"/><rect x="464.56" y="410.54" width="22.21" height="1.3" fill="url(#bandg)" fill-opacity="0.22"/><rect x="468.32" y="411.54" width="14.45" height="1.3" fill="url(#bandg)" fill-opacity="0.77"/><rect x="467.51" y="412.54" width="17.21" height="1.3" fill="url(#bandg)" fill-opacity="0.7"/><rect x="467.9" y="413.55" width="15.84" height="1.3" fill="url(#bandg)" fill-opacity="0.69"/><rect x="465.74" y="414.55" width="20.71" height="1.3" fill="url(#bandg)" fill-opacity="0.53"/><rect x="469.17" y="415.55" width="13.88" height="1.3" fill="url(#bandg)" fill-opacity="0.6"/><rect x="468.24" y="416.55" width="15.82" height="1.3" fill="url(#bandg)" fill-opacity="0.27"/><rect x="468.49" y="417.55" width="14.24" height="1.3" fill="url(#bandg)" fill-opacity="0.63"/><rect x="464.99" y="418.55" width="22.03" height="1.3" fill="url(#bandg)" fill-opacity="0.64"/><rect x="469.58" y="419.55" width="13.5" height="1.3" fill="url(#bandg)" fill-opacity="0.69"/><rect x="466.08" y="420.55" width="20.62" height="1.3" fill="url(#bandg)" fill-opacity="0.17"/><rect x="465.67" y="421.55" width="20.44" height="1.3" fill="url(#bandg)" fill-opacity="0.76"/><rect x="468.74" y="422.55" width="14.42" height="1.3" fill="url(#bandg)" fill-opacity="0.63"/><rect x="466.55" y="423.55" width="19.23" height="1.3" fill="url(#bandg)" fill-opacity="0.66"/><rect x="469.51" y="424.55" width="13.05" height="1.3" fill="url(#bandg)" fill-opacity="0.48"/><rect x="467.61" y="425.55" width="16.3" height="1.3" fill="url(#bandg)" fill-opacity="0.66"/><rect x="467.45" y="426.55" width="16.25" height="1.3" fill="url(#bandg)" fill-opacity="0.18"/><rect x="467.85" y="427.55" width="17.15" height="1.3" fill="url(#bandg)" fill-opacity="0.61"/><rect x="465.94" y="428.55" width="20.99" height="1.3" fill="url(#bandg)" fill-opacity="0.52"/><rect x="466.66" y="429.55" width="19.67" height="1.3" fill="url(#bandg)" fill-opacity="0.73"/><rect x="467.74" y="430.55" width="17.41" height="1.3" fill="url(#bandg)" fill-opacity="0.58"/><rect x="466.23" y="431.55" width="20.24" height="1.3" fill="url(#bandg)" fill-opacity="0.46"/><rect x="469.25" y="432.55" width="14.09" height="1.3" fill="url(#bandg)" fill-opacity="0.49"/><rect x="467.49" y="433.56" width="17.89" height="1.3" fill="url(#bandg)" fill-opacity="0.14"/><rect x="468.84" y="434.56" width="14.71" height="1.3" fill="url(#bandg)" fill-opacity="0.58"/><rect x="468.4" y="435.56" width="15.21" height="1.3" fill="url(#bandg)" fill-opacity="0.57"/><rect x="469.69" y="436.56" width="13.34" height="1.3" fill="url(#bandg)" fill-opacity="0.63"/><rect x="468.36" y="437.56" width="15.94" height="1.3" fill="url(#bandg)" fill-opacity="0.61"/><rect x="469.74" y="438.56" width="12.68" height="1.3" fill="url(#bandg)" fill-opacity="0.2"/><rect x="464.96" y="439.56" width="21.39" height="1.3" fill="url(#bandg)" fill-opacity="0.65"/><rect x="465.92" y="440.56" width="20.15" height="1.3" fill="url(#bandg)" fill-opacity="0.67"/><rect x="468.38" y="441.56" width="15.5" height="1.3" fill="url(#bandg)" fill-opacity="0.66"/><rect x="467.54" y="442.56" width="16.01" height="1.3" fill="url(#bandg)" fill-opacity="0.67"/><rect x="467.74" y="443.56" width="16.35" height="1.3" fill="url(#bandg)" fill-opacity="0.23"/><rect x="468.98" y="444.56" width="14.09" height="1.3" fill="url(#bandg)" fill-opacity="0.64"/><rect x="467.15" y="445.56" width="16.89" height="1.3" fill="url(#bandg)" fill-opacity="0.21"/><rect x="467.09" y="446.56" width="17.33" height="1.3" fill="url(#bandg)" fill-opacity="0.53"/><rect x="469.53" y="447.56" width="12.4" height="1.3" fill="url(#bandg)" fill-opacity="0.43"/><rect x="467.97" y="448.56" width="16.46" height="1.3" fill="url(#bandg)" fill-opacity="0.62"/><rect x="467.08" y="449.56" width="17.61" height="1.3" fill="url(#bandg)" fill-opacity="0.61"/><rect x="467.77" y="450.56" width="16.75" height="1.3" fill="url(#bandg)" fill-opacity="0.64"/><rect x="469.04" y="451.56" width="14.42" height="1.3" fill="url(#bandg)" fill-opacity="0.56"/><rect x="467.72" y="452.56" width="16.85" height="1.3" fill="url(#bandg)" fill-opacity="0.13"/><rect x="470.06" y="453.56" width="12.26" height="1.3" fill="url(#bandg)" fill-opacity="0.58"/><rect x="468.3" y="454.57" width="16.11" height="1.3" fill="url(#bandg)" fill-opacity="0.14"/><rect x="467.7" y="455.57" width="16.74" height="1.3" fill="url(#bandg)" fill-opacity="0.49"/><rect x="468.35" y="456.57" width="15.3" height="1.3" fill="url(#bandg)" fill-opacity="0.48"/><rect x="468.83" y="457.57" width="14.74" height="1.3" fill="url(#bandg)" fill-opacity="0.57"/><rect x="467.59" y="458.57" width="16.04" height="1.3" fill="url(#bandg)" fill-opacity="0.56"/><rect x="466.65" y="459.57" width="17.78" height="1.3" fill="url(#bandg)" fill-opacity="0.45"/><rect x="467.63" y="460.57" width="16.2" height="1.3" fill="url(#bandg)" fill-opacity="0.63"/><rect x="466.52" y="461.57" width="19.15" height="1.3" fill="url(#bandg)" fill-opacity="0.63"/><rect x="465.76" y="462.57" width="19.76" height="1.3" fill="url(#bandg)" fill-opacity="0.18"/><rect x="468.06" y="463.57" width="16.03" height="1.3" fill="url(#bandg)" fill-opacity="0.41"/><rect x="466.26" y="464.57" width="19.02" height="1.3" fill="url(#bandg)" fill-opacity="0.53"/><rect x="469.07" y="465.57" width="13.58" height="1.3" fill="url(#bandg)" fill-opacity="0.47"/><rect x="466.07" y="466.57" width="18.88" height="1.3" fill="url(#bandg)" fill-opacity="0.65"/><rect x="467.49" y="467.57" width="17.22" height="1.3" fill="url(#bandg)" fill-opacity="0.59"/><rect x="469.66" y="468.57" width="11.98" height="1.3" fill="url(#bandg)" fill-opacity="0.14"/><rect x="469.48" y="469.57" width="12.43" height="1.3" fill="url(#bandg)" fill-opacity="0.56"/><rect x="470.14" y="470.57" width="10.99" height="1.3" fill="url(#bandg)" fill-opacity="0.21"/><rect x="469.75" y="471.57" width="11.72" height="1.3" fill="url(#bandg)" fill-opacity="0.59"/><rect x="466.32" y="472.57" width="19.1" height="1.3" fill="url(#bandg)" fill-opacity="0.41"/><rect x="466.36" y="473.57" width="18.82" height="1.3" fill="url(#bandg)" fill-opacity="0.6"/><rect x="467.55" y="474.58" width="16.7" height="1.3" fill="url(#bandg)" fill-opacity="0.47"/><rect x="470.57" y="475.58" width="11.73" height="1.3" fill="url(#bandg)" fill-opacity="0.56"/><rect x="468.81" y="476.58" width="14.87" height="1.3" fill="url(#bandg)" fill-opacity="0.26"/><rect x="469.75" y="477.58" width="11.64" height="1.3" fill="url(#bandg)" fill-opacity="0.62"/><rect x="467.48" y="478.58" width="17.75" height="1.3" fill="url(#bandg)" fill-opacity="0.61"/><rect x="467.61" y="479.58" width="16.75" height="1.3" fill="url(#bandg)" fill-opacity="0.23"/><rect x="466.9" y="480.58" width="18.04" height="1.3" fill="url(#bandg)" fill-opacity="0.62"/><rect x="468.49" y="481.58" width="15.11" height="1.3" fill="url(#bandg)" fill-opacity="0.57"/><rect x="467.21" y="482.58" width="18.37" height="1.3" fill="url(#bandg)" fill-opacity="0.49"/><rect x="467.87" y="483.58" width="15.99" height="1.3" fill="url(#bandg)" fill-opacity="0.58"/><rect x="467.98" y="484.58" width="15.97" height="1.3" fill="url(#bandg)" fill-opacity="0.21"/><rect x="468.45" y="485.58" width="15" height="1.3" fill="url(#bandg)" fill-opacity="0.17"/><rect x="467.65" y="486.58" width="16.66" height="1.3" fill="url(#bandg)" fill-opacity="0.17"/><rect x="467.24" y="487.58" width="16.94" height="1.3" fill="url(#bandg)" fill-opacity="0.6"/><rect x="468.01" y="488.58" width="16.38" height="1.3" fill="url(#bandg)" fill-opacity="0.58"/><rect x="470.07" y="489.58" width="11.45" height="1.3" fill="url(#bandg)" fill-opacity="0.43"/><rect x="466.81" y="490.58" width="18.52" height="1.3" fill="url(#bandg)" fill-opacity="0.39"/><rect x="469.36" y="491.58" width="13.03" height="1.3" fill="url(#bandg)" fill-opacity="0.45"/><rect x="468.23" y="492.58" width="15.56" height="1.3" fill="url(#bandg)" fill-opacity="0.42"/><rect x="469.57" y="493.58" width="13.14" height="1.3" fill="url(#bandg)" fill-opacity="0.27"/><rect x="467.91" y="494.58" width="15.94" height="1.3" fill="url(#bandg)" fill-opacity="0.43"/><rect x="467.66" y="495.59" width="17.46" height="1.3" fill="url(#bandg)" fill-opacity="0.25"/><rect x="466.92" y="496.59" width="18.05" height="1.3" fill="url(#bandg)" fill-opacity="0.11"/><rect x="466.8" y="497.59" width="18.28" height="1.3" fill="url(#bandg)" fill-opacity="0.58"/><rect x="467.86" y="498.59" width="16.33" height="1.3" fill="url(#bandg)" fill-opacity="0.27"/><rect x="469.37" y="499.59" width="12.81" height="1.3" fill="url(#bandg)" fill-opacity="0.44"/><rect x="466.46" y="500.59" width="18.13" height="1.3" fill="url(#bandg)" fill-opacity="0.15"/><rect x="469.06" y="501.59" width="14.14" height="1.3" fill="url(#bandg)" fill-opacity="0.19"/><rect x="466.66" y="502.59" width="17.94" height="1.3" fill="url(#bandg)" fill-opacity="0.26"/><rect x="470.91" y="503.59" width="10.52" height="1.3" fill="url(#bandg)" fill-opacity="0.51"/><rect x="470.41" y="504.59" width="11.98" height="1.3" fill="url(#bandg)" fill-opacity="0.38"/><rect x="467.55" y="505.59" width="17.4" height="1.3" fill="url(#bandg)" fill-opacity="0.11"/><rect x="468.52" y="506.59" width="15.92" height="1.3" fill="url(#bandg)" fill-opacity="0.2"/><rect x="466.71" y="507.59" width="17.7" height="1.3" fill="url(#bandg)" fill-opacity="0.18"/><rect x="469.77" y="508.59" width="12.93" height="1.3" fill="url(#bandg)" fill-opacity="0.21"/><rect x="469.35" y="509.59" width="13.91" height="1.3" fill="url(#bandg)" fill-opacity="0.49"/><rect x="467.92" y="510.59" width="16.16" height="1.3" fill="url(#bandg)" fill-opacity="0.19"/><rect x="471.18" y="511.59" width="10.59" height="1.3" fill="url(#bandg)" fill-opacity="0.11"/><rect x="468.81" y="512.59" width="15.14" height="1.3" fill="url(#bandg)" fill-opacity="0.22"/><rect x="467.43" y="513.59" width="16.63" height="1.3" fill="url(#bandg)" fill-opacity="0.52"/><rect x="471.34" y="514.59" width="9.96" height="1.3" fill="url(#bandg)" fill-opacity="0.49"/><rect x="468.07" y="515.6" width="16.65" height="1.3" fill="url(#bandg)" fill-opacity="0.22"/><rect x="470.97" y="516.6" width="10.06" height="1.3" fill="url(#bandg)" fill-opacity="0.17"/><rect x="470.76" y="517.6" width="10.3" height="1.3" fill="url(#bandg)" fill-opacity="0.22"/><rect x="469.46" y="518.6" width="12.48" height="1.3" fill="url(#bandg)" fill-opacity="0.36"/><rect x="470.12" y="519.6" width="11.33" height="1.3" fill="url(#bandg)" fill-opacity="0.11"/><rect x="467.54" y="520.6" width="17.03" height="1.3" fill="url(#bandg)" fill-opacity="0.39"/><rect x="471.46" y="521.6" width="9.84" height="1.3" fill="url(#bandg)" fill-opacity="0.1"/><rect x="467.19" y="522.6" width="17.15" height="1.3" fill="url(#bandg)" fill-opacity="0.49"/><rect x="468.54" y="523.6" width="15.6" height="1.3" fill="url(#bandg)" fill-opacity="0.23"/><rect x="469.49" y="524.6" width="13.7" height="1.3" fill="url(#bandg)" fill-opacity="0.5"/></g>
<rect x="441.4" y="320.5" width="69.3" height="205.1" fill="none" stroke="#7a7a7a" stroke-width="0.8"/>
<g filter="url(#hmf2)"><rect x="515.6" y="320.5" width="69" height="1.3" fill="#5e5e5e"/><rect x="515.6" y="321.5" width="69" height="1.3" fill="#606060"/><rect x="515.6" y="322.5" width="69" height="1.3" fill="#5f5f5f"/><rect x="515.6" y="323.5" width="69" height="1.3" fill="#5d5d5d"/><rect x="515.6" y="324.5" width="69" height="1.3" fill="#636363"/><rect x="515.6" y="325.5" width="69" height="1.3" fill="#606060"/><rect x="520.18" y="325.5" width="24.4" height="1" fill="#d4d4d4" fill-opacity="0.85"/><rect x="562.42" y="325.5" width="18.92" height="1" fill="#d6d6d6" fill-opacity="0.85"/><rect x="515.6" y="326.5" width="69" height="1.3" fill="#5f5f5f"/><rect x="515.6" y="327.5" width="69" height="1.3" fill="#606060"/><rect x="515.6" y="328.5" width="69" height="1.3" fill="#626262"/><rect x="515.6" y="329.5" width="69" height="1.3" fill="#616161"/><rect x="538.43" y="329.5" width="8.43" height="1" fill="#c2c2c2" fill-opacity="0.85"/><rect x="515.6" y="330.5" width="69" height="1.3" fill="#5e5e5e"/><rect x="515.6" y="331.51" width="69" height="1.3" fill="#666666"/><rect x="515.6" y="332.51" width="69" height="1.3" fill="#666666"/><rect x="515.6" y="333.51" width="69" height="1.3" fill="#606060"/><rect x="515.6" y="334.51" width="69" height="1.3" fill="#5d5d5d"/><rect x="515.6" y="335.51" width="69" height="1.3" fill="#616161"/><rect x="515.6" y="336.51" width="69" height="1.3" fill="#5e5e5e"/><rect x="515.6" y="337.51" width="69" height="1.3" fill="#5a5a5a"/><rect x="515.6" y="338.51" width="69" height="1.3" fill="#606060"/><rect x="515.6" y="339.51" width="69" height="1.3" fill="#5d5d5d"/><rect x="515.6" y="340.51" width="69" height="1.3" fill="#5e5e5e"/><rect x="515.6" y="341.51" width="69" height="1.3" fill="#5c5c5c"/><rect x="515.6" y="342.51" width="69" height="1.3" fill="#5a5a5a"/><rect x="515.6" y="343.51" width="69" height="1.3" fill="#606060"/><rect x="515.6" y="344.51" width="69" height="1.3" fill="#5b5b5b"/><rect x="515.6" y="345.51" width="69" height="1.3" fill="#5d5d5d"/><rect x="515.6" y="346.51" width="69" height="1.3" fill="#5d5d5d"/><rect x="515.6" y="347.51" width="69" height="1.3" fill="#5f5f5f"/><rect x="515.6" y="348.51" width="69" height="1.3" fill="#5c5c5c"/><rect x="515.6" y="349.51" width="69" height="1.3" fill="#5d5d5d"/><rect x="515.6" y="350.51" width="69" height="1.3" fill="#5a5a5a"/><rect x="515.6" y="351.52" width="69" height="1.3" fill="#5b5b5b"/><rect x="515.6" y="352.52" width="69" height="1.3" fill="#5a5a5a"/><rect x="515.6" y="353.52" width="69" height="1.3" fill="#585858"/><rect x="515.6" y="354.52" width="69" height="1.3" fill="#606060"/><rect x="515.6" y="355.52" width="69" height="1.3" fill="#555555"/><rect x="515.6" y="356.52" width="69" height="1.3" fill="#5a5a5a"/><rect x="515.6" y="357.52" width="69" height="1.3" fill="#606060"/><rect x="515.6" y="358.52" width="69" height="1.3" fill="#5c5c5c"/><rect x="515.6" y="359.52" width="69" height="1.3" fill="#595959"/><rect x="515.6" y="360.52" width="69" height="1.3" fill="#575757"/><rect x="515.6" y="361.52" width="69" height="1.3" fill="#585858"/><rect x="515.6" y="362.52" width="69" height="1.3" fill="#5f5f5f"/><rect x="515.6" y="363.52" width="69" height="1.3" fill="#575757"/><rect x="515.6" y="364.52" width="69" height="1.3" fill="#575757"/><rect x="515.6" y="365.52" width="69" height="1.3" fill="#5b5b5b"/><rect x="515.6" y="366.52" width="69" height="1.3" fill="#585858"/><rect x="515.6" y="367.52" width="69" height="1.3" fill="#5e5e5e"/><rect x="515.6" y="368.52" width="69" height="1.3" fill="#5b5b5b"/><rect x="515.6" y="369.52" width="69" height="1.3" fill="#5b5b5b"/><rect x="515.6" y="370.52" width="69" height="1.3" fill="#595959"/><rect x="515.6" y="371.52" width="69" height="1.3" fill="#565656"/><rect x="515.6" y="372.53" width="69" height="1.3" fill="#5a5a5a"/><rect x="515.6" y="373.53" width="69" height="1.3" fill="#5b5b5b"/><rect x="515.6" y="374.53" width="69" height="1.3" fill="#595959"/><rect x="515.6" y="375.53" width="69" height="1.3" fill="#616161"/><rect x="515.6" y="376.53" width="69" height="1.3" fill="#5a5a5a"/><rect x="515.6" y="377.53" width="69" height="1.3" fill="#555555"/><rect x="515.6" y="378.53" width="69" height="1.3" fill="#606060"/><rect x="515.6" y="379.53" width="69" height="1.3" fill="#575757"/><rect x="515.6" y="380.53" width="69" height="1.3" fill="#5d5d5d"/><rect x="515.6" y="381.53" width="69" height="1.3" fill="#5a5a5a"/><rect x="515.6" y="382.53" width="69" height="1.3" fill="#585858"/><rect x="515.6" y="383.53" width="69" height="1.3" fill="#545454"/><rect x="515.6" y="384.53" width="69" height="1.3" fill="#585858"/><rect x="515.6" y="385.53" width="69" height="1.3" fill="#5a5a5a"/><rect x="515.6" y="386.53" width="69" height="1.3" fill="#565656"/><rect x="515.6" y="387.53" width="69" height="1.3" fill="#565656"/><rect x="515.6" y="388.53" width="69" height="1.3" fill="#595959"/><rect x="515.6" y="389.53" width="69" height="1.3" fill="#5a5a5a"/><rect x="515.6" y="390.53" width="69" height="1.3" fill="#5a5a5a"/><rect x="515.6" y="391.53" width="69" height="1.3" fill="#5b5b5b"/><rect x="515.6" y="392.54" width="69" height="1.3" fill="#535353"/><rect x="515.6" y="393.54" width="69" height="1.3" fill="#5a5a5a"/><rect x="515.6" y="394.54" width="69" height="1.3" fill="#5a5a5a"/><rect x="515.6" y="395.54" width="69" height="1.3" fill="#5b5b5b"/><rect x="515.6" y="396.54" width="69" height="1.3" fill="#595959"/><rect x="515.6" y="397.54" width="69" height="1.3" fill="#5a5a5a"/><rect x="515.6" y="398.54" width="69" height="1.3" fill="#5b5b5b"/><rect x="515.6" y="399.54" width="69" height="1.3" fill="#5c5c5c"/><rect x="515.6" y="400.54" width="69" height="1.3" fill="#5a5a5a"/><rect x="515.6" y="401.54" width="69" height="1.3" fill="#515151"/><rect x="515.6" y="402.54" width="69" height="1.3" fill="#5f5f5f"/><rect x="515.6" y="403.54" width="69" height="1.3" fill="#545454"/><rect x="515.6" y="404.54" width="69" height="1.3" fill="#535353"/><rect x="515.6" y="405.54" width="69" height="1.3" fill="#575757"/><rect x="515.6" y="406.54" width="69" height="1.3" fill="#575757"/><rect x="515.6" y="407.54" width="69" height="1.3" fill="#5c5c5c"/><rect x="515.6" y="408.54" width="69" height="1.3" fill="#595959"/><rect x="515.6" y="409.54" width="69" height="1.3" fill="#565656"/><rect x="515.6" y="410.54" width="69" height="1.3" fill="#595959"/><rect x="515.6" y="411.54" width="69" height="1.3" fill="#5a5a5a"/><rect x="515.6" y="412.54" width="69" height="1.3" fill="#545454"/><rect x="515.6" y="413.55" width="69" height="1.3" fill="#555555"/><rect x="515.6" y="414.55" width="69" height="1.3" fill="#565656"/><rect x="515.6" y="415.55" width="69" height="1.3" fill="#595959"/><rect x="515.6" y="416.55" width="69" height="1.3" fill="#565656"/><rect x="515.6" y="417.55" width="69" height="1.3" fill="#575757"/><rect x="515.6" y="418.55" width="69" height="1.3" fill="#595959"/><rect x="515.6" y="419.55" width="69" height="1.3" fill="#525252"/><rect x="515.6" y="420.55" width="69" height="1.3" fill="#5a5a5a"/><rect x="515.6" y="421.55" width="69" height="1.3" fill="#595959"/><rect x="515.6" y="422.55" width="69" height="1.3" fill="#595959"/><rect x="515.6" y="423.55" width="69" height="1.3" fill="#565656"/><rect x="515.6" y="424.55" width="69" height="1.3" fill="#5b5b5b"/><rect x="515.6" y="425.55" width="69" height="1.3" fill="#525252"/><rect x="515.6" y="426.55" width="69" height="1.3" fill="#565656"/><rect x="515.6" y="427.55" width="69" height="1.3" fill="#525252"/><rect x="515.6" y="428.55" width="69" height="1.3" fill="#555555"/><rect x="515.6" y="429.55" width="69" height="1.3" fill="#585858"/><rect x="515.6" y="430.55" width="69" height="1.3" fill="#555555"/><rect x="515.6" y="431.55" width="69" height="1.3" fill="#575757"/><rect x="515.6" y="432.55" width="69" height="1.3" fill="#5a5a5a"/><rect x="515.6" y="433.56" width="69" height="1.3" fill="#595959"/><rect x="515.6" y="434.56" width="69" height="1.3" fill="#565656"/><rect x="515.6" y="435.56" width="69" height="1.3" fill="#595959"/><rect x="515.6" y="436.56" width="69" height="1.3" fill="#5b5b5b"/><rect x="515.6" y="437.56" width="69" height="1.3" fill="#555555"/><rect x="515.6" y="438.56" width="69" height="1.3" fill="#525252"/><rect x="515.6" y="439.56" width="69" height="1.3" fill="#565656"/><rect x="515.6" y="440.56" width="69" height="1.3" fill="#5d5d5d"/><rect x="515.6" y="441.56" width="69" height="1.3" fill="#575757"/><rect x="515.6" y="442.56" width="69" height="1.3" fill="#545454"/><rect x="515.6" y="443.56" width="69" height="1.3" fill="#575757"/><rect x="515.6" y="444.56" width="69" height="1.3" fill="#585858"/><rect x="515.6" y="445.56" width="69" height="1.3" fill="#5a5a5a"/><rect x="515.6" y="446.56" width="69" height="1.3" fill="#525252"/><rect x="515.6" y="447.56" width="69" height="1.3" fill="#555555"/><rect x="515.6" y="448.56" width="69" height="1.3" fill="#4e4e4e"/><rect x="515.6" y="449.56" width="69" height="1.3" fill="#585858"/><rect x="515.6" y="450.56" width="69" height="1.3" fill="#595959"/><rect x="515.6" y="451.56" width="69" height="1.3" fill="#555555"/><rect x="515.6" y="452.56" width="69" height="1.3" fill="#5d5d5d"/><rect x="515.6" y="453.56" width="69" height="1.3" fill="#595959"/><rect x="515.6" y="454.57" width="69" height="1.3" fill="#555555"/><rect x="515.6" y="455.57" width="69" height="1.3" fill="#5b5b5b"/><rect x="515.6" y="456.57" width="69" height="1.3" fill="#5b5b5b"/><rect x="515.6" y="457.57" width="69" height="1.3" fill="#555555"/><rect x="515.6" y="458.57" width="69" height="1.3" fill="#4f4f4f"/><rect x="515.6" y="459.57" width="69" height="1.3" fill="#565656"/><rect x="515.6" y="460.57" width="69" height="1.3" fill="#555555"/><rect x="515.6" y="461.57" width="69" height="1.3" fill="#595959"/><rect x="515.6" y="462.57" width="69" height="1.3" fill="#585858"/><rect x="515.6" y="463.57" width="69" height="1.3" fill="#545454"/><rect x="515.6" y="464.57" width="69" height="1.3" fill="#5a5a5a"/><rect x="515.6" y="465.57" width="69" height="1.3" fill="#575757"/><rect x="515.6" y="466.57" width="69" height="1.3" fill="#555555"/><rect x="515.6" y="467.57" width="69" height="1.3" fill="#545454"/><rect x="515.6" y="468.57" width="69" height="1.3" fill="#535353"/><rect x="515.6" y="469.57" width="69" height="1.3" fill="#565656"/><rect x="515.6" y="470.57" width="69" height="1.3" fill="#505050"/><rect x="515.6" y="471.57" width="69" height="1.3" fill="#575757"/><rect x="515.6" y="472.57" width="69" height="1.3" fill="#515151"/><rect x="515.6" y="473.57" width="69" height="1.3" fill="#535353"/><rect x="515.6" y="474.58" width="69" height="1.3" fill="#4f4f4f"/><rect x="515.6" y="475.58" width="69" height="1.3" fill="#555555"/><rect x="515.6" y="476.58" width="69" height="1.3" fill="#575757"/><rect x="515.6" y="477.58" width="69" height="1.3" fill="#555555"/><rect x="515.6" y="478.58" width="69" height="1.3" fill="#525252"/><rect x="515.6" y="479.58" width="69" height="1.3" fill="#505050"/><rect x="515.6" y="480.58" width="69" height="1.3" fill="#4c4c4c"/><rect x="515.6" y="481.58" width="69" height="1.3" fill="#545454"/><rect x="515.6" y="482.58" width="69" height="1.3" fill="#535353"/><rect x="515.6" y="483.58" width="69" height="1.3" fill="#555555"/><rect x="515.6" y="484.58" width="69" height="1.3" fill="#585858"/><rect x="515.6" y="485.58" width="69" height="1.3" fill="#4f4f4f"/><rect x="515.6" y="486.58" width="69" height="1.3" fill="#4f4f4f"/><rect x="515.6" y="487.58" width="69" height="1.3" fill="#4e4e4e"/><rect x="515.6" y="488.58" width="69" height="1.3" fill="#505050"/><rect x="515.6" y="489.58" width="69" height="1.3" fill="#535353"/><rect x="515.6" y="490.58" width="69" height="1.3" fill="#515151"/><rect x="515.6" y="491.58" width="69" height="1.3" fill="#555555"/><rect x="515.6" y="492.58" width="69" height="1.3" fill="#515151"/><rect x="515.6" y="493.58" width="69" height="1.3" fill="#555555"/><rect x="515.6" y="494.58" width="69" height="1.3" fill="#535353"/><rect x="515.6" y="495.59" width="69" height="1.3" fill="#565656"/><rect x="515.6" y="496.59" width="69" height="1.3" fill="#545454"/><rect x="515.6" y="497.59" width="69" height="1.3" fill="#545454"/><rect x="515.6" y="498.59" width="69" height="1.3" fill="#515151"/><rect x="515.6" y="499.59" width="69" height="1.3" fill="#505050"/><rect x="515.6" y="500.59" width="69" height="1.3" fill="#555555"/><rect x="515.6" y="501.59" width="69" height="1.3" fill="#505050"/><rect x="515.6" y="502.59" width="69" height="1.3" fill="#565656"/><rect x="515.6" y="503.59" width="69" height="1.3" fill="#555555"/><rect x="515.6" y="504.59" width="69" height="1.3" fill="#515151"/><rect x="515.6" y="505.59" width="69" height="1.3" fill="#4e4e4e"/><rect x="515.6" y="506.59" width="69" height="1.3" fill="#515151"/><rect x="515.6" y="507.59" width="69" height="1.3" fill="#4b4b4b"/><rect x="515.6" y="508.59" width="69" height="1.3" fill="#525252"/><rect x="515.6" y="509.59" width="69" height="1.3" fill="#565656"/><rect x="515.6" y="510.59" width="69" height="1.3" fill="#525252"/><rect x="515.6" y="511.59" width="69" height="1.3" fill="#545454"/><rect x="515.6" y="512.59" width="69" height="1.3" fill="#535353"/><rect x="515.6" y="513.59" width="69" height="1.3" fill="#515151"/><rect x="515.6" y="514.59" width="69" height="1.3" fill="#545454"/><rect x="515.6" y="515.6" width="69" height="1.3" fill="#555555"/><rect x="515.6" y="516.6" width="69" height="1.3" fill="#525252"/><rect x="515.6" y="517.6" width="69" height="1.3" fill="#535353"/><rect x="515.6" y="518.6" width="69" height="1.3" fill="#555555"/><rect x="515.6" y="519.6" width="69" height="1.3" fill="#565656"/><rect x="515.6" y="520.6" width="69" height="1.3" fill="#4a4a4a"/><rect x="515.6" y="521.6" width="69" height="1.3" fill="#525252"/><rect x="515.6" y="522.6" width="69" height="1.3" fill="#515151"/><rect x="515.6" y="523.6" width="69" height="1.3" fill="#545454"/><rect x="515.6" y="524.6" width="69" height="1.3" fill="#4e4e4e"/><rect x="540.98" y="320.5" width="21.33" height="1.3" fill="url(#bandg)" fill-opacity="0.05"/><rect x="541.71" y="321.5" width="19.11" height="1.3" fill="url(#bandg)" fill-opacity="0.04"/><rect x="544.84" y="322.5" width="13.65" height="1.3" fill="url(#bandg)" fill-opacity="0.05"/><rect x="544.15" y="323.5" width="14.59" height="1.3" fill="url(#bandg)" fill-opacity="0.05"/><rect x="541.45" y="324.5" width="21.28" height="1.3" fill="url(#bandg)" fill-opacity="0.04"/><rect x="540.49" y="325.5" width="22.79" height="1.3" fill="url(#bandg)" fill-opacity="0.05"/><rect x="545.15" y="326.5" width="13.8" height="1.3" fill="url(#bandg)" fill-opacity="0.05"/><rect x="541.6" y="327.5" width="19.79" height="1.3" fill="url(#bandg)" fill-opacity="0.04"/><rect x="541.85" y="328.5" width="19.94" height="1.3" fill="url(#bandg)" fill-opacity="0.05"/><rect x="543.38" y="329.5" width="16.23" height="1.3" fill="url(#bandg)" fill-opacity="0.05"/><rect x="542.95" y="330.5" width="16.29" height="1.3" fill="url(#bandg)" fill-opacity="0.04"/><rect x="540.24" y="331.51" width="22.9" height="1.3" fill="url(#bandg)" fill-opacity="0.04"/><rect x="540.35" y="332.51" width="22.52" height="1.3" fill="url(#bandg)" fill-opacity="0.04"/><rect x="541.82" y="333.51" width="20.11" height="1.3" fill="url(#bandg)" fill-opacity="0.05"/><rect x="540.79" y="334.51" width="21.36" height="1.3" fill="url(#bandg)" fill-opacity="0.04"/><rect x="545.12" y="335.51" width="13.23" height="1.3" fill="url(#bandg)" fill-opacity="0.04"/><rect x="543.9" y="336.51" width="16.06" height="1.3" fill="url(#bandg)" fill-opacity="0.04"/><rect x="540.25" y="337.51" width="23.38" height="1.3" fill="url(#bandg)" fill-opacity="0.05"/><rect x="542.86" y="338.51" width="17.16" height="1.3" fill="url(#bandg)" fill-opacity="0.05"/><rect x="540.27" y="339.51" width="23.31" height="1.3" fill="url(#bandg)" fill-opacity="0.04"/><rect x="543.56" y="340.51" width="16.62" height="1.3" fill="url(#bandg)" fill-opacity="0.04"/><rect x="544.9" y="341.51" width="14.37" height="1.3" fill="url(#bandg)" fill-opacity="0.04"/><rect x="541.8" y="342.51" width="19.62" height="1.3" fill="url(#bandg)" fill-opacity="0.04"/><rect x="544.57" y="343.51" width="14.51" height="1.3" fill="url(#bandg)" fill-opacity="0.04"/><rect x="543.07" y="344.51" width="16.89" height="1.3" fill="url(#bandg)" fill-opacity="0.05"/><rect x="542.44" y="345.51" width="18.71" height="1.3" fill="url(#bandg)" fill-opacity="0.04"/><rect x="544.64" y="346.51" width="14.67" height="1.3" fill="url(#bandg)" fill-opacity="0.05"/><rect x="539.84" y="347.51" width="23.16" height="1.3" fill="url(#bandg)" fill-opacity="0.04"/><rect x="544.57" y="348.51" width="14.88" height="1.3" fill="url(#bandg)" fill-opacity="0.05"/><rect x="542.96" y="349.51" width="17.31" height="1.3" fill="url(#bandg)" fill-opacity="0.05"/><rect x="543.32" y="350.51" width="17.05" height="1.3" fill="url(#bandg)" fill-opacity="0.04"/><rect x="544.06" y="351.52" width="14.96" height="1.3" fill="url(#bandg)" fill-opacity="0.04"/><rect x="543.49" y="352.52" width="16.77" height="1.3" fill="url(#bandg)" fill-opacity="0.05"/><rect x="544.57" y="353.52" width="13.97" height="1.3" fill="url(#bandg)" fill-opacity="0.05"/><rect x="544.42" y="354.52" width="14.5" height="1.3" fill="url(#bandg)" fill-opacity="0.04"/><rect x="544.78" y="355.52" width="13.28" height="1.3" fill="url(#bandg)" fill-opacity="0.05"/><rect x="544.48" y="356.52" width="13.97" height="1.3" fill="url(#bandg)" fill-opacity="0.04"/><rect x="542.31" y="357.52" width="19.32" height="1.3" fill="url(#bandg)" fill-opacity="0.05"/><rect x="543.48" y="358.52" width="16.71" height="1.3" fill="url(#bandg)" fill-opacity="0.04"/><rect x="543.25" y="359.52" width="16.56" height="1.3" fill="url(#bandg)" fill-opacity="0.04"/><rect x="541.93" y="360.52" width="19.83" height="1.3" fill="url(#bandg)" fill-opacity="0.05"/><rect x="541.96" y="361.52" width="18.8" height="1.3" fill="url(#bandg)" fill-opacity="0.04"/><rect x="539.6" y="362.52" width="23.37" height="1.3" fill="url(#bandg)" fill-opacity="0.04"/><rect x="545.37" y="363.52" width="12.87" height="1.3" fill="url(#bandg)" fill-opacity="0.04"/><rect x="541.58" y="364.52" width="20.4" height="1.3" fill="url(#bandg)" fill-opacity="0.05"/><rect x="541.7" y="365.52" width="20.04" height="1.3" fill="url(#bandg)" fill-opacity="0.04"/><rect x="542.11" y="366.52" width="19.24" height="1.3" fill="url(#bandg)" fill-opacity="0.05"/><rect x="540.59" y="367.52" width="22.95" height="1.3" fill="url(#bandg)" fill-opacity="0.04"/><rect x="541.18" y="368.52" width="21.05" height="1.3" fill="url(#bandg)" fill-opacity="0.04"/><rect x="543.42" y="369.52" width="16.09" height="1.3" fill="url(#bandg)" fill-opacity="0.05"/><rect x="543.45" y="370.52" width="15.46" height="1.3" fill="url(#bandg)" fill-opacity="0.04"/><rect x="540.63" y="371.52" width="22.43" height="1.3" fill="url(#bandg)" fill-opacity="0.04"/><rect x="544.3" y="372.53" width="15.48" height="1.3" fill="url(#bandg)" fill-opacity="0.04"/><rect x="540.6" y="373.53" width="22.24" height="1.3" fill="url(#bandg)" fill-opacity="0.04"/><rect x="541.61" y="374.53" width="20.77" height="1.3" fill="url(#bandg)" fill-opacity="0.05"/><rect x="545.41" y="375.53" width="12.84" height="1.3" fill="url(#bandg)" fill-opacity="0.04"/><rect x="544.17" y="376.53" width="15.63" height="1.3" fill="url(#bandg)" fill-opacity="0.04"/><rect x="541.05" y="377.53" width="20.74" height="1.3" fill="url(#bandg)" fill-opacity="0.04"/><rect x="543.8" y="378.53" width="14.9" height="1.3" fill="url(#bandg)" fill-opacity="0.05"/><rect x="543.67" y="379.53" width="16.12" height="1.3" fill="url(#bandg)" fill-opacity="0.04"/><rect x="540.31" y="380.53" width="23.33" height="1.3" fill="url(#bandg)" fill-opacity="0.04"/><rect x="540.8" y="381.53" width="21.13" height="1.3" fill="url(#bandg)" fill-opacity="0.04"/><rect x="543.7" y="382.53" width="16.15" height="1.3" fill="url(#bandg)" fill-opacity="0.05"/><rect x="540.25" y="383.53" width="22.85" height="1.3" fill="url(#bandg)" fill-opacity="0.05"/><rect x="540.82" y="384.53" width="20.94" height="1.3" fill="url(#bandg)" fill-opacity="0.04"/><rect x="540.93" y="385.53" width="21.68" height="1.3" fill="url(#bandg)" fill-opacity="0.05"/><rect x="540.88" y="386.53" width="21.23" height="1.3" fill="url(#bandg)" fill-opacity="0.05"/><rect x="542.43" y="387.53" width="18.19" height="1.3" fill="url(#bandg)" fill-opacity="0.03"/><rect x="543.15" y="388.53" width="17.37" height="1.3" fill="url(#bandg)" fill-opacity="0.05"/><rect x="543.47" y="389.53" width="16.95" height="1.3" fill="url(#bandg)" fill-opacity="0.04"/><rect x="542.39" y="390.53" width="17.85" height="1.3" fill="url(#bandg)" fill-opacity="0.04"/><rect x="543.09" y="391.53" width="16.7" height="1.3" fill="url(#bandg)" fill-opacity="0.04"/><rect x="544.21" y="392.54" width="15.78" height="1.3" fill="url(#bandg)" fill-opacity="0.05"/><rect x="540.91" y="393.54" width="21.2" height="1.3" fill="url(#bandg)" fill-opacity="0.05"/><rect x="542.58" y="394.54" width="18.58" height="1.3" fill="url(#bandg)" fill-opacity="0.05"/><rect x="543.37" y="395.54" width="17.1" height="1.3" fill="url(#bandg)" fill-opacity="0.05"/><rect x="543.24" y="396.54" width="16" height="1.3" fill="url(#bandg)" fill-opacity="0.05"/><rect x="543.3" y="397.54" width="15.71" height="1.3" fill="url(#bandg)" fill-opacity="0.04"/><rect x="540.86" y="398.54" width="20.89" height="1.3" fill="url(#bandg)" fill-opacity="0.05"/><rect x="543.89" y="399.54" width="15.05" height="1.3" fill="url(#bandg)" fill-opacity="0.04"/><rect x="542.7" y="400.54" width="17.76" height="1.3" fill="url(#bandg)" fill-opacity="0.05"/><rect x="542.64" y="401.54" width="18.05" height="1.3" fill="url(#bandg)" fill-opacity="0.05"/><rect x="542.01" y="402.54" width="19.25" height="1.3" fill="url(#bandg)" fill-opacity="0.04"/><rect x="542.11" y="403.54" width="18.05" height="1.3" fill="url(#bandg)" fill-opacity="0.04"/><rect x="541.12" y="404.54" width="21.32" height="1.3" fill="url(#bandg)" fill-opacity="0.04"/><rect x="542.12" y="405.54" width="18.28" height="1.3" fill="url(#bandg)" fill-opacity="0.05"/><rect x="543.1" y="406.54" width="17.05" height="1.3" fill="url(#bandg)" fill-opacity="0.04"/><rect x="542.76" y="407.54" width="18.04" height="1.3" fill="url(#bandg)" fill-opacity="0.05"/><rect x="541.02" y="408.54" width="21.29" height="1.3" fill="url(#bandg)" fill-opacity="0.04"/><rect x="545.49" y="409.54" width="13.12" height="1.3" fill="url(#bandg)" fill-opacity="0.05"/><rect x="544.58" y="410.54" width="13.23" height="1.3" fill="url(#bandg)" fill-opacity="0.04"/><rect x="542.65" y="411.54" width="18.28" height="1.3" fill="url(#bandg)" fill-opacity="0.04"/><rect x="544.05" y="412.54" width="15.92" height="1.3" fill="url(#bandg)" fill-opacity="0.04"/><rect x="541.4" y="413.55" width="21.01" height="1.3" fill="url(#bandg)" fill-opacity="0.04"/><rect x="544.24" y="414.55" width="14.76" height="1.3" fill="url(#bandg)" fill-opacity="0.05"/><rect x="544.62" y="415.55" width="13.84" height="1.3" fill="url(#bandg)" fill-opacity="0.05"/><rect x="540.83" y="416.55" width="21.83" height="1.3" fill="url(#bandg)" fill-opacity="0.04"/><rect x="540.67" y="417.55" width="21.76" height="1.3" fill="url(#bandg)" fill-opacity="0.04"/><rect x="545.03" y="418.55" width="13.76" height="1.3" fill="url(#bandg)" fill-opacity="0.04"/><rect x="544.27" y="419.55" width="13.98" height="1.3" fill="url(#bandg)" fill-opacity="0.04"/><rect x="544.53" y="420.55" width="13.84" height="1.3" fill="url(#bandg)" fill-opacity="0.05"/><rect x="542.68" y="421.55" width="17.53" height="1.3" fill="url(#bandg)" fill-opacity="0.05"/><rect x="541.59" y="422.55" width="19.19" height="1.3" fill="url(#bandg)" fill-opacity="0.04"/><rect x="544.38" y="423.55" width="15.16" height="1.3" fill="url(#bandg)" fill-opacity="0.05"/><rect x="544.44" y="424.55" width="14.15" height="1.3" fill="url(#bandg)" fill-opacity="0.03"/><rect x="541.01" y="425.55" width="21.27" height="1.3" fill="url(#bandg)" fill-opacity="0.05"/><rect x="541.92" y="426.55" width="20.2" height="1.3" fill="url(#bandg)" fill-opacity="0.04"/><rect x="542.91" y="427.55" width="18.24" height="1.3" fill="url(#bandg)" fill-opacity="0.04"/><rect x="544.91" y="428.55" width="13.13" height="1.3" fill="url(#bandg)" fill-opacity="0.04"/><rect x="545.21" y="429.55" width="13.41" height="1.3" fill="url(#bandg)" fill-opacity="0.04"/><rect x="544.02" y="430.55" width="15.3" height="1.3" fill="url(#bandg)" fill-opacity="0.05"/><rect x="542.79" y="431.55" width="17.49" height="1.3" fill="url(#bandg)" fill-opacity="0.04"/><rect x="541.59" y="432.55" width="20.42" height="1.3" fill="url(#bandg)" fill-opacity="0.05"/><rect x="540.75" y="433.56" width="22.09" height="1.3" fill="url(#bandg)" fill-opacity="0.04"/><rect x="541.89" y="434.56" width="18.89" height="1.3" fill="url(#bandg)" fill-opacity="0.04"/><rect x="540.89" y="435.56" width="21.04" height="1.3" fill="url(#bandg)" fill-opacity="0.03"/><rect x="542.77" y="436.56" width="17.11" height="1.3" fill="url(#bandg)" fill-opacity="0.05"/><rect x="542.33" y="437.56" width="18.58" height="1.3" fill="url(#bandg)" fill-opacity="0.04"/><rect x="540.02" y="438.56" width="22.51" height="1.3" fill="url(#bandg)" fill-opacity="0.04"/><rect x="541.72" y="439.56" width="19.24" height="1.3" fill="url(#bandg)" fill-opacity="0.05"/><rect x="540.87" y="440.56" width="21.36" height="1.3" fill="url(#bandg)" fill-opacity="0.04"/><rect x="540.68" y="441.56" width="22.75" height="1.3" fill="url(#bandg)" fill-opacity="0.04"/><rect x="543.53" y="442.56" width="15.8" height="1.3" fill="url(#bandg)" fill-opacity="0.03"/><rect x="544.26" y="443.56" width="14.14" height="1.3" fill="url(#bandg)" fill-opacity="0.05"/><rect x="540.79" y="444.56" width="22.24" height="1.3" fill="url(#bandg)" fill-opacity="0.05"/><rect x="541.62" y="445.56" width="19.04" height="1.3" fill="url(#bandg)" fill-opacity="0.04"/><rect x="539.94" y="446.56" width="23.4" height="1.3" fill="url(#bandg)" fill-opacity="0.04"/><rect x="545.32" y="447.56" width="13.34" height="1.3" fill="url(#bandg)" fill-opacity="0.04"/><rect x="541.11" y="448.56" width="20.08" height="1.3" fill="url(#bandg)" fill-opacity="0.04"/><rect x="543.74" y="449.56" width="16.03" height="1.3" fill="url(#bandg)" fill-opacity="0.04"/><rect x="543.11" y="450.56" width="16.97" height="1.3" fill="url(#bandg)" fill-opacity="0.04"/><rect x="541.79" y="451.56" width="20.58" height="1.3" fill="url(#bandg)" fill-opacity="0.05"/><rect x="544.4" y="452.56" width="14.7" height="1.3" fill="url(#bandg)" fill-opacity="0.04"/><rect x="543.84" y="453.56" width="14.9" height="1.3" fill="url(#bandg)" fill-opacity="0.04"/><rect x="541.57" y="454.57" width="19.61" height="1.3" fill="url(#bandg)" fill-opacity="0.05"/><rect x="544.51" y="455.57" width="13.99" height="1.3" fill="url(#bandg)" fill-opacity="0.04"/><rect x="544.61" y="456.57" width="14.13" height="1.3" fill="url(#bandg)" fill-opacity="0.04"/><rect x="540.42" y="457.57" width="21.97" height="1.3" fill="url(#bandg)" fill-opacity="0.05"/><rect x="544.66" y="458.57" width="12.91" height="1.3" fill="url(#bandg)" fill-opacity="0.05"/><rect x="542.51" y="459.57" width="17.44" height="1.3" fill="url(#bandg)" fill-opacity="0.04"/><rect x="542.1" y="460.57" width="19.01" height="1.3" fill="url(#bandg)" fill-opacity="0.04"/><rect x="542.56" y="461.57" width="17.6" height="1.3" fill="url(#bandg)" fill-opacity="0.05"/><rect x="542.58" y="462.57" width="18.4" height="1.3" fill="url(#bandg)" fill-opacity="0.04"/><rect x="540.79" y="463.57" width="20.63" height="1.3" fill="url(#bandg)" fill-opacity="0.04"/><rect x="544.43" y="464.57" width="14.58" height="1.3" fill="url(#bandg)" fill-opacity="0.05"/><rect x="545.32" y="465.57" width="13.37" height="1.3" fill="url(#bandg)" fill-opacity="0.04"/><rect x="540.32" y="466.57" width="22.29" height="1.3" fill="url(#bandg)" fill-opacity="0.05"/><rect x="542.05" y="467.57" width="19.4" height="1.3" fill="url(#bandg)" fill-opacity="0.04"/><rect x="541.75" y="468.57" width="18.98" height="1.3" fill="url(#bandg)" fill-opacity="0.05"/><rect x="540.29" y="469.57" width="22.74" height="1.3" fill="url(#bandg)" fill-opacity="0.05"/><rect x="541.9" y="470.57" width="18.48" height="1.3" fill="url(#bandg)" fill-opacity="0.05"/><rect x="544.52" y="471.57" width="13.41" height="1.3" fill="url(#bandg)" fill-opacity="0.05"/><rect x="539.58" y="472.57" width="23.12" height="1.3" fill="url(#bandg)" fill-opacity="0.05"/><rect x="542.68" y="473.57" width="18.71" height="1.3" fill="url(#bandg)" fill-opacity="0.05"/><rect x="545.15" y="474.58" width="13.65" height="1.3" fill="url(#bandg)" fill-opacity="0.05"/><rect x="541.96" y="475.58" width="20.25" height="1.3" fill="url(#bandg)" fill-opacity="0.04"/><rect x="540.25" y="476.58" width="22.21" height="1.3" fill="url(#bandg)" fill-opacity="0.04"/><rect x="544.28" y="477.58" width="14.82" height="1.3" fill="url(#bandg)" fill-opacity="0.05"/><rect x="540.61" y="478.58" width="22.69" height="1.3" fill="url(#bandg)" fill-opacity="0.04"/><rect x="544.29" y="479.58" width="14.34" height="1.3" fill="url(#bandg)" fill-opacity="0.04"/><rect x="541.49" y="480.58" width="20.44" height="1.3" fill="url(#bandg)" fill-opacity="0.04"/><rect x="541.39" y="481.58" width="20.22" height="1.3" fill="url(#bandg)" fill-opacity="0.04"/><rect x="540.7" y="482.58" width="22.14" height="1.3" fill="url(#bandg)" fill-opacity="0.04"/><rect x="544.69" y="483.58" width="13.18" height="1.3" fill="url(#bandg)" fill-opacity="0.05"/><rect x="539.88" y="484.58" width="23.27" height="1.3" fill="url(#bandg)" fill-opacity="0.04"/><rect x="545.24" y="485.58" width="12.98" height="1.3" fill="url(#bandg)" fill-opacity="0.04"/><rect x="544.05" y="486.58" width="15.28" height="1.3" fill="url(#bandg)" fill-opacity="0.04"/><rect x="540.47" y="487.58" width="21.28" height="1.3" fill="url(#bandg)" fill-opacity="0.03"/><rect x="540.5" y="488.58" width="21.4" height="1.3" fill="url(#bandg)" fill-opacity="0.04"/><rect x="541.87" y="489.58" width="20.08" height="1.3" fill="url(#bandg)" fill-opacity="0.04"/><rect x="539.76" y="490.58" width="22.85" height="1.3" fill="url(#bandg)" fill-opacity="0.04"/><rect x="544.06" y="491.58" width="15.57" height="1.3" fill="url(#bandg)" fill-opacity="0.04"/><rect x="540.45" y="492.58" width="21.64" height="1.3" fill="url(#bandg)" fill-opacity="0.05"/><rect x="545.33" y="493.58" width="13.34" height="1.3" fill="url(#bandg)" fill-opacity="0.04"/><rect x="543.1" y="494.58" width="16.1" height="1.3" fill="url(#bandg)" fill-opacity="0.04"/><rect x="540.27" y="495.59" width="21.94" height="1.3" fill="url(#bandg)" fill-opacity="0.05"/><rect x="540.02" y="496.59" width="22.45" height="1.3" fill="url(#bandg)" fill-opacity="0.04"/><rect x="544.44" y="497.59" width="14.23" height="1.3" fill="url(#bandg)" fill-opacity="0.05"/><rect x="542.66" y="498.59" width="16.93" height="1.3" fill="url(#bandg)" fill-opacity="0.04"/><rect x="540.99" y="499.59" width="20.9" height="1.3" fill="url(#bandg)" fill-opacity="0.04"/><rect x="541.05" y="500.59" width="20.77" height="1.3" fill="url(#bandg)" fill-opacity="0.04"/><rect x="543.1" y="501.59" width="16.38" height="1.3" fill="url(#bandg)" fill-opacity="0.03"/><rect x="542.98" y="502.59" width="17.35" height="1.3" fill="url(#bandg)" fill-opacity="0.03"/><rect x="540.53" y="503.59" width="22.44" height="1.3" fill="url(#bandg)" fill-opacity="0.04"/><rect x="540.32" y="504.59" width="21.71" height="1.3" fill="url(#bandg)" fill-opacity="0.04"/><rect x="541.25" y="505.59" width="20.14" height="1.3" fill="url(#bandg)" fill-opacity="0.04"/><rect x="544.85" y="506.59" width="13.62" height="1.3" fill="url(#bandg)" fill-opacity="0.04"/><rect x="543.21" y="507.59" width="17.22" height="1.3" fill="url(#bandg)" fill-opacity="0.04"/><rect x="545.22" y="508.59" width="13.73" height="1.3" fill="url(#bandg)" fill-opacity="0.04"/><rect x="544.48" y="509.59" width="14.74" height="1.3" fill="url(#bandg)" fill-opacity="0.04"/><rect x="543.17" y="510.59" width="16.6" height="1.3" fill="url(#bandg)" fill-opacity="0.05"/><rect x="541.17" y="511.59" width="19.93" height="1.3" fill="url(#bandg)" fill-opacity="0.04"/><rect x="541.83" y="512.59" width="19.79" height="1.3" fill="url(#bandg)" fill-opacity="0.04"/><rect x="544.96" y="513.59" width="12.72" height="1.3" fill="url(#bandg)" fill-opacity="0.04"/><rect x="541.78" y="514.59" width="19.05" height="1.3" fill="url(#bandg)" fill-opacity="0.04"/><rect x="540.28" y="515.6" width="21.72" height="1.3" fill="url(#bandg)" fill-opacity="0.03"/><rect x="544.32" y="516.6" width="14.01" height="1.3" fill="url(#bandg)" fill-opacity="0.04"/><rect x="541.87" y="517.6" width="18.62" height="1.3" fill="url(#bandg)" fill-opacity="0.04"/><rect x="539.94" y="518.6" width="23.33" height="1.3" fill="url(#bandg)" fill-opacity="0.05"/><rect x="542.95" y="519.6" width="16.62" height="1.3" fill="url(#bandg)" fill-opacity="0.04"/><rect x="541.89" y="520.6" width="19.92" height="1.3" fill="url(#bandg)" fill-opacity="0.04"/><rect x="544.94" y="521.6" width="12.63" height="1.3" fill="url(#bandg)" fill-opacity="0.05"/><rect x="540.77" y="522.6" width="22.62" height="1.3" fill="url(#bandg)" fill-opacity="0.05"/><rect x="543.91" y="523.6" width="14.75" height="1.3" fill="url(#bandg)" fill-opacity="0.04"/><rect x="543.9" y="524.6" width="16.12" height="1.3" fill="url(#bandg)" fill-opacity="0.04"/></g>
<rect x="515.6" y="320.5" width="69" height="205.1" fill="none" stroke="#7a7a7a" stroke-width="0.8"/>
<g filter="url(#hmf3)"><rect x="590" y="320.5" width="68.6" height="1.3" fill="#6b6b6b"/><rect x="590" y="321.5" width="68.6" height="1.3" fill="#6b6b6b"/><rect x="590" y="322.5" width="68.6" height="1.3" fill="#696969"/><rect x="590" y="323.5" width="68.6" height="1.3" fill="#686868"/><rect x="590" y="324.5" width="68.6" height="1.3" fill="#696969"/><rect x="590" y="325.5" width="68.6" height="1.3" fill="#696969"/><rect x="590" y="326.5" width="68.6" height="1.3" fill="#646464"/><rect x="590" y="327.5" width="68.6" height="1.3" fill="#6b6b6b"/><rect x="590" y="328.5" width="68.6" height="1.3" fill="#666666"/><rect x="590" y="329.5" width="68.6" height="1.3" fill="#666666"/><rect x="590" y="330.5" width="68.6" height="1.3" fill="#626262"/><rect x="590" y="331.51" width="68.6" height="1.3" fill="#696969"/><rect x="590" y="332.51" width="68.6" height="1.3" fill="#666666"/><rect x="590" y="333.51" width="68.6" height="1.3" fill="#616161"/><rect x="590" y="334.51" width="68.6" height="1.3" fill="#686868"/><rect x="590" y="335.51" width="68.6" height="1.3" fill="#676767"/><rect x="590" y="336.51" width="68.6" height="1.3" fill="#616161"/><rect x="590" y="337.51" width="68.6" height="1.3" fill="#6a6a6a"/><rect x="631.14" y="337.51" width="17.49" height="1" fill="#d1d1d1" fill-opacity="0.85"/><rect x="590" y="338.51" width="68.6" height="1.3" fill="#616161"/><rect x="590" y="339.51" width="68.6" height="1.3" fill="#656565"/><rect x="590" y="340.51" width="68.6" height="1.3" fill="#696969"/><rect x="590" y="341.51" width="68.6" height="1.3" fill="#696969"/><rect x="590" y="342.51" width="68.6" height="1.3" fill="#666666"/><rect x="590" y="343.51" width="68.6" height="1.3" fill="#606060"/><rect x="590" y="344.51" width="68.6" height="1.3" fill="#666666"/><rect x="590" y="345.51" width="68.6" height="1.3" fill="#616161"/><rect x="590" y="346.51" width="68.6" height="1.3" fill="#696969"/><rect x="590" y="347.51" width="68.6" height="1.3" fill="#636363"/><rect x="590" y="348.51" width="68.6" height="1.3" fill="#696969"/><rect x="590" y="349.51" width="68.6" height="1.3" fill="#6c6c6c"/><rect x="590" y="350.51" width="68.6" height="1.3" fill="#606060"/><rect x="590" y="351.52" width="68.6" height="1.3" fill="#666666"/><rect x="590" y="352.52" width="68.6" height="1.3" fill="#636363"/><rect x="590" y="353.52" width="68.6" height="1.3" fill="#636363"/><rect x="590" y="354.52" width="68.6" height="1.3" fill="#636363"/><rect x="590" y="355.52" width="68.6" height="1.3" fill="#656565"/><rect x="590" y="356.52" width="68.6" height="1.3" fill="#666666"/><rect x="590" y="357.52" width="68.6" height="1.3" fill="#646464"/><rect x="590" y="358.52" width="68.6" height="1.3" fill="#646464"/><rect x="590" y="359.52" width="68.6" height="1.3" fill="#646464"/><rect x="590" y="360.52" width="68.6" height="1.3" fill="#676767"/><rect x="590" y="361.52" width="68.6" height="1.3" fill="#696969"/><rect x="590" y="362.52" width="68.6" height="1.3" fill="#696969"/><rect x="590" y="363.52" width="68.6" height="1.3" fill="#646464"/><rect x="590" y="364.52" width="68.6" height="1.3" fill="#626262"/><rect x="590" y="365.52" width="68.6" height="1.3" fill="#666666"/><rect x="590" y="366.52" width="68.6" height="1.3" fill="#666666"/><rect x="590" y="367.52" width="68.6" height="1.3" fill="#606060"/><rect x="590" y="368.52" width="68.6" height="1.3" fill="#636363"/><rect x="590" y="369.52" width="68.6" height="1.3" fill="#5d5d5d"/><rect x="590" y="370.52" width="68.6" height="1.3" fill="#646464"/><rect x="590" y="371.52" width="68.6" height="1.3" fill="#6c6c6c"/><rect x="590" y="372.53" width="68.6" height="1.3" fill="#616161"/><rect x="590" y="373.53" width="68.6" height="1.3" fill="#666666"/><rect x="590" y="374.53" width="68.6" height="1.3" fill="#686868"/><rect x="590" y="375.53" width="68.6" height="1.3" fill="#656565"/><rect x="590" y="376.53" width="68.6" height="1.3" fill="#666666"/><rect x="590" y="377.53" width="68.6" height="1.3" fill="#626262"/><rect x="590" y="378.53" width="68.6" height="1.3" fill="#676767"/><rect x="590" y="379.53" width="68.6" height="1.3" fill="#656565"/><rect x="590" y="380.53" width="68.6" height="1.3" fill="#646464"/><rect x="590" y="381.53" width="68.6" height="1.3" fill="#616161"/><rect x="590" y="382.53" width="68.6" height="1.3" fill="#636363"/><rect x="590" y="383.53" width="68.6" height="1.3" fill="#656565"/><rect x="590" y="384.53" width="68.6" height="1.3" fill="#5f5f5f"/><rect x="590" y="385.53" width="68.6" height="1.3" fill="#626262"/><rect x="590" y="386.53" width="68.6" height="1.3" fill="#5d5d5d"/><rect x="590" y="387.53" width="68.6" height="1.3" fill="#666666"/><rect x="590" y="388.53" width="68.6" height="1.3" fill="#5c5c5c"/><rect x="590" y="389.53" width="68.6" height="1.3" fill="#626262"/><rect x="590" y="390.53" width="68.6" height="1.3" fill="#626262"/><rect x="590" y="391.53" width="68.6" height="1.3" fill="#616161"/><rect x="590" y="392.54" width="68.6" height="1.3" fill="#636363"/><rect x="590" y="393.54" width="68.6" height="1.3" fill="#616161"/><rect x="590" y="394.54" width="68.6" height="1.3" fill="#656565"/><rect x="590" y="395.54" width="68.6" height="1.3" fill="#5f5f5f"/><rect x="590" y="396.54" width="68.6" height="1.3" fill="#646464"/><rect x="590" y="397.54" width="68.6" height="1.3" fill="#646464"/><rect x="590" y="398.54" width="68.6" height="1.3" fill="#606060"/><rect x="590" y="399.54" width="68.6" height="1.3" fill="#646464"/><rect x="590" y="400.54" width="68.6" height="1.3" fill="#626262"/><rect x="590" y="401.54" width="68.6" height="1.3" fill="#636363"/><rect x="590" y="402.54" width="68.6" height="1.3" fill="#606060"/><rect x="590" y="403.54" width="68.6" height="1.3" fill="#676767"/><rect x="590" y="404.54" width="68.6" height="1.3" fill="#5f5f5f"/><rect x="590" y="405.54" width="68.6" height="1.3" fill="#626262"/><rect x="590" y="406.54" width="68.6" height="1.3" fill="#656565"/><rect x="590" y="407.54" width="68.6" height="1.3" fill="#696969"/><rect x="590" y="408.54" width="68.6" height="1.3" fill="#636363"/><rect x="590" y="409.54" width="68.6" height="1.3" fill="#616161"/><rect x="590" y="410.54" width="68.6" height="1.3" fill="#666666"/><rect x="590" y="411.54" width="68.6" height="1.3" fill="#616161"/><rect x="590" y="412.54" width="68.6" height="1.3" fill="#626262"/><rect x="590" y="413.55" width="68.6" height="1.3" fill="#626262"/><rect x="590" y="414.55" width="68.6" height="1.3" fill="#626262"/><rect x="590" y="415.55" width="68.6" height="1.3" fill="#606060"/><rect x="590" y="416.55" width="68.6" height="1.3" fill="#5f5f5f"/><rect x="590" y="417.55" width="68.6" height="1.3" fill="#626262"/><rect x="590" y="418.55" width="68.6" height="1.3" fill="#656565"/><rect x="590" y="419.55" width="68.6" height="1.3" fill="#5f5f5f"/><rect x="590" y="420.55" width="68.6" height="1.3" fill="#606060"/><rect x="590" y="421.55" width="68.6" height="1.3" fill="#616161"/><rect x="590" y="422.55" width="68.6" height="1.3" fill="#636363"/><rect x="590" y="423.55" width="68.6" height="1.3" fill="#646464"/><rect x="590" y="424.55" width="68.6" height="1.3" fill="#5e5e5e"/><rect x="590" y="425.55" width="68.6" height="1.3" fill="#646464"/><rect x="590" y="426.55" width="68.6" height="1.3" fill="#5d5d5d"/><rect x="590" y="427.55" width="68.6" height="1.3" fill="#616161"/><rect x="590" y="428.55" width="68.6" height="1.3" fill="#5d5d5d"/><rect x="590" y="429.55" width="68.6" height="1.3" fill="#616161"/><rect x="590" y="430.55" width="68.6" height="1.3" fill="#5f5f5f"/><rect x="590" y="431.55" width="68.6" height="1.3" fill="#616161"/><rect x="590" y="432.55" width="68.6" height="1.3" fill="#5e5e5e"/><rect x="590" y="433.56" width="68.6" height="1.3" fill="#656565"/><rect x="590" y="434.56" width="68.6" height="1.3" fill="#606060"/><rect x="590" y="435.56" width="68.6" height="1.3" fill="#616161"/><rect x="590" y="436.56" width="68.6" height="1.3" fill="#5c5c5c"/><rect x="590" y="437.56" width="68.6" height="1.3" fill="#5c5c5c"/><rect x="590" y="438.56" width="68.6" height="1.3" fill="#646464"/><rect x="590" y="439.56" width="68.6" height="1.3" fill="#616161"/><rect x="590" y="440.56" width="68.6" height="1.3" fill="#585858"/><rect x="590" y="441.56" width="68.6" height="1.3" fill="#5e5e5e"/><rect x="590" y="442.56" width="68.6" height="1.3" fill="#616161"/><rect x="590" y="443.56" width="68.6" height="1.3" fill="#5f5f5f"/><rect x="590" y="444.56" width="68.6" height="1.3" fill="#616161"/><rect x="590" y="445.56" width="68.6" height="1.3" fill="#5b5b5b"/><rect x="590" y="446.56" width="68.6" height="1.3" fill="#616161"/><rect x="590" y="447.56" width="68.6" height="1.3" fill="#5d5d5d"/><rect x="590" y="448.56" width="68.6" height="1.3" fill="#626262"/><rect x="590" y="449.56" width="68.6" height="1.3" fill="#5e5e5e"/><rect x="590" y="450.56" width="68.6" height="1.3" fill="#5f5f5f"/><rect x="590" y="451.56" width="68.6" height="1.3" fill="#5e5e5e"/><rect x="590" y="452.56" width="68.6" height="1.3" fill="#5b5b5b"/><rect x="590" y="453.56" width="68.6" height="1.3" fill="#5e5e5e"/><rect x="590" y="454.57" width="68.6" height="1.3" fill="#575757"/><rect x="590" y="455.57" width="68.6" height="1.3" fill="#5e5e5e"/><rect x="590" y="456.57" width="68.6" height="1.3" fill="#626262"/><rect x="590" y="457.57" width="68.6" height="1.3" fill="#606060"/><rect x="590" y="458.57" width="68.6" height="1.3" fill="#5b5b5b"/><rect x="590" y="459.57" width="68.6" height="1.3" fill="#5a5a5a"/><rect x="590" y="460.57" width="68.6" height="1.3" fill="#606060"/><rect x="590" y="461.57" width="68.6" height="1.3" fill="#5c5c5c"/><rect x="590" y="462.57" width="68.6" height="1.3" fill="#5e5e5e"/><rect x="590" y="463.57" width="68.6" height="1.3" fill="#606060"/><rect x="590" y="464.57" width="68.6" height="1.3" fill="#5c5c5c"/><rect x="590" y="465.57" width="68.6" height="1.3" fill="#5b5b5b"/><rect x="590" y="466.57" width="68.6" height="1.3" fill="#5d5d5d"/><rect x="590" y="467.57" width="68.6" height="1.3" fill="#5f5f5f"/><rect x="590" y="468.57" width="68.6" height="1.3" fill="#606060"/><rect x="590" y="469.57" width="68.6" height="1.3" fill="#616161"/><rect x="590" y="470.57" width="68.6" height="1.3" fill="#5a5a5a"/><rect x="590" y="471.57" width="68.6" height="1.3" fill="#5b5b5b"/><rect x="590" y="472.57" width="68.6" height="1.3" fill="#5c5c5c"/><rect x="590" y="473.57" width="68.6" height="1.3" fill="#5d5d5d"/><rect x="590" y="474.58" width="68.6" height="1.3" fill="#5d5d5d"/><rect x="590" y="475.58" width="68.6" height="1.3" fill="#5d5d5d"/><rect x="590" y="476.58" width="68.6" height="1.3" fill="#5e5e5e"/><rect x="590" y="477.58" width="68.6" height="1.3" fill="#5f5f5f"/><rect x="590" y="478.58" width="68.6" height="1.3" fill="#575757"/><rect x="590" y="479.58" width="68.6" height="1.3" fill="#5c5c5c"/><rect x="590" y="480.58" width="68.6" height="1.3" fill="#5f5f5f"/><rect x="590" y="481.58" width="68.6" height="1.3" fill="#5e5e5e"/><rect x="590" y="482.58" width="68.6" height="1.3" fill="#5c5c5c"/><rect x="590" y="483.58" width="68.6" height="1.3" fill="#5c5c5c"/><rect x="590" y="484.58" width="68.6" height="1.3" fill="#5c5c5c"/><rect x="590" y="485.58" width="68.6" height="1.3" fill="#5a5a5a"/><rect x="590" y="486.58" width="68.6" height="1.3" fill="#636363"/><rect x="590" y="487.58" width="68.6" height="1.3" fill="#595959"/><rect x="590" y="488.58" width="68.6" height="1.3" fill="#5f5f5f"/><rect x="590" y="489.58" width="68.6" height="1.3" fill="#5a5a5a"/><rect x="590" y="490.58" width="68.6" height="1.3" fill="#5c5c5c"/><rect x="590" y="491.58" width="68.6" height="1.3" fill="#5d5d5d"/><rect x="590" y="492.58" width="68.6" height="1.3" fill="#616161"/><rect x="590" y="493.58" width="68.6" height="1.3" fill="#5f5f5f"/><rect x="590" y="494.58" width="68.6" height="1.3" fill="#5c5c5c"/><rect x="590" y="495.59" width="68.6" height="1.3" fill="#575757"/><rect x="590" y="496.59" width="68.6" height="1.3" fill="#5c5c5c"/><rect x="590" y="497.59" width="68.6" height="1.3" fill="#5d5d5d"/><rect x="590" y="498.59" width="68.6" height="1.3" fill="#606060"/><rect x="590" y="499.59" width="68.6" height="1.3" fill="#5a5a5a"/><rect x="590" y="500.59" width="68.6" height="1.3" fill="#5a5a5a"/><rect x="590" y="501.59" width="68.6" height="1.3" fill="#545454"/><rect x="590" y="502.59" width="68.6" height="1.3" fill="#575757"/><rect x="590" y="503.59" width="68.6" height="1.3" fill="#5e5e5e"/><rect x="590" y="504.59" width="68.6" height="1.3" fill="#565656"/><rect x="590" y="505.59" width="68.6" height="1.3" fill="#5c5c5c"/><rect x="590" y="506.59" width="68.6" height="1.3" fill="#575757"/><rect x="590" y="507.59" width="68.6" height="1.3" fill="#5a5a5a"/><rect x="590" y="508.59" width="68.6" height="1.3" fill="#5e5e5e"/><rect x="590" y="509.59" width="68.6" height="1.3" fill="#5a5a5a"/><rect x="590" y="510.59" width="68.6" height="1.3" fill="#5c5c5c"/><rect x="590" y="511.59" width="68.6" height="1.3" fill="#626262"/><rect x="590" y="512.59" width="68.6" height="1.3" fill="#5a5a5a"/><rect x="590" y="513.59" width="68.6" height="1.3" fill="#575757"/><rect x="590" y="514.59" width="68.6" height="1.3" fill="#5b5b5b"/><rect x="590" y="515.6" width="68.6" height="1.3" fill="#5f5f5f"/><rect x="590" y="516.6" width="68.6" height="1.3" fill="#5e5e5e"/><rect x="590" y="517.6" width="68.6" height="1.3" fill="#5b5b5b"/><rect x="590" y="518.6" width="68.6" height="1.3" fill="#5e5e5e"/><rect x="590" y="519.6" width="68.6" height="1.3" fill="#5e5e5e"/><rect x="590" y="520.6" width="68.6" height="1.3" fill="#5b5b5b"/><rect x="590" y="521.6" width="68.6" height="1.3" fill="#5d5d5d"/><rect x="590" y="522.6" width="68.6" height="1.3" fill="#555555"/><rect x="590" y="523.6" width="68.6" height="1.3" fill="#585858"/><rect x="590" y="524.6" width="68.6" height="1.3" fill="#5a5a5a"/><rect x="614.04" y="320.5" width="19.88" height="1.3" fill="url(#bandg)" fill-opacity="0.06"/><rect x="617.53" y="321.5" width="12.63" height="1.3" fill="url(#bandg)" fill-opacity="0.07"/><rect x="617.83" y="322.5" width="12.94" height="1.3" fill="url(#bandg)" fill-opacity="0.06"/><rect x="615.81" y="323.5" width="16.92" height="1.3" fill="url(#bandg)" fill-opacity="0.07"/><rect x="617.73" y="324.5" width="13.09" height="1.3" fill="url(#bandg)" fill-opacity="0.07"/><rect x="612.02" y="325.5" width="22.57" height="1.3" fill="url(#bandg)" fill-opacity="0.07"/><rect x="616.61" y="326.5" width="14.31" height="1.3" fill="url(#bandg)" fill-opacity="0.06"/><rect x="616.31" y="327.5" width="14.54" height="1.3" fill="url(#bandg)" fill-opacity="0.07"/><rect x="612.85" y="328.5" width="22.28" height="1.3" fill="url(#bandg)" fill-opacity="0.06"/><rect x="613.69" y="329.5" width="19.72" height="1.3" fill="url(#bandg)" fill-opacity="0.06"/><rect x="616.68" y="330.5" width="14.97" height="1.3" fill="url(#bandg)" fill-opacity="0.06"/><rect x="612.22" y="331.51" width="22.69" height="1.3" fill="url(#bandg)" fill-opacity="0.07"/><rect x="614.87" y="332.51" width="18.52" height="1.3" fill="url(#bandg)" fill-opacity="0.06"/><rect x="614.52" y="333.51" width="18.11" height="1.3" fill="url(#bandg)" fill-opacity="0.06"/><rect x="615.32" y="334.51" width="16.19" height="1.3" fill="url(#bandg)" fill-opacity="0.07"/><rect x="616.65" y="335.51" width="15.06" height="1.3" fill="url(#bandg)" fill-opacity="0.07"/><rect x="616.3" y="336.51" width="14.31" height="1.3" fill="url(#bandg)" fill-opacity="0.07"/><rect x="613.34" y="337.51" width="20.99" height="1.3" fill="url(#bandg)" fill-opacity="0.06"/><rect x="616.9" y="338.51" width="13.14" height="1.3" fill="url(#bandg)" fill-opacity="0.06"/><rect x="612.14" y="339.51" width="22.89" height="1.3" fill="url(#bandg)" fill-opacity="0.06"/><rect x="614.62" y="340.51" width="18.74" height="1.3" fill="url(#bandg)" fill-opacity="0.07"/><rect x="614.52" y="341.51" width="18.28" height="1.3" fill="url(#bandg)" fill-opacity="0.07"/><rect x="617" y="342.51" width="14.24" height="1.3" fill="url(#bandg)" fill-opacity="0.06"/><rect x="613.11" y="343.51" width="21.31" height="1.3" fill="url(#bandg)" fill-opacity="0.06"/><rect x="614.92" y="344.51" width="16.86" height="1.3" fill="url(#bandg)" fill-opacity="0.07"/><rect x="614.48" y="345.51" width="19.59" height="1.3" fill="url(#bandg)" fill-opacity="0.06"/><rect x="613.66" y="346.51" width="20.96" height="1.3" fill="url(#bandg)" fill-opacity="0.05"/><rect x="612.99" y="347.51" width="21.74" height="1.3" fill="url(#bandg)" fill-opacity="0.06"/><rect x="613.63" y="348.51" width="21.13" height="1.3" fill="url(#bandg)" fill-opacity="0.07"/><rect x="616.81" y="349.51" width="13.81" height="1.3" fill="url(#bandg)" fill-opacity="0.06"/><rect x="614.07" y="350.51" width="19.32" height="1.3" fill="url(#bandg)" fill-opacity="0.07"/><rect x="615.19" y="351.52" width="16.78" height="1.3" fill="url(#bandg)" fill-opacity="0.06"/><rect x="617.33" y="352.52" width="12.81" height="1.3" fill="url(#bandg)" fill-opacity="0.06"/><rect x="616.19" y="353.52" width="16.03" height="1.3" fill="url(#bandg)" fill-opacity="0.06"/><rect x="613.31" y="354.52" width="21.78" height="1.3" fill="url(#bandg)" fill-opacity="0.05"/><rect x="615.76" y="355.52" width="16.36" height="1.3" fill="url(#bandg)" fill-opacity="0.07"/><rect x="616.61" y="356.52" width="14.25" height="1.3" fill="url(#bandg)" fill-opacity="0.07"/><rect x="613.15" y="357.52" width="22.28" height="1.3" fill="url(#bandg)" fill-opacity="0.07"/><rect x="614.58" y="358.52" width="17.64" height="1.3" fill="url(#bandg)" fill-opacity="0.06"/><rect x="616.81" y="359.52" width="14.02" height="1.3" fill="url(#bandg)" fill-opacity="0.07"/><rect x="614.75" y="360.52" width="17.72" height="1.3" fill="url(#bandg)" fill-opacity="0.07"/><rect x="615.9" y="361.52" width="16.79" height="1.3" fill="url(#bandg)" fill-opacity="0.06"/><rect x="614.92" y="362.52" width="18.58" height="1.3" fill="url(#bandg)" fill-opacity="0.05"/><rect x="614.78" y="363.52" width="17.88" height="1.3" fill="url(#bandg)" fill-opacity="0.07"/><rect x="616.49" y="364.52" width="15.04" height="1.3" fill="url(#bandg)" fill-opacity="0.06"/><rect x="612.4" y="365.52" width="22.71" height="1.3" fill="url(#bandg)" fill-opacity="0.06"/><rect x="616.49" y="366.52" width="14.18" height="1.3" fill="url(#bandg)" fill-opacity="0.06"/><rect x="613.39" y="367.52" width="21" height="1.3" fill="url(#bandg)" fill-opacity="0.06"/><rect x="612.64" y="368.52" width="21.94" height="1.3" fill="url(#bandg)" fill-opacity="0.06"/><rect x="612.69" y="369.52" width="22.62" height="1.3" fill="url(#bandg)" fill-opacity="0.06"/><rect x="613.24" y="370.52" width="20.22" height="1.3" fill="url(#bandg)" fill-opacity="0.06"/><rect x="614.11" y="371.52" width="19.65" height="1.3" fill="url(#bandg)" fill-opacity="0.07"/><rect x="615.36" y="372.53" width="16.21" height="1.3" fill="url(#bandg)" fill-opacity="0.06"/><rect x="616.26" y="373.53" width="14.55" height="1.3" fill="url(#bandg)" fill-opacity="0.07"/><rect x="614.7" y="374.53" width="18.22" height="1.3" fill="url(#bandg)" fill-opacity="0.07"/><rect x="615.79" y="375.53" width="15.07" height="1.3" fill="url(#bandg)" fill-opacity="0.07"/><rect x="614.64" y="376.53" width="18.23" height="1.3" fill="url(#bandg)" fill-opacity="0.06"/><rect x="614.97" y="377.53" width="17.75" height="1.3" fill="url(#bandg)" fill-opacity="0.07"/><rect x="615.32" y="378.53" width="16.97" height="1.3" fill="url(#bandg)" fill-opacity="0.05"/><rect x="613.01" y="379.53" width="21.99" height="1.3" fill="url(#bandg)" fill-opacity="0.06"/><rect x="615.23" y="380.53" width="16.51" height="1.3" fill="url(#bandg)" fill-opacity="0.07"/><rect x="613.68" y="381.53" width="20.15" height="1.3" fill="url(#bandg)" fill-opacity="0.05"/><rect x="616.77" y="382.53" width="13.15" height="1.3" fill="url(#bandg)" fill-opacity="0.06"/><rect x="613.99" y="383.53" width="19.66" height="1.3" fill="url(#bandg)" fill-opacity="0.06"/><rect x="617.43" y="384.53" width="13.21" height="1.3" fill="url(#bandg)" fill-opacity="0.06"/><rect x="612.98" y="385.53" width="21.06" height="1.3" fill="url(#bandg)" fill-opacity="0.06"/><rect x="616.79" y="386.53" width="13.33" height="1.3" fill="url(#bandg)" fill-opacity="0.07"/><rect x="617.55" y="387.53" width="13.33" height="1.3" fill="url(#bandg)" fill-opacity="0.06"/><rect x="613.36" y="388.53" width="21.11" height="1.3" fill="url(#bandg)" fill-opacity="0.07"/><rect x="613.91" y="389.53" width="19.87" height="1.3" fill="url(#bandg)" fill-opacity="0.07"/><rect x="613.98" y="390.53" width="20.13" height="1.3" fill="url(#bandg)" fill-opacity="0.07"/><rect x="616.83" y="391.53" width="12.96" height="1.3" fill="url(#bandg)" fill-opacity="0.07"/><rect x="617.31" y="392.54" width="12.9" height="1.3" fill="url(#bandg)" fill-opacity="0.06"/><rect x="612.89" y="393.54" width="20.98" height="1.3" fill="url(#bandg)" fill-opacity="0.06"/><rect x="616.53" y="394.54" width="15.4" height="1.3" fill="url(#bandg)" fill-opacity="0.07"/><rect x="613.96" y="395.54" width="20.36" height="1.3" fill="url(#bandg)" fill-opacity="0.06"/><rect x="612.8" y="396.54" width="21.82" height="1.3" fill="url(#bandg)" fill-opacity="0.07"/><rect x="615.83" y="397.54" width="16.36" height="1.3" fill="url(#bandg)" fill-opacity="0.07"/><rect x="615.99" y="398.54" width="14.77" height="1.3" fill="url(#bandg)" fill-opacity="0.06"/><rect x="612.08" y="399.54" width="22.68" height="1.3" fill="url(#bandg)" fill-opacity="0.06"/><rect x="617.03" y="400.54" width="14.48" height="1.3" fill="url(#bandg)" fill-opacity="0.05"/><rect x="616.01" y="401.54" width="14.6" height="1.3" fill="url(#bandg)" fill-opacity="0.07"/><rect x="616.42" y="402.54" width="14.21" height="1.3" fill="url(#bandg)" fill-opacity="0.05"/><rect x="613.97" y="403.54" width="19.67" height="1.3" fill="url(#bandg)" fill-opacity="0.06"/><rect x="615.76" y="404.54" width="15.8" height="1.3" fill="url(#bandg)" fill-opacity="0.07"/><rect x="613.26" y="405.54" width="21.24" height="1.3" fill="url(#bandg)" fill-opacity="0.06"/><rect x="615.58" y="406.54" width="16.08" height="1.3" fill="url(#bandg)" fill-opacity="0.07"/><rect x="616.55" y="407.54" width="13.82" height="1.3" fill="url(#bandg)" fill-opacity="0.07"/><rect x="615.16" y="408.54" width="17.13" height="1.3" fill="url(#bandg)" fill-opacity="0.07"/><rect x="617.28" y="409.54" width="12.78" height="1.3" fill="url(#bandg)" fill-opacity="0.06"/><rect x="614.46" y="410.54" width="18.99" height="1.3" fill="url(#bandg)" fill-opacity="0.06"/><rect x="616.17" y="411.54" width="15.13" height="1.3" fill="url(#bandg)" fill-opacity="0.07"/><rect x="617.29" y="412.54" width="13.66" height="1.3" fill="url(#bandg)" fill-opacity="0.06"/><rect x="612.29" y="413.55" width="22.63" height="1.3" fill="url(#bandg)" fill-opacity="0.07"/><rect x="614.55" y="414.55" width="18.1" height="1.3" fill="url(#bandg)" fill-opacity="0.06"/><rect x="617.58" y="415.55" width="12.82" height="1.3" fill="url(#bandg)" fill-opacity="0.05"/><rect x="613.83" y="416.55" width="19.08" height="1.3" fill="url(#bandg)" fill-opacity="0.06"/><rect x="615.69" y="417.55" width="15.27" height="1.3" fill="url(#bandg)" fill-opacity="0.05"/><rect x="615.56" y="418.55" width="16.52" height="1.3" fill="url(#bandg)" fill-opacity="0.07"/><rect x="616.65" y="419.55" width="14.45" height="1.3" fill="url(#bandg)" fill-opacity="0.06"/><rect x="614.27" y="420.55" width="19.25" height="1.3" fill="url(#bandg)" fill-opacity="0.07"/><rect x="616.87" y="421.55" width="14.09" height="1.3" fill="url(#bandg)" fill-opacity="0.06"/><rect x="615.58" y="422.55" width="15.83" height="1.3" fill="url(#bandg)" fill-opacity="0.07"/><rect x="613.64" y="423.55" width="20.16" height="1.3" fill="url(#bandg)" fill-opacity="0.05"/><rect x="617.36" y="424.55" width="13.01" height="1.3" fill="url(#bandg)" fill-opacity="0.05"/><rect x="615.7" y="425.55" width="15.41" height="1.3" fill="url(#bandg)" fill-opacity="0.07"/><rect x="612.62" y="426.55" width="22.93" height="1.3" fill="url(#bandg)" fill-opacity="0.06"/><rect x="612.18" y="427.55" width="23.22" height="1.3" fill="url(#bandg)" fill-opacity="0.06"/><rect x="615.99" y="428.55" width="15.17" height="1.3" fill="url(#bandg)" fill-opacity="0.06"/><rect x="616.13" y="429.55" width="15.85" height="1.3" fill="url(#bandg)" fill-opacity="0.07"/><rect x="616.45" y="430.55" width="14.45" height="1.3" fill="url(#bandg)" fill-opacity="0.05"/><rect x="614.79" y="431.55" width="18.31" height="1.3" fill="url(#bandg)" fill-opacity="0.06"/><rect x="612.65" y="432.55" width="22.02" height="1.3" fill="url(#bandg)" fill-opacity="0.05"/><rect x="616.82" y="433.56" width="13.16" height="1.3" fill="url(#bandg)" fill-opacity="0.07"/><rect x="612.49" y="434.56" width="21.75" height="1.3" fill="url(#bandg)" fill-opacity="0.06"/><rect x="613.36" y="435.56" width="20" height="1.3" fill="url(#bandg)" fill-opacity="0.05"/><rect x="613.94" y="436.56" width="19.42" height="1.3" fill="url(#bandg)" fill-opacity="0.05"/><rect x="614.05" y="437.56" width="19.73" height="1.3" fill="url(#bandg)" fill-opacity="0.07"/><rect x="614.3" y="438.56" width="19.75" height="1.3" fill="url(#bandg)" fill-opacity="0.07"/><rect x="613.19" y="439.56" width="21.33" height="1.3" fill="url(#bandg)" fill-opacity="0.07"/><rect x="616.68" y="440.56" width="14.06" height="1.3" fill="url(#bandg)" fill-opacity="0.06"/><rect x="616.38" y="441.56" width="14.78" height="1.3" fill="url(#bandg)" fill-opacity="0.06"/><rect x="614.51" y="442.56" width="17.73" height="1.3" fill="url(#bandg)" fill-opacity="0.07"/><rect x="616.12" y="443.56" width="15.65" height="1.3" fill="url(#bandg)" fill-opacity="0.06"/><rect x="613.27" y="444.56" width="21.1" height="1.3" fill="url(#bandg)" fill-opacity="0.06"/><rect x="615.23" y="445.56" width="16.79" height="1.3" fill="url(#bandg)" fill-opacity="0.07"/><rect x="616.34" y="446.56" width="15.45" height="1.3" fill="url(#bandg)" fill-opacity="0.05"/><rect x="612.92" y="447.56" width="22.1" height="1.3" fill="url(#bandg)" fill-opacity="0.07"/><rect x="616.72" y="448.56" width="13.59" height="1.3" fill="url(#bandg)" fill-opacity="0.06"/><rect x="616.46" y="449.56" width="14.75" height="1.3" fill="url(#bandg)" fill-opacity="0.06"/><rect x="616.35" y="450.56" width="15.01" height="1.3" fill="url(#bandg)" fill-opacity="0.05"/><rect x="613.38" y="451.56" width="20.41" height="1.3" fill="url(#bandg)" fill-opacity="0.07"/><rect x="617.5" y="452.56" width="13.53" height="1.3" fill="url(#bandg)" fill-opacity="0.05"/><rect x="614.06" y="453.56" width="20.06" height="1.3" fill="url(#bandg)" fill-opacity="0.06"/><rect x="612.48" y="454.57" width="22.64" height="1.3" fill="url(#bandg)" fill-opacity="0.05"/><rect x="616.09" y="455.57" width="15.57" height="1.3" fill="url(#bandg)" fill-opacity="0.07"/><rect x="613.52" y="456.57" width="21.54" height="1.3" fill="url(#bandg)" fill-opacity="0.06"/><rect x="612.48" y="457.57" width="23.22" height="1.3" fill="url(#bandg)" fill-opacity="0.07"/><rect x="614.16" y="458.57" width="18.39" height="1.3" fill="url(#bandg)" fill-opacity="0.07"/><rect x="613.33" y="459.57" width="21.49" height="1.3" fill="url(#bandg)" fill-opacity="0.07"/><rect x="615.6" y="460.57" width="16.8" height="1.3" fill="url(#bandg)" fill-opacity="0.05"/><rect x="612.99" y="461.57" width="22.27" height="1.3" fill="url(#bandg)" fill-opacity="0.07"/><rect x="613.51" y="462.57" width="21.51" height="1.3" fill="url(#bandg)" fill-opacity="0.07"/><rect x="614.85" y="463.57" width="17.77" height="1.3" fill="url(#bandg)" fill-opacity="0.06"/><rect x="614.56" y="464.57" width="18.86" height="1.3" fill="url(#bandg)" fill-opacity="0.06"/><rect x="615.11" y="465.57" width="17.79" height="1.3" fill="url(#bandg)" fill-opacity="0.06"/><rect x="617.05" y="466.57" width="13.31" height="1.3" fill="url(#bandg)" fill-opacity="0.07"/><rect x="615.2" y="467.57" width="17.86" height="1.3" fill="url(#bandg)" fill-opacity="0.05"/><rect x="616.31" y="468.57" width="14.09" height="1.3" fill="url(#bandg)" fill-opacity="0.05"/><rect x="611.75" y="469.57" width="23.24" height="1.3" fill="url(#bandg)" fill-opacity="0.05"/><rect x="612.56" y="470.57" width="22.06" height="1.3" fill="url(#bandg)" fill-opacity="0.05"/><rect x="614.75" y="471.57" width="18.89" height="1.3" fill="url(#bandg)" fill-opacity="0.05"/><rect x="613.98" y="472.57" width="20.47" height="1.3" fill="url(#bandg)" fill-opacity="0.05"/><rect x="614.39" y="473.57" width="18.81" height="1.3" fill="url(#bandg)" fill-opacity="0.06"/><rect x="612.38" y="474.58" width="23.08" height="1.3" fill="url(#bandg)" fill-opacity="0.07"/><rect x="612.87" y="475.58" width="22.63" height="1.3" fill="url(#bandg)" fill-opacity="0.06"/><rect x="614.68" y="476.58" width="17.37" height="1.3" fill="url(#bandg)" fill-opacity="0.05"/><rect x="613.23" y="477.58" width="20.25" height="1.3" fill="url(#bandg)" fill-opacity="0.06"/><rect x="614.73" y="478.58" width="18.68" height="1.3" fill="url(#bandg)" fill-opacity="0.06"/><rect x="614.07" y="479.58" width="19.53" height="1.3" fill="url(#bandg)" fill-opacity="0.06"/><rect x="615.81" y="480.58" width="16.17" height="1.3" fill="url(#bandg)" fill-opacity="0.05"/><rect x="615.65" y="481.58" width="16.79" height="1.3" fill="url(#bandg)" fill-opacity="0.06"/><rect x="616.36" y="482.58" width="15.5" height="1.3" fill="url(#bandg)" fill-opacity="0.06"/><rect x="613.02" y="483.58" width="21.63" height="1.3" fill="url(#bandg)" fill-opacity="0.06"/><rect x="617.48" y="484.58" width="13.39" height="1.3" fill="url(#bandg)" fill-opacity="0.07"/><rect x="616.09" y="485.58" width="16.13" height="1.3" fill="url(#bandg)" fill-opacity="0.06"/><rect x="617.88" y="486.58" width="12.63" height="1.3" fill="url(#bandg)" fill-opacity="0.05"/><rect x="616.09" y="487.58" width="14.99" height="1.3" fill="url(#bandg)" fill-opacity="0.06"/><rect x="616.51" y="488.58" width="15.04" height="1.3" fill="url(#bandg)" fill-opacity="0.05"/><rect x="614.27" y="489.58" width="18.21" height="1.3" fill="url(#bandg)" fill-opacity="0.05"/><rect x="613.48" y="490.58" width="19.71" height="1.3" fill="url(#bandg)" fill-opacity="0.05"/><rect x="615.92" y="491.58" width="15.09" height="1.3" fill="url(#bandg)" fill-opacity="0.05"/><rect x="613.55" y="492.58" width="19.8" height="1.3" fill="url(#bandg)" fill-opacity="0.06"/><rect x="613.89" y="493.58" width="18.83" height="1.3" fill="url(#bandg)" fill-opacity="0.06"/><rect x="613.62" y="494.58" width="19.65" height="1.3" fill="url(#bandg)" fill-opacity="0.05"/><rect x="614.09" y="495.59" width="19.53" height="1.3" fill="url(#bandg)" fill-opacity="0.06"/><rect x="612.13" y="496.59" width="22.8" height="1.3" fill="url(#bandg)" fill-opacity="0.07"/><rect x="613.78" y="497.59" width="19.46" height="1.3" fill="url(#bandg)" fill-opacity="0.05"/><rect x="616.22" y="498.59" width="16.07" height="1.3" fill="url(#bandg)" fill-opacity="0.05"/><rect x="616.88" y="499.59" width="14.19" height="1.3" fill="url(#bandg)" fill-opacity="0.06"/><rect x="615.93" y="500.59" width="15.8" height="1.3" fill="url(#bandg)" fill-opacity="0.06"/><rect x="616.55" y="501.59" width="13.54" height="1.3" fill="url(#bandg)" fill-opacity="0.06"/><rect x="616.5" y="502.59" width="14.7" height="1.3" fill="url(#bandg)" fill-opacity="0.06"/><rect x="613.61" y="503.59" width="20.44" height="1.3" fill="url(#bandg)" fill-opacity="0.07"/><rect x="611.79" y="504.59" width="23.24" height="1.3" fill="url(#bandg)" fill-opacity="0.05"/><rect x="614.45" y="505.59" width="19.47" height="1.3" fill="url(#bandg)" fill-opacity="0.06"/><rect x="614.77" y="506.59" width="17.4" height="1.3" fill="url(#bandg)" fill-opacity="0.06"/><rect x="616.79" y="507.59" width="14.38" height="1.3" fill="url(#bandg)" fill-opacity="0.06"/><rect x="613.53" y="508.59" width="19.83" height="1.3" fill="url(#bandg)" fill-opacity="0.06"/><rect x="612.45" y="509.59" width="22.9" height="1.3" fill="url(#bandg)" fill-opacity="0.05"/><rect x="615.08" y="510.59" width="17.19" height="1.3" fill="url(#bandg)" fill-opacity="0.07"/><rect x="613.8" y="511.59" width="19.65" height="1.3" fill="url(#bandg)" fill-opacity="0.07"/><rect x="616.28" y="512.59" width="15.71" height="1.3" fill="url(#bandg)" fill-opacity="0.06"/><rect x="615.49" y="513.59" width="16.83" height="1.3" fill="url(#bandg)" fill-opacity="0.06"/><rect x="616.33" y="514.59" width="15.5" height="1.3" fill="url(#bandg)" fill-opacity="0.05"/><rect x="614.56" y="515.6" width="18.52" height="1.3" fill="url(#bandg)" fill-opacity="0.06"/><rect x="614.5" y="516.6" width="18.02" height="1.3" fill="url(#bandg)" fill-opacity="0.06"/><rect x="612.58" y="517.6" width="22.46" height="1.3" fill="url(#bandg)" fill-opacity="0.06"/><rect x="616.72" y="518.6" width="13.86" height="1.3" fill="url(#bandg)" fill-opacity="0.06"/><rect x="616.26" y="519.6" width="14.19" height="1.3" fill="url(#bandg)" fill-opacity="0.06"/><rect x="616.14" y="520.6" width="14.94" height="1.3" fill="url(#bandg)" fill-opacity="0.06"/><rect x="614.44" y="521.6" width="19.36" height="1.3" fill="url(#bandg)" fill-opacity="0.06"/><rect x="616.58" y="522.6" width="14.06" height="1.3" fill="url(#bandg)" fill-opacity="0.06"/><rect x="614.93" y="523.6" width="17.25" height="1.3" fill="url(#bandg)" fill-opacity="0.06"/><rect x="614.84" y="524.6" width="17.43" height="1.3" fill="url(#bandg)" fill-opacity="0.06"/></g>
<rect x="590" y="320.5" width="68.6" height="205.1" fill="none" stroke="#7a7a7a" stroke-width="0.8"/>
<text transform="matrix(1 0 0 1.05 371.7 534)" text-anchor="middle" font-size="6.3" style="stroke-width:0.08px">-3.0</text>
<text transform="matrix(1 0 0 1.05 401.9 534)" text-anchor="middle" font-size="6.3" style="stroke-width:0.08px">TSS</text>
<text transform="matrix(1 0 0 1.05 432.5 534)" text-anchor="middle" font-size="6.3" style="stroke-width:0.08px">3.0</text>
<text transform="matrix(1 0 0 1.05 445.8 534)" text-anchor="middle" font-size="6.3" style="stroke-width:0.08px">-3.0</text>
<text transform="matrix(1 0 0 1.05 476.05 534)" text-anchor="middle" font-size="6.3" style="stroke-width:0.08px">TSS</text>
<text transform="matrix(1 0 0 1.05 506.7 534)" text-anchor="middle" font-size="6.3" style="stroke-width:0.08px">3.0</text>
<text transform="matrix(1 0 0 1.05 520 534)" text-anchor="middle" font-size="6.3" style="stroke-width:0.08px">-3.0</text>
<text transform="matrix(1 0 0 1.05 550.1 534)" text-anchor="middle" font-size="6.3" style="stroke-width:0.08px">TSS</text>
<text transform="matrix(1 0 0 1.05 580.6 534)" text-anchor="middle" font-size="6.3" style="stroke-width:0.08px">3.0</text>
<text transform="matrix(1 0 0 1.05 594.4 534)" text-anchor="middle" font-size="6.3" style="stroke-width:0.08px">-3.0</text>
<text transform="matrix(1 0 0 1.05 624.3 534)" text-anchor="middle" font-size="6.3" style="stroke-width:0.08px">TSS</text>
<text transform="matrix(1 0 0 1.05 654.6 534)" text-anchor="middle" font-size="6.3" style="stroke-width:0.08px">3.0</text>
<text transform="matrix(1 0 0 1.05 479.9 543)" font-size="7.85">Distance from TSS (Kb)</text>
<rect x="663.8" y="320.1" width="3.9" height="204.2" fill="url(#cbar)"/>
<line x1="667.7" y1="352.8" x2="669.2" y2="352.8" stroke="#333" stroke-width="0.6"/>
<text transform="matrix(1 0 0 1.05 673 355)" font-size="6.8" style="stroke-width:0.08px">2</text>
<line x1="667.7" y1="393.9" x2="669.2" y2="393.9" stroke="#333" stroke-width="0.6"/>
<text transform="matrix(1 0 0 1.05 673 396)" font-size="6.8" style="stroke-width:0.08px">1</text>
<line x1="667.7" y1="435" x2="669.2" y2="435" stroke="#333" stroke-width="0.6"/>
<text transform="matrix(1 0 0 1.05 673 437)" font-size="6.8" style="stroke-width:0.08px">0</text>
<line x1="667.7" y1="476.1" x2="669.2" y2="476.1" stroke="#333" stroke-width="0.6"/>
<text transform="matrix(1 0 0 1.05 670.6 479)" font-size="6.8" style="stroke-width:0.08px">-1</text>
<line x1="667.7" y1="517.2" x2="669.2" y2="517.2" stroke="#333" stroke-width="0.6"/>
<text transform="matrix(1 0 0 1.05 670.6 520)" font-size="6.8" style="stroke-width:0.08px">-2</text>
<text x="682.6" y="413.55" text-anchor="middle" font-size="8.2" transform="rotate(-90 682.6 410.6)">Enrichment</text>
<text transform="matrix(1 0 0 1.03 3.8 473.7)" font-weight="bold" font-size="13.6">f</text>
<text transform="matrix(1 0 0 1.05 168.9 477)" text-anchor="middle">Motif 1</text>
<line x1="95.8" y1="477.4" x2="95.8" y2="508.4" stroke="#333" stroke-width="0.9"/>
<text transform="matrix(1 0 0 1.05 92.6 480)" text-anchor="end" font-size="7" style="stroke-width:0.08px">2</text>
<line x1="94.6" y1="477.9" x2="95.8" y2="477.9" stroke="#333" stroke-width="0.6"/>
<text transform="matrix(1 0 0 1.05 92.6 496)" text-anchor="end" font-size="7" style="stroke-width:0.08px">0</text>
<line x1="94.6" y1="493" x2="95.8" y2="493" stroke="#333" stroke-width="0.6"/>
<text transform="matrix(1 0 0 1.05 92.6 510)" text-anchor="end" font-size="7" style="stroke-width:0.08px">1</text>
<line x1="94.6" y1="507.9" x2="95.8" y2="507.9" stroke="#333" stroke-width="0.6"/>
<text x="82.6" y="494.82" text-anchor="middle" font-size="7" style="stroke-width:0.08px" transform="rotate(-90 82.6 492.3)">Bits</text>
<text transform="matrix(13.04 0 0 1.27 96.18 506.49)" font-size="1" font-weight="bold" fill="#ffa500">G</text>
<text transform="matrix(13.13 0 0 1.16 96.37 507.3)" font-size="1" font-weight="bold" fill="#d40000">A</text>
<text transform="matrix(13.44 0 0 1.27 96.16 508.19)" font-size="1" font-weight="bold" fill="#0000cc">C</text>
<text transform="matrix(13.13 0 0 2.46 116.13 506.3)" font-size="1" font-weight="bold" fill="#d40000">A</text>
<text transform="matrix(13.44 0 0 1.69 115.92 507.48)" font-size="1" font-weight="bold" fill="#0000cc">C</text>
<text transform="matrix(13.04 0 0 0.99 115.94 508.19)" font-size="1" font-weight="bold" fill="#ffa500">G</text>
<text transform="matrix(14.92 0 0 7.54 126.19 504)" font-size="1" font-weight="bold" fill="#008000">T</text>
<text transform="matrix(13.44 0 0 4.79 125.8 507.35)" font-size="1" font-weight="bold" fill="#0000cc">C</text>
<text transform="matrix(13.13 0 0 1.16 126.01 508.2)" font-size="1" font-weight="bold" fill="#d40000">A</text>
<text transform="matrix(13.04 0 0 35.63 135.7 506.84)" font-size="1" font-weight="bold" fill="#ffa500">G</text>
<text transform="matrix(13.13 0 0 1.16 135.89 508)" font-size="1" font-weight="bold" fill="#d40000">A</text>
<text transform="matrix(13.04 0 0 35.35 145.58 506.65)" font-size="1" font-weight="bold" fill="#ffa500">G</text>
<text transform="matrix(14.92 0 0 1.45 145.95 508)" font-size="1" font-weight="bold" fill="#008000">T</text>
<text transform="matrix(14.92 0 0 13.77 155.83 504.4)" font-size="1" font-weight="bold" fill="#008000">T</text>
<text transform="matrix(13.44 0 0 4.51 155.44 507.55)" font-size="1" font-weight="bold" fill="#0000cc">C</text>
<text transform="matrix(13.13 0 0 0.87 155.65 508.2)" font-size="1" font-weight="bold" fill="#d40000">A</text>
<text transform="matrix(13.44 0 0 21.97 165.32 504.58)" font-size="1" font-weight="bold" fill="#0000cc">C</text>
<text transform="matrix(13.13 0 0 4.06 165.53 507.6)" font-size="1" font-weight="bold" fill="#d40000">A</text>
<text transform="matrix(13.04 0 0 0.85 165.34 508.19)" font-size="1" font-weight="bold" fill="#ffa500">G</text>
<text transform="matrix(13.13 0 0 28.12 175.41 506.3)" font-size="1" font-weight="bold" fill="#d40000">A</text>
<text transform="matrix(13.44 0 0 1.55 175.2 507.38)" font-size="1" font-weight="bold" fill="#0000cc">C</text>
<text transform="matrix(13.04 0 0 1.13 175.22 508.19)" font-size="1" font-weight="bold" fill="#ffa500">G</text>
<text transform="matrix(13.44 0 0 34.51 185.08 506.85)" font-size="1" font-weight="bold" fill="#0000cc">C</text>
<text transform="matrix(13.13 0 0 1.16 185.29 508)" font-size="1" font-weight="bold" fill="#d40000">A</text>
<text transform="matrix(13.13 0 0 20.14 195.17 505.5)" font-size="1" font-weight="bold" fill="#d40000">A</text>
<text transform="matrix(13.04 0 0 1.83 194.98 506.78)" font-size="1" font-weight="bold" fill="#ffa500">G</text>
<text transform="matrix(14.92 0 0 1.74 195.35 508)" font-size="1" font-weight="bold" fill="#008000">T</text>
<text transform="matrix(13.44 0 0 31.27 204.84 506.09)" font-size="1" font-weight="bold" fill="#0000cc">C</text>
<text transform="matrix(14.92 0 0 2.32 205.23 508)" font-size="1" font-weight="bold" fill="#008000">T</text>
<text transform="matrix(14.92 0 0 18.99 215.11 504.7)" font-size="1" font-weight="bold" fill="#008000">T</text>
<text transform="matrix(13.44 0 0 3.8 214.72 507.36)" font-size="1" font-weight="bold" fill="#0000cc">C</text>
<text transform="matrix(13.13 0 0 1.16 214.93 508.2)" font-size="1" font-weight="bold" fill="#d40000">A</text>
<text transform="matrix(13.04 0 0 4.23 224.62 505.56)" font-size="1" font-weight="bold" fill="#ffa500">G</text>
<text transform="matrix(13.13 0 0 2.32 224.81 507.2)" font-size="1" font-weight="bold" fill="#d40000">A</text>
<text transform="matrix(13.44 0 0 1.41 224.6 508.19)" font-size="1" font-weight="bold" fill="#0000cc">C</text>
<text transform="matrix(13.13 0 0 1.16 234.69 508)" font-size="1" font-weight="bold" fill="#d40000">A</text>
<text x="101.3" y="512.08" text-anchor="end" font-size="6.9" style="stroke-width:0.08px" transform="rotate(-90 101.3 509.6)">1</text>
<text x="111.18" y="512.08" text-anchor="end" font-size="6.9" style="stroke-width:0.08px" transform="rotate(-90 111.18 509.6)">2</text>
<text x="121.06" y="512.08" text-anchor="end" font-size="6.9" style="stroke-width:0.08px" transform="rotate(-90 121.06 509.6)">3</text>
<text x="130.94" y="512.08" text-anchor="end" font-size="6.9" style="stroke-width:0.08px" transform="rotate(-90 130.94 509.6)">4</text>
<text x="140.82" y="512.08" text-anchor="end" font-size="6.9" style="stroke-width:0.08px" transform="rotate(-90 140.82 509.6)">5</text>
<text x="150.7" y="512.08" text-anchor="end" font-size="6.9" style="stroke-width:0.08px" transform="rotate(-90 150.7 509.6)">6</text>
<text x="160.58" y="512.08" text-anchor="end" font-size="6.9" style="stroke-width:0.08px" transform="rotate(-90 160.58 509.6)">7</text>
<text x="170.46" y="512.08" text-anchor="end" font-size="6.9" style="stroke-width:0.08px" transform="rotate(-90 170.46 509.6)">8</text>
<text x="180.34" y="512.08" text-anchor="end" font-size="6.9" style="stroke-width:0.08px" transform="rotate(-90 180.34 509.6)">9</text>
<text x="190.22" y="512.08" text-anchor="end" font-size="6.9" style="stroke-width:0.08px" transform="rotate(-90 190.22 509.6)">10</text>
<text x="200.1" y="512.08" text-anchor="end" font-size="6.9" style="stroke-width:0.08px" transform="rotate(-90 200.1 509.6)">11</text>
<text x="209.98" y="512.08" text-anchor="end" font-size="6.9" style="stroke-width:0.08px" transform="rotate(-90 209.98 509.6)">12</text>
<text x="219.86" y="512.08" text-anchor="end" font-size="6.9" style="stroke-width:0.08px" transform="rotate(-90 219.86 509.6)">13</text>
<text x="229.74" y="512.08" text-anchor="end" font-size="6.9" style="stroke-width:0.08px" transform="rotate(-90 229.74 509.6)">14</text>
<text x="239.62" y="512.08" text-anchor="end" font-size="6.9" style="stroke-width:0.08px" transform="rotate(-90 239.62 509.6)">15</text>
</svg>
</body></html>
